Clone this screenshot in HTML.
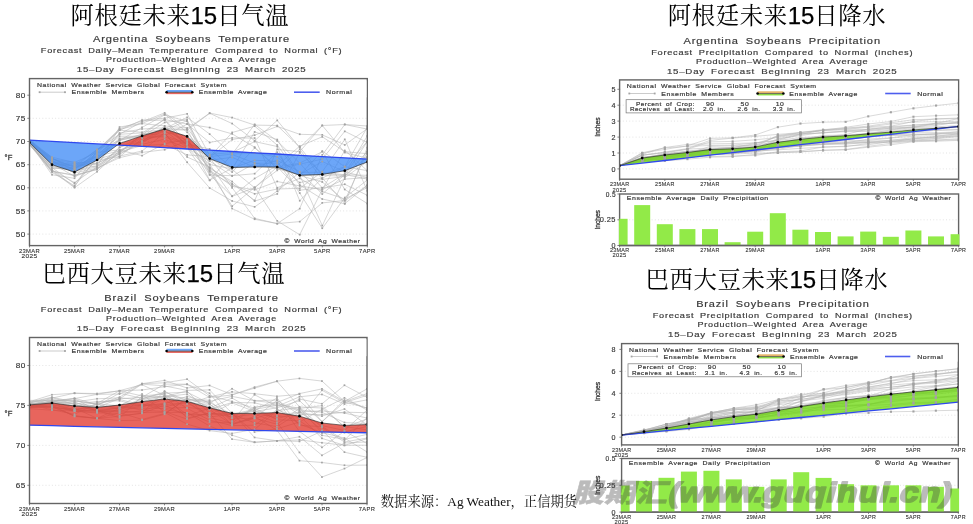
<!DOCTYPE html>
<html lang="zh"><head><meta charset="utf-8"><title>大豆天气预报</title>
<style>html,body{margin:0;padding:0;background:#fff;}body{width:973px;height:524px;overflow:hidden;}svg{display:block;}</style>
</head><body>
<svg width="973" height="524" viewBox="0 0 973 524" font-family="'Liberation Sans', sans-serif">
<rect width="973" height="524" fill="#fff"/>
<text x="70.5" y="23.7" font-size="23.4" letter-spacing="0.6" fill="#000" font-family="'Liberation Sans', 'Noto Serif CJK SC', serif">阿根廷未来<tspan font-family="'Liberation Sans', sans-serif" font-size="24" letter-spacing="0" stroke="#000" stroke-width="0.25">15</tspan>日气温</text>
<text x="42.5" y="281.7" font-size="23.4" letter-spacing="0.6" fill="#000" font-family="'Liberation Sans', 'Noto Serif CJK SC', serif">巴西大豆未来<tspan font-family="'Liberation Sans', sans-serif" font-size="24" letter-spacing="0" stroke="#000" stroke-width="0.25">15</tspan>日气温</text>
<text x="667.7" y="23.7" font-size="23.4" letter-spacing="0.6" fill="#000" font-family="'Liberation Sans', 'Noto Serif CJK SC', serif">阿根廷未来<tspan font-family="'Liberation Sans', sans-serif" font-size="24" letter-spacing="0" stroke="#000" stroke-width="0.25">15</tspan>日降水</text>
<text x="645.5" y="288.2" font-size="23.4" letter-spacing="0.6" fill="#000" font-family="'Liberation Sans', 'Noto Serif CJK SC', serif">巴西大豆未来<tspan font-family="'Liberation Sans', sans-serif" font-size="24" letter-spacing="0" stroke="#000" stroke-width="0.25">15</tspan>日降水</text>
<text x="93.0" y="42.3" font-size="8.8" fill="#3a3a3a" textLength="197.1" lengthAdjust="spacingAndGlyphs" letter-spacing="0.7" word-spacing="2.46" stroke="#3a3a3a" stroke-width="0.18" >Argentina Soybeans Temperature</text>
<text x="40.8" y="53.3" font-size="7.3" fill="#3a3a3a" textLength="301.6" lengthAdjust="spacingAndGlyphs" letter-spacing="0.58" word-spacing="2.04" stroke="#3a3a3a" stroke-width="0.18" >Forecast Daily–Mean Temperature Compared to Normal (°F)</text>
<text x="106.1" y="62.4" font-size="7.3" fill="#3a3a3a" textLength="170.9" lengthAdjust="spacingAndGlyphs" letter-spacing="0.58" word-spacing="2.04" stroke="#3a3a3a" stroke-width="0.18" >Production–Weighted Area Average</text>
<text x="76.8" y="72.2" font-size="8.0" fill="#3a3a3a" textLength="229.7" lengthAdjust="spacingAndGlyphs" letter-spacing="0.64" word-spacing="2.24" stroke="#3a3a3a" stroke-width="0.18" >15–Day Forecast Beginning 23 March 2025</text>
<clipPath id="c1"><rect x="29.5" y="78.6" width="337.8" height="167.0"/></clipPath>
<line x1="29.5" x2="367.3" y1="95.2" y2="95.2" stroke="#d2d2d2" stroke-width="0.6" stroke-dasharray="1 2.2"/>
<line x1="29.5" x2="367.3" y1="118.3" y2="118.3" stroke="#d2d2d2" stroke-width="0.6" stroke-dasharray="1 2.2"/>
<line x1="29.5" x2="367.3" y1="141.5" y2="141.5" stroke="#d2d2d2" stroke-width="0.6" stroke-dasharray="1 2.2"/>
<line x1="29.5" x2="367.3" y1="164.7" y2="164.7" stroke="#d2d2d2" stroke-width="0.6" stroke-dasharray="1 2.2"/>
<line x1="29.5" x2="367.3" y1="187.8" y2="187.8" stroke="#d2d2d2" stroke-width="0.6" stroke-dasharray="1 2.2"/>
<line x1="29.5" x2="367.3" y1="210.9" y2="210.9" stroke="#d2d2d2" stroke-width="0.6" stroke-dasharray="1 2.2"/>
<line x1="29.5" x2="367.3" y1="234.1" y2="234.1" stroke="#d2d2d2" stroke-width="0.6" stroke-dasharray="1 2.2"/>
<g clip-path="url(#c1)">
<g fill="none" stroke="#b4b4b4" stroke-width="0.55">
<polyline points="29.5,143.9 52.0,167.7 74.5,170.5 97.1,162.8 119.6,154.1 142.1,142.7 164.6,130.1 187.1,120.7 209.7,164.5 232.2,196.2 254.7,178.5 277.2,165.5 299.7,146.2 322.3,136.8 344.8,151.7 367.3,153.7"/>
<polyline points="29.5,139.4 52.0,157.7 74.5,171.1 97.1,166.9 119.6,147.6 142.1,136.7 164.6,132.1 187.1,135.8 209.7,154.5 232.2,152.5 254.7,141.6 277.2,146.5 299.7,200.7 322.3,178.0 344.8,203.6 367.3,185.4"/>
<polyline points="29.5,144.2 52.0,169.9 74.5,182.6 97.1,166.8 119.6,127.0 142.1,123.4 164.6,114.2 187.1,132.3 209.7,160.3 232.2,157.3 254.7,167.4 277.2,160.3 299.7,171.7 322.3,194.0 344.8,174.5 367.3,179.1"/>
<polyline points="29.5,139.6 52.0,160.8 74.5,165.8 97.1,156.4 119.6,134.3 142.1,132.9 164.6,119.5 187.1,124.0 209.7,127.5 232.2,133.9 254.7,147.2 277.2,169.0 299.7,164.2 322.3,159.1 344.8,131.3 367.3,142.5"/>
<polyline points="29.5,141.4 52.0,161.3 74.5,168.5 97.1,157.0 119.6,139.9 142.1,136.7 164.6,137.0 187.1,144.4 209.7,157.4 232.2,139.6 254.7,135.2 277.2,126.4 299.7,134.3 322.3,134.9 344.8,144.9 367.3,128.7"/>
<polyline points="29.5,139.7 52.0,160.5 74.5,173.2 97.1,149.8 119.6,134.2 142.1,121.8 164.6,112.9 187.1,128.8 209.7,113.1 232.2,117.6 254.7,125.1 277.2,125.5 299.7,147.0 322.3,175.4 344.8,176.2 367.3,156.8"/>
<polyline points="29.5,140.6 52.0,158.6 74.5,167.2 97.1,149.3 119.6,140.6 142.1,127.4 164.6,114.9 187.1,121.4 209.7,174.5 232.2,196.4 254.7,187.5 277.2,170.4 299.7,149.3 322.3,179.4 344.8,176.4 367.3,151.5"/>
<polyline points="29.5,142.4 52.0,174.8 74.5,178.3 97.1,151.2 119.6,130.2 142.1,132.3 164.6,129.5 187.1,130.1 209.7,113.3 232.2,123.6 254.7,140.7 277.2,120.4 299.7,147.6 322.3,125.5 344.8,152.6 367.3,158.2"/>
<polyline points="29.5,141.2 52.0,157.2 74.5,162.5 97.1,152.4 119.6,149.9 142.1,144.3 164.6,139.2 187.1,148.2 209.7,161.0 232.2,176.1 254.7,163.3 277.2,163.1 299.7,182.6 322.3,178.1 344.8,167.2 367.3,141.4"/>
<polyline points="29.5,142.8 52.0,167.6 74.5,183.7 97.1,159.2 119.6,133.0 142.1,129.0 164.6,127.8 187.1,144.7 209.7,164.6 232.2,168.8 254.7,131.9 277.2,139.6 299.7,175.2 322.3,225.7 344.8,177.7 367.3,161.5"/>
<polyline points="29.5,144.4 52.0,169.7 74.5,187.1 97.1,150.3 119.6,128.7 142.1,120.8 164.6,120.0 187.1,147.2 209.7,171.6 232.2,206.2 254.7,187.3 277.2,220.9 299.7,234.7 322.3,189.5 344.8,150.4 367.3,170.7"/>
<polyline points="29.5,144.3 52.0,166.7 74.5,170.4 97.1,165.6 119.6,151.9 142.1,145.6 164.6,144.4 187.1,154.9 209.7,156.6 232.2,154.0 254.7,124.4 277.2,141.0 299.7,163.1 322.3,187.9 344.8,184.3 367.3,195.3"/>
<polyline points="29.5,144.6 52.0,168.3 74.5,168.5 97.1,153.4 119.6,129.5 142.1,123.6 164.6,125.9 187.1,128.0 209.7,157.7 232.2,187.8 254.7,218.4 277.2,223.6 299.7,221.6 322.3,202.9 344.8,200.5 367.3,151.9"/>
<polyline points="29.5,141.9 52.0,162.2 74.5,164.1 97.1,160.2 119.6,156.6 142.1,138.6 164.6,135.9 187.1,124.1 209.7,142.5 232.2,137.9 254.7,138.1 277.2,187.8 299.7,178.3 322.3,191.5 344.8,199.0 367.3,187.6"/>
<polyline points="29.5,141.1 52.0,159.1 74.5,162.3 97.1,164.0 119.6,150.1 142.1,155.6 164.6,143.6 187.1,139.7 209.7,175.0 232.2,175.7 254.7,173.7 277.2,152.2 299.7,185.0 322.3,199.0 344.8,203.8 367.3,147.6"/>
<polyline points="29.5,140.7 52.0,161.9 74.5,169.4 97.1,158.3 119.6,140.6 142.1,134.4 164.6,130.5 187.1,147.6 209.7,180.4 232.2,154.0 254.7,153.2 277.2,156.9 299.7,175.8 322.3,174.9 344.8,166.6 367.3,170.7"/>
<polyline points="29.5,141.9 52.0,163.5 74.5,176.4 97.1,168.5 119.6,156.1 142.1,151.0 164.6,132.7 187.1,162.3 209.7,188.0 232.2,201.0 254.7,206.9 277.2,191.1 299.7,172.3 322.3,172.3 344.8,174.8 367.3,175.3"/>
<polyline points="29.5,142.4 52.0,162.0 74.5,172.9 97.1,168.2 119.6,157.7 142.1,152.4 164.6,149.7 187.1,141.0 209.7,158.0 232.2,172.1 254.7,147.9 277.2,167.1 299.7,163.2 322.3,151.6 344.8,189.5 367.3,203.5"/>
<polyline points="29.5,143.5 52.0,164.6 74.5,165.9 97.1,163.9 119.6,139.1 142.1,134.6 164.6,131.0 187.1,140.2 209.7,168.3 232.2,208.6 254.7,219.3 277.2,223.6 299.7,208.6 322.3,154.9 344.8,124.5 367.3,126.0"/>
<polyline points="29.5,144.6 52.0,172.3 74.5,185.8 97.1,158.4 119.6,138.3 142.1,136.5 164.6,122.5 187.1,119.5 209.7,170.0 232.2,186.3 254.7,189.8 277.2,181.5 299.7,185.9 322.3,189.6 344.8,179.1 367.3,177.7"/>
<polyline points="29.5,143.4 52.0,162.2 74.5,168.9 97.1,156.0 119.6,151.0 142.1,141.2 164.6,126.6 187.1,144.1 209.7,149.0 232.2,168.2 254.7,165.3 277.2,168.5 299.7,175.1 322.3,151.1 344.8,166.7 367.3,127.2"/>
<polyline points="29.5,143.3 52.0,171.3 74.5,175.5 97.1,169.5 119.6,152.7 142.1,134.8 164.6,119.3 187.1,142.4 209.7,156.9 232.2,132.5 254.7,126.2 277.2,145.1 299.7,175.5 322.3,182.0 344.8,200.8 367.3,185.4"/>
<polyline points="29.5,142.4 52.0,166.3 74.5,168.1 97.1,159.4 119.6,152.6 142.1,133.8 164.6,135.4 187.1,143.4 209.7,168.3 232.2,181.5 254.7,201.1 277.2,193.9 299.7,152.7 322.3,173.5 344.8,175.5 367.3,141.6"/>
<polyline points="29.5,141.1 52.0,159.7 74.5,163.7 97.1,166.8 119.6,153.9 142.1,141.2 164.6,128.9 187.1,117.3 209.7,134.1 232.2,154.5 254.7,163.0 277.2,168.5 299.7,174.5 322.3,161.5 344.8,171.9 367.3,177.5"/>
<polyline points="29.5,143.4 52.0,163.7 74.5,165.1 97.1,150.0 119.6,130.3 142.1,120.0 164.6,118.2 187.1,113.8 209.7,155.4 232.2,169.5 254.7,187.8 277.2,166.8 299.7,190.2 322.3,187.7 344.8,173.8 367.3,135.9"/>
<polyline points="29.5,143.3 52.0,171.3 74.5,175.0 97.1,169.4 119.6,147.1 142.1,141.4 164.6,133.5 187.1,157.0 209.7,167.2 232.2,183.6 254.7,200.5 277.2,149.4 299.7,151.7 322.3,125.5 344.8,124.5 367.3,129.1"/>
<polyline points="29.5,142.0 52.0,158.5 74.5,167.6 97.1,155.0 119.6,136.2 142.1,136.3 164.6,128.3 187.1,137.0 209.7,180.2 232.2,168.1 254.7,160.3 277.2,161.3 299.7,193.0 322.3,228.3 344.8,197.6 367.3,180.0"/>
<polyline points="29.5,144.5 52.0,170.9 74.5,187.7 97.1,171.7 119.6,150.8 142.1,137.5 164.6,128.4 187.1,129.5 209.7,171.6 232.2,184.7 254.7,193.8 277.2,189.0 299.7,188.3 322.3,171.7 344.8,139.4 367.3,190.9"/>
</g>
<g fill-opacity="0.72">
<polygon points="29.5,142.4 52.0,164.7 74.5,172.1 97.1,160.0 117.3,145.0 117.3,145.0 97.1,143.9 74.5,142.6 52.0,141.4 29.5,140.1" fill="#3383f5"/>
<polygon points="117.3,145.0 119.6,143.4 142.1,135.9 164.6,129.0 187.1,136.4 200.6,149.7 200.6,149.7 187.1,149.0 164.6,147.7 142.1,146.4 119.6,145.2 117.3,145.0" fill="#df291f"/>
<polygon points="200.6,149.7 209.7,158.6 232.2,167.4 254.7,167.0 277.2,167.0 299.7,175.3 322.3,174.4 344.8,170.7 367.3,161.9 367.3,159.1 344.8,157.8 322.3,156.6 299.7,155.3 277.2,154.0 254.7,152.8 232.2,151.5 209.7,150.2 200.6,149.7" fill="#3383f5"/>
</g>
<g fill="#a3a3a3">
<rect x="51.2" y="166.8" width="1.7" height="1.7"/>
<rect x="73.7" y="169.6" width="1.7" height="1.7"/>
<rect x="96.2" y="161.9" width="1.7" height="1.7"/>
<rect x="118.7" y="153.3" width="1.7" height="1.7"/>
<rect x="141.2" y="141.8" width="1.7" height="1.7"/>
<rect x="163.8" y="129.2" width="1.7" height="1.7"/>
<rect x="186.3" y="119.9" width="1.7" height="1.7"/>
<rect x="208.8" y="163.7" width="1.7" height="1.7"/>
<rect x="231.3" y="195.3" width="1.7" height="1.7"/>
<rect x="253.8" y="177.6" width="1.7" height="1.7"/>
<rect x="276.4" y="164.7" width="1.7" height="1.7"/>
<rect x="298.9" y="145.3" width="1.7" height="1.7"/>
<rect x="321.4" y="136.0" width="1.7" height="1.7"/>
<rect x="343.9" y="150.9" width="1.7" height="1.7"/>
<rect x="366.4" y="152.9" width="1.7" height="1.7"/>
<rect x="51.2" y="156.8" width="1.7" height="1.7"/>
<rect x="73.7" y="170.2" width="1.7" height="1.7"/>
<rect x="96.2" y="166.1" width="1.7" height="1.7"/>
<rect x="118.7" y="146.8" width="1.7" height="1.7"/>
<rect x="141.2" y="135.9" width="1.7" height="1.7"/>
<rect x="163.8" y="131.2" width="1.7" height="1.7"/>
<rect x="186.3" y="134.9" width="1.7" height="1.7"/>
<rect x="208.8" y="153.7" width="1.7" height="1.7"/>
<rect x="231.3" y="151.6" width="1.7" height="1.7"/>
<rect x="253.8" y="140.7" width="1.7" height="1.7"/>
<rect x="276.4" y="145.7" width="1.7" height="1.7"/>
<rect x="298.9" y="199.9" width="1.7" height="1.7"/>
<rect x="321.4" y="177.2" width="1.7" height="1.7"/>
<rect x="343.9" y="202.7" width="1.7" height="1.7"/>
<rect x="366.4" y="184.5" width="1.7" height="1.7"/>
<rect x="51.2" y="169.1" width="1.7" height="1.7"/>
<rect x="73.7" y="181.8" width="1.7" height="1.7"/>
<rect x="96.2" y="166.0" width="1.7" height="1.7"/>
<rect x="118.7" y="126.2" width="1.7" height="1.7"/>
<rect x="141.2" y="122.5" width="1.7" height="1.7"/>
<rect x="163.8" y="113.4" width="1.7" height="1.7"/>
<rect x="186.3" y="131.4" width="1.7" height="1.7"/>
<rect x="208.8" y="159.5" width="1.7" height="1.7"/>
<rect x="231.3" y="156.5" width="1.7" height="1.7"/>
<rect x="253.8" y="166.5" width="1.7" height="1.7"/>
<rect x="276.4" y="159.4" width="1.7" height="1.7"/>
<rect x="298.9" y="170.9" width="1.7" height="1.7"/>
<rect x="321.4" y="193.2" width="1.7" height="1.7"/>
<rect x="343.9" y="173.7" width="1.7" height="1.7"/>
<rect x="366.4" y="178.3" width="1.7" height="1.7"/>
<rect x="51.2" y="160.0" width="1.7" height="1.7"/>
<rect x="73.7" y="164.9" width="1.7" height="1.7"/>
<rect x="96.2" y="155.6" width="1.7" height="1.7"/>
<rect x="118.7" y="133.4" width="1.7" height="1.7"/>
<rect x="141.2" y="132.0" width="1.7" height="1.7"/>
<rect x="163.8" y="118.7" width="1.7" height="1.7"/>
<rect x="186.3" y="123.2" width="1.7" height="1.7"/>
<rect x="208.8" y="126.7" width="1.7" height="1.7"/>
<rect x="231.3" y="133.0" width="1.7" height="1.7"/>
<rect x="253.8" y="146.3" width="1.7" height="1.7"/>
<rect x="276.4" y="168.1" width="1.7" height="1.7"/>
<rect x="298.9" y="163.4" width="1.7" height="1.7"/>
<rect x="321.4" y="158.2" width="1.7" height="1.7"/>
<rect x="343.9" y="130.5" width="1.7" height="1.7"/>
<rect x="366.4" y="141.6" width="1.7" height="1.7"/>
<rect x="51.2" y="160.4" width="1.7" height="1.7"/>
<rect x="73.7" y="167.6" width="1.7" height="1.7"/>
<rect x="96.2" y="156.2" width="1.7" height="1.7"/>
<rect x="118.7" y="139.0" width="1.7" height="1.7"/>
<rect x="141.2" y="135.8" width="1.7" height="1.7"/>
<rect x="163.8" y="136.2" width="1.7" height="1.7"/>
<rect x="186.3" y="143.6" width="1.7" height="1.7"/>
<rect x="208.8" y="156.6" width="1.7" height="1.7"/>
<rect x="231.3" y="138.8" width="1.7" height="1.7"/>
<rect x="253.8" y="134.3" width="1.7" height="1.7"/>
<rect x="276.4" y="125.5" width="1.7" height="1.7"/>
<rect x="298.9" y="133.4" width="1.7" height="1.7"/>
<rect x="321.4" y="134.0" width="1.7" height="1.7"/>
<rect x="343.9" y="144.1" width="1.7" height="1.7"/>
<rect x="366.4" y="127.8" width="1.7" height="1.7"/>
<rect x="51.2" y="159.6" width="1.7" height="1.7"/>
<rect x="73.7" y="172.3" width="1.7" height="1.7"/>
<rect x="96.2" y="149.0" width="1.7" height="1.7"/>
<rect x="118.7" y="133.4" width="1.7" height="1.7"/>
<rect x="141.2" y="120.9" width="1.7" height="1.7"/>
<rect x="163.8" y="112.0" width="1.7" height="1.7"/>
<rect x="186.3" y="128.0" width="1.7" height="1.7"/>
<rect x="208.8" y="112.2" width="1.7" height="1.7"/>
<rect x="231.3" y="116.7" width="1.7" height="1.7"/>
<rect x="253.8" y="124.2" width="1.7" height="1.7"/>
<rect x="276.4" y="124.7" width="1.7" height="1.7"/>
<rect x="298.9" y="146.1" width="1.7" height="1.7"/>
<rect x="321.4" y="174.6" width="1.7" height="1.7"/>
<rect x="343.9" y="175.3" width="1.7" height="1.7"/>
<rect x="366.4" y="156.0" width="1.7" height="1.7"/>
<rect x="51.2" y="157.8" width="1.7" height="1.7"/>
<rect x="73.7" y="166.4" width="1.7" height="1.7"/>
<rect x="96.2" y="148.5" width="1.7" height="1.7"/>
<rect x="118.7" y="139.7" width="1.7" height="1.7"/>
<rect x="141.2" y="126.5" width="1.7" height="1.7"/>
<rect x="163.8" y="114.1" width="1.7" height="1.7"/>
<rect x="186.3" y="120.5" width="1.7" height="1.7"/>
<rect x="208.8" y="173.6" width="1.7" height="1.7"/>
<rect x="231.3" y="195.5" width="1.7" height="1.7"/>
<rect x="253.8" y="186.7" width="1.7" height="1.7"/>
<rect x="276.4" y="169.5" width="1.7" height="1.7"/>
<rect x="298.9" y="148.4" width="1.7" height="1.7"/>
<rect x="321.4" y="178.5" width="1.7" height="1.7"/>
<rect x="343.9" y="175.6" width="1.7" height="1.7"/>
<rect x="366.4" y="150.7" width="1.7" height="1.7"/>
<rect x="51.2" y="173.9" width="1.7" height="1.7"/>
<rect x="73.7" y="177.4" width="1.7" height="1.7"/>
<rect x="96.2" y="150.4" width="1.7" height="1.7"/>
<rect x="118.7" y="129.3" width="1.7" height="1.7"/>
<rect x="141.2" y="131.4" width="1.7" height="1.7"/>
<rect x="163.8" y="128.7" width="1.7" height="1.7"/>
<rect x="186.3" y="129.2" width="1.7" height="1.7"/>
<rect x="208.8" y="112.5" width="1.7" height="1.7"/>
<rect x="231.3" y="122.7" width="1.7" height="1.7"/>
<rect x="253.8" y="139.9" width="1.7" height="1.7"/>
<rect x="276.4" y="119.5" width="1.7" height="1.7"/>
<rect x="298.9" y="146.8" width="1.7" height="1.7"/>
<rect x="321.4" y="124.6" width="1.7" height="1.7"/>
<rect x="343.9" y="151.7" width="1.7" height="1.7"/>
<rect x="366.4" y="157.3" width="1.7" height="1.7"/>
<rect x="51.2" y="156.3" width="1.7" height="1.7"/>
<rect x="73.7" y="161.6" width="1.7" height="1.7"/>
<rect x="96.2" y="151.5" width="1.7" height="1.7"/>
<rect x="118.7" y="149.0" width="1.7" height="1.7"/>
<rect x="141.2" y="143.5" width="1.7" height="1.7"/>
<rect x="163.8" y="138.4" width="1.7" height="1.7"/>
<rect x="186.3" y="147.3" width="1.7" height="1.7"/>
<rect x="208.8" y="160.2" width="1.7" height="1.7"/>
<rect x="231.3" y="175.2" width="1.7" height="1.7"/>
<rect x="253.8" y="162.5" width="1.7" height="1.7"/>
<rect x="276.4" y="162.3" width="1.7" height="1.7"/>
<rect x="298.9" y="181.7" width="1.7" height="1.7"/>
<rect x="321.4" y="177.3" width="1.7" height="1.7"/>
<rect x="343.9" y="166.4" width="1.7" height="1.7"/>
<rect x="366.4" y="140.6" width="1.7" height="1.7"/>
<rect x="51.2" y="166.7" width="1.7" height="1.7"/>
<rect x="73.7" y="182.8" width="1.7" height="1.7"/>
<rect x="96.2" y="158.4" width="1.7" height="1.7"/>
<rect x="118.7" y="132.1" width="1.7" height="1.7"/>
<rect x="141.2" y="128.1" width="1.7" height="1.7"/>
<rect x="163.8" y="126.9" width="1.7" height="1.7"/>
<rect x="186.3" y="143.9" width="1.7" height="1.7"/>
<rect x="208.8" y="163.7" width="1.7" height="1.7"/>
<rect x="231.3" y="167.9" width="1.7" height="1.7"/>
<rect x="253.8" y="131.1" width="1.7" height="1.7"/>
<rect x="276.4" y="138.7" width="1.7" height="1.7"/>
<rect x="298.9" y="174.4" width="1.7" height="1.7"/>
<rect x="321.4" y="224.8" width="1.7" height="1.7"/>
<rect x="343.9" y="176.9" width="1.7" height="1.7"/>
<rect x="366.4" y="160.6" width="1.7" height="1.7"/>
<rect x="51.2" y="168.9" width="1.7" height="1.7"/>
<rect x="73.7" y="186.2" width="1.7" height="1.7"/>
<rect x="96.2" y="149.5" width="1.7" height="1.7"/>
<rect x="118.7" y="127.9" width="1.7" height="1.7"/>
<rect x="141.2" y="120.0" width="1.7" height="1.7"/>
<rect x="163.8" y="119.1" width="1.7" height="1.7"/>
<rect x="186.3" y="146.3" width="1.7" height="1.7"/>
<rect x="208.8" y="170.8" width="1.7" height="1.7"/>
<rect x="231.3" y="205.3" width="1.7" height="1.7"/>
<rect x="253.8" y="186.4" width="1.7" height="1.7"/>
<rect x="276.4" y="220.0" width="1.7" height="1.7"/>
<rect x="298.9" y="233.8" width="1.7" height="1.7"/>
<rect x="321.4" y="188.7" width="1.7" height="1.7"/>
<rect x="343.9" y="149.6" width="1.7" height="1.7"/>
<rect x="366.4" y="169.9" width="1.7" height="1.7"/>
<rect x="51.2" y="165.9" width="1.7" height="1.7"/>
<rect x="73.7" y="169.6" width="1.7" height="1.7"/>
<rect x="96.2" y="164.7" width="1.7" height="1.7"/>
<rect x="118.7" y="151.1" width="1.7" height="1.7"/>
<rect x="141.2" y="144.7" width="1.7" height="1.7"/>
<rect x="163.8" y="143.5" width="1.7" height="1.7"/>
<rect x="186.3" y="154.1" width="1.7" height="1.7"/>
<rect x="208.8" y="155.7" width="1.7" height="1.7"/>
<rect x="231.3" y="153.2" width="1.7" height="1.7"/>
<rect x="253.8" y="123.5" width="1.7" height="1.7"/>
<rect x="276.4" y="140.1" width="1.7" height="1.7"/>
<rect x="298.9" y="162.3" width="1.7" height="1.7"/>
<rect x="321.4" y="187.1" width="1.7" height="1.7"/>
<rect x="343.9" y="183.4" width="1.7" height="1.7"/>
<rect x="366.4" y="194.5" width="1.7" height="1.7"/>
<rect x="51.2" y="167.4" width="1.7" height="1.7"/>
<rect x="73.7" y="167.7" width="1.7" height="1.7"/>
<rect x="96.2" y="152.5" width="1.7" height="1.7"/>
<rect x="118.7" y="128.7" width="1.7" height="1.7"/>
<rect x="141.2" y="122.7" width="1.7" height="1.7"/>
<rect x="163.8" y="125.0" width="1.7" height="1.7"/>
<rect x="186.3" y="127.1" width="1.7" height="1.7"/>
<rect x="208.8" y="156.8" width="1.7" height="1.7"/>
<rect x="231.3" y="187.0" width="1.7" height="1.7"/>
<rect x="253.8" y="217.5" width="1.7" height="1.7"/>
<rect x="276.4" y="222.8" width="1.7" height="1.7"/>
<rect x="298.9" y="220.8" width="1.7" height="1.7"/>
<rect x="321.4" y="202.0" width="1.7" height="1.7"/>
<rect x="343.9" y="199.7" width="1.7" height="1.7"/>
<rect x="366.4" y="151.0" width="1.7" height="1.7"/>
<rect x="51.2" y="161.4" width="1.7" height="1.7"/>
<rect x="73.7" y="163.2" width="1.7" height="1.7"/>
<rect x="96.2" y="159.3" width="1.7" height="1.7"/>
<rect x="118.7" y="155.7" width="1.7" height="1.7"/>
<rect x="141.2" y="137.7" width="1.7" height="1.7"/>
<rect x="163.8" y="135.0" width="1.7" height="1.7"/>
<rect x="186.3" y="123.2" width="1.7" height="1.7"/>
<rect x="208.8" y="141.7" width="1.7" height="1.7"/>
<rect x="231.3" y="137.1" width="1.7" height="1.7"/>
<rect x="253.8" y="137.2" width="1.7" height="1.7"/>
<rect x="276.4" y="186.9" width="1.7" height="1.7"/>
<rect x="298.9" y="177.5" width="1.7" height="1.7"/>
<rect x="321.4" y="190.7" width="1.7" height="1.7"/>
<rect x="343.9" y="198.1" width="1.7" height="1.7"/>
<rect x="366.4" y="186.7" width="1.7" height="1.7"/>
<rect x="51.2" y="158.3" width="1.7" height="1.7"/>
<rect x="73.7" y="161.5" width="1.7" height="1.7"/>
<rect x="96.2" y="163.1" width="1.7" height="1.7"/>
<rect x="118.7" y="149.2" width="1.7" height="1.7"/>
<rect x="141.2" y="154.8" width="1.7" height="1.7"/>
<rect x="163.8" y="142.7" width="1.7" height="1.7"/>
<rect x="186.3" y="138.8" width="1.7" height="1.7"/>
<rect x="208.8" y="174.1" width="1.7" height="1.7"/>
<rect x="231.3" y="174.8" width="1.7" height="1.7"/>
<rect x="253.8" y="172.8" width="1.7" height="1.7"/>
<rect x="276.4" y="151.4" width="1.7" height="1.7"/>
<rect x="298.9" y="184.1" width="1.7" height="1.7"/>
<rect x="321.4" y="198.2" width="1.7" height="1.7"/>
<rect x="343.9" y="203.0" width="1.7" height="1.7"/>
<rect x="366.4" y="146.8" width="1.7" height="1.7"/>
<rect x="51.2" y="161.1" width="1.7" height="1.7"/>
<rect x="73.7" y="168.6" width="1.7" height="1.7"/>
<rect x="96.2" y="157.4" width="1.7" height="1.7"/>
<rect x="118.7" y="139.8" width="1.7" height="1.7"/>
<rect x="141.2" y="133.6" width="1.7" height="1.7"/>
<rect x="163.8" y="129.6" width="1.7" height="1.7"/>
<rect x="186.3" y="146.8" width="1.7" height="1.7"/>
<rect x="208.8" y="179.5" width="1.7" height="1.7"/>
<rect x="231.3" y="153.1" width="1.7" height="1.7"/>
<rect x="253.8" y="152.3" width="1.7" height="1.7"/>
<rect x="276.4" y="156.0" width="1.7" height="1.7"/>
<rect x="298.9" y="175.0" width="1.7" height="1.7"/>
<rect x="321.4" y="174.0" width="1.7" height="1.7"/>
<rect x="343.9" y="165.8" width="1.7" height="1.7"/>
<rect x="366.4" y="169.9" width="1.7" height="1.7"/>
<rect x="51.2" y="162.6" width="1.7" height="1.7"/>
<rect x="73.7" y="175.5" width="1.7" height="1.7"/>
<rect x="96.2" y="167.6" width="1.7" height="1.7"/>
<rect x="118.7" y="155.2" width="1.7" height="1.7"/>
<rect x="141.2" y="150.2" width="1.7" height="1.7"/>
<rect x="163.8" y="131.9" width="1.7" height="1.7"/>
<rect x="186.3" y="161.4" width="1.7" height="1.7"/>
<rect x="208.8" y="187.2" width="1.7" height="1.7"/>
<rect x="231.3" y="200.1" width="1.7" height="1.7"/>
<rect x="253.8" y="206.0" width="1.7" height="1.7"/>
<rect x="276.4" y="190.3" width="1.7" height="1.7"/>
<rect x="298.9" y="171.5" width="1.7" height="1.7"/>
<rect x="321.4" y="171.5" width="1.7" height="1.7"/>
<rect x="343.9" y="173.9" width="1.7" height="1.7"/>
<rect x="366.4" y="174.5" width="1.7" height="1.7"/>
<rect x="51.2" y="161.1" width="1.7" height="1.7"/>
<rect x="73.7" y="172.1" width="1.7" height="1.7"/>
<rect x="96.2" y="167.4" width="1.7" height="1.7"/>
<rect x="118.7" y="156.8" width="1.7" height="1.7"/>
<rect x="141.2" y="151.6" width="1.7" height="1.7"/>
<rect x="163.8" y="148.9" width="1.7" height="1.7"/>
<rect x="186.3" y="140.1" width="1.7" height="1.7"/>
<rect x="208.8" y="157.2" width="1.7" height="1.7"/>
<rect x="231.3" y="171.2" width="1.7" height="1.7"/>
<rect x="253.8" y="147.0" width="1.7" height="1.7"/>
<rect x="276.4" y="166.3" width="1.7" height="1.7"/>
<rect x="298.9" y="162.4" width="1.7" height="1.7"/>
<rect x="321.4" y="150.8" width="1.7" height="1.7"/>
<rect x="343.9" y="188.6" width="1.7" height="1.7"/>
<rect x="366.4" y="202.7" width="1.7" height="1.7"/>
<rect x="51.2" y="163.8" width="1.7" height="1.7"/>
<rect x="73.7" y="165.1" width="1.7" height="1.7"/>
<rect x="96.2" y="163.0" width="1.7" height="1.7"/>
<rect x="118.7" y="138.2" width="1.7" height="1.7"/>
<rect x="141.2" y="133.8" width="1.7" height="1.7"/>
<rect x="163.8" y="130.1" width="1.7" height="1.7"/>
<rect x="186.3" y="139.4" width="1.7" height="1.7"/>
<rect x="208.8" y="167.5" width="1.7" height="1.7"/>
<rect x="231.3" y="207.7" width="1.7" height="1.7"/>
<rect x="253.8" y="218.4" width="1.7" height="1.7"/>
<rect x="276.4" y="222.8" width="1.7" height="1.7"/>
<rect x="298.9" y="207.8" width="1.7" height="1.7"/>
<rect x="321.4" y="154.0" width="1.7" height="1.7"/>
<rect x="343.9" y="123.6" width="1.7" height="1.7"/>
<rect x="366.4" y="125.1" width="1.7" height="1.7"/>
<rect x="51.2" y="171.5" width="1.7" height="1.7"/>
<rect x="73.7" y="185.0" width="1.7" height="1.7"/>
<rect x="96.2" y="157.6" width="1.7" height="1.7"/>
<rect x="118.7" y="137.4" width="1.7" height="1.7"/>
<rect x="141.2" y="135.6" width="1.7" height="1.7"/>
<rect x="163.8" y="121.6" width="1.7" height="1.7"/>
<rect x="186.3" y="118.7" width="1.7" height="1.7"/>
<rect x="208.8" y="169.2" width="1.7" height="1.7"/>
<rect x="231.3" y="185.4" width="1.7" height="1.7"/>
<rect x="253.8" y="188.9" width="1.7" height="1.7"/>
<rect x="276.4" y="180.6" width="1.7" height="1.7"/>
<rect x="298.9" y="185.1" width="1.7" height="1.7"/>
<rect x="321.4" y="188.8" width="1.7" height="1.7"/>
<rect x="343.9" y="178.3" width="1.7" height="1.7"/>
<rect x="366.4" y="176.8" width="1.7" height="1.7"/>
<rect x="51.2" y="161.3" width="1.7" height="1.7"/>
<rect x="73.7" y="168.0" width="1.7" height="1.7"/>
<rect x="96.2" y="155.1" width="1.7" height="1.7"/>
<rect x="118.7" y="150.1" width="1.7" height="1.7"/>
<rect x="141.2" y="140.4" width="1.7" height="1.7"/>
<rect x="163.8" y="125.7" width="1.7" height="1.7"/>
<rect x="186.3" y="143.3" width="1.7" height="1.7"/>
<rect x="208.8" y="148.1" width="1.7" height="1.7"/>
<rect x="231.3" y="167.4" width="1.7" height="1.7"/>
<rect x="253.8" y="164.5" width="1.7" height="1.7"/>
<rect x="276.4" y="167.7" width="1.7" height="1.7"/>
<rect x="298.9" y="174.3" width="1.7" height="1.7"/>
<rect x="321.4" y="150.3" width="1.7" height="1.7"/>
<rect x="343.9" y="165.8" width="1.7" height="1.7"/>
<rect x="366.4" y="126.3" width="1.7" height="1.7"/>
<rect x="51.2" y="170.4" width="1.7" height="1.7"/>
<rect x="73.7" y="174.6" width="1.7" height="1.7"/>
<rect x="96.2" y="168.7" width="1.7" height="1.7"/>
<rect x="118.7" y="151.8" width="1.7" height="1.7"/>
<rect x="141.2" y="134.0" width="1.7" height="1.7"/>
<rect x="163.8" y="118.4" width="1.7" height="1.7"/>
<rect x="186.3" y="141.5" width="1.7" height="1.7"/>
<rect x="208.8" y="156.1" width="1.7" height="1.7"/>
<rect x="231.3" y="131.6" width="1.7" height="1.7"/>
<rect x="253.8" y="125.3" width="1.7" height="1.7"/>
<rect x="276.4" y="144.2" width="1.7" height="1.7"/>
<rect x="298.9" y="174.6" width="1.7" height="1.7"/>
<rect x="321.4" y="181.1" width="1.7" height="1.7"/>
<rect x="343.9" y="199.9" width="1.7" height="1.7"/>
<rect x="366.4" y="184.5" width="1.7" height="1.7"/>
<rect x="51.2" y="165.4" width="1.7" height="1.7"/>
<rect x="73.7" y="167.3" width="1.7" height="1.7"/>
<rect x="96.2" y="158.6" width="1.7" height="1.7"/>
<rect x="118.7" y="151.7" width="1.7" height="1.7"/>
<rect x="141.2" y="132.9" width="1.7" height="1.7"/>
<rect x="163.8" y="134.6" width="1.7" height="1.7"/>
<rect x="186.3" y="142.6" width="1.7" height="1.7"/>
<rect x="208.8" y="167.4" width="1.7" height="1.7"/>
<rect x="231.3" y="180.7" width="1.7" height="1.7"/>
<rect x="253.8" y="200.2" width="1.7" height="1.7"/>
<rect x="276.4" y="193.1" width="1.7" height="1.7"/>
<rect x="298.9" y="151.9" width="1.7" height="1.7"/>
<rect x="321.4" y="172.7" width="1.7" height="1.7"/>
<rect x="343.9" y="174.6" width="1.7" height="1.7"/>
<rect x="366.4" y="140.7" width="1.7" height="1.7"/>
<rect x="51.2" y="158.8" width="1.7" height="1.7"/>
<rect x="73.7" y="162.8" width="1.7" height="1.7"/>
<rect x="96.2" y="165.9" width="1.7" height="1.7"/>
<rect x="118.7" y="153.1" width="1.7" height="1.7"/>
<rect x="141.2" y="140.3" width="1.7" height="1.7"/>
<rect x="163.8" y="128.0" width="1.7" height="1.7"/>
<rect x="186.3" y="116.5" width="1.7" height="1.7"/>
<rect x="208.8" y="133.3" width="1.7" height="1.7"/>
<rect x="231.3" y="153.7" width="1.7" height="1.7"/>
<rect x="253.8" y="162.2" width="1.7" height="1.7"/>
<rect x="276.4" y="167.6" width="1.7" height="1.7"/>
<rect x="298.9" y="173.6" width="1.7" height="1.7"/>
<rect x="321.4" y="160.7" width="1.7" height="1.7"/>
<rect x="343.9" y="171.1" width="1.7" height="1.7"/>
<rect x="366.4" y="176.6" width="1.7" height="1.7"/>
<rect x="51.2" y="162.8" width="1.7" height="1.7"/>
<rect x="73.7" y="164.2" width="1.7" height="1.7"/>
<rect x="96.2" y="149.2" width="1.7" height="1.7"/>
<rect x="118.7" y="129.4" width="1.7" height="1.7"/>
<rect x="141.2" y="119.2" width="1.7" height="1.7"/>
<rect x="163.8" y="117.3" width="1.7" height="1.7"/>
<rect x="186.3" y="113.0" width="1.7" height="1.7"/>
<rect x="208.8" y="154.6" width="1.7" height="1.7"/>
<rect x="231.3" y="168.7" width="1.7" height="1.7"/>
<rect x="253.8" y="187.0" width="1.7" height="1.7"/>
<rect x="276.4" y="166.0" width="1.7" height="1.7"/>
<rect x="298.9" y="189.3" width="1.7" height="1.7"/>
<rect x="321.4" y="186.9" width="1.7" height="1.7"/>
<rect x="343.9" y="172.9" width="1.7" height="1.7"/>
<rect x="366.4" y="135.1" width="1.7" height="1.7"/>
<rect x="51.2" y="170.5" width="1.7" height="1.7"/>
<rect x="73.7" y="174.1" width="1.7" height="1.7"/>
<rect x="96.2" y="168.6" width="1.7" height="1.7"/>
<rect x="118.7" y="146.2" width="1.7" height="1.7"/>
<rect x="141.2" y="140.5" width="1.7" height="1.7"/>
<rect x="163.8" y="132.6" width="1.7" height="1.7"/>
<rect x="186.3" y="156.1" width="1.7" height="1.7"/>
<rect x="208.8" y="166.3" width="1.7" height="1.7"/>
<rect x="231.3" y="182.8" width="1.7" height="1.7"/>
<rect x="253.8" y="199.6" width="1.7" height="1.7"/>
<rect x="276.4" y="148.5" width="1.7" height="1.7"/>
<rect x="298.9" y="150.8" width="1.7" height="1.7"/>
<rect x="321.4" y="124.6" width="1.7" height="1.7"/>
<rect x="343.9" y="123.6" width="1.7" height="1.7"/>
<rect x="366.4" y="128.2" width="1.7" height="1.7"/>
<rect x="51.2" y="157.6" width="1.7" height="1.7"/>
<rect x="73.7" y="166.7" width="1.7" height="1.7"/>
<rect x="96.2" y="154.1" width="1.7" height="1.7"/>
<rect x="118.7" y="135.3" width="1.7" height="1.7"/>
<rect x="141.2" y="135.5" width="1.7" height="1.7"/>
<rect x="163.8" y="127.5" width="1.7" height="1.7"/>
<rect x="186.3" y="136.1" width="1.7" height="1.7"/>
<rect x="208.8" y="179.4" width="1.7" height="1.7"/>
<rect x="231.3" y="167.2" width="1.7" height="1.7"/>
<rect x="253.8" y="159.4" width="1.7" height="1.7"/>
<rect x="276.4" y="160.4" width="1.7" height="1.7"/>
<rect x="298.9" y="192.2" width="1.7" height="1.7"/>
<rect x="321.4" y="227.4" width="1.7" height="1.7"/>
<rect x="343.9" y="196.7" width="1.7" height="1.7"/>
<rect x="366.4" y="179.2" width="1.7" height="1.7"/>
<rect x="51.2" y="170.0" width="1.7" height="1.7"/>
<rect x="73.7" y="186.8" width="1.7" height="1.7"/>
<rect x="96.2" y="170.9" width="1.7" height="1.7"/>
<rect x="118.7" y="150.0" width="1.7" height="1.7"/>
<rect x="141.2" y="136.6" width="1.7" height="1.7"/>
<rect x="163.8" y="127.6" width="1.7" height="1.7"/>
<rect x="186.3" y="128.7" width="1.7" height="1.7"/>
<rect x="208.8" y="170.7" width="1.7" height="1.7"/>
<rect x="231.3" y="183.8" width="1.7" height="1.7"/>
<rect x="253.8" y="193.0" width="1.7" height="1.7"/>
<rect x="276.4" y="188.1" width="1.7" height="1.7"/>
<rect x="298.9" y="187.5" width="1.7" height="1.7"/>
<rect x="321.4" y="170.8" width="1.7" height="1.7"/>
<rect x="343.9" y="138.5" width="1.7" height="1.7"/>
<rect x="366.4" y="190.0" width="1.7" height="1.7"/>
</g>
<polyline points="29.5,140.1 52.0,141.4 74.5,142.6 97.1,143.9 119.6,145.2 142.1,146.4 164.6,147.7 187.1,149.0 209.7,150.2 232.2,151.5 254.7,152.8 277.2,154.0 299.7,155.3 322.3,156.6 344.8,157.8 367.3,159.1" fill="none" stroke="#2f48ee" stroke-width="1.35"/>
<polyline points="29.5,142.4 52.0,164.7 74.5,172.1 97.1,160.0 119.6,143.4 142.1,135.9 164.6,129.0 187.1,136.4 209.7,158.6 232.2,167.4 254.7,167.0 277.2,167.0 299.7,175.3 322.3,174.4 344.8,170.7 367.3,161.9" fill="none" stroke="#2a2a2a" stroke-width="0.65"/>
<circle cx="29.5" cy="142.4" r="1.35" fill="#000"/>
<circle cx="52.0" cy="164.7" r="1.35" fill="#000"/>
<circle cx="74.5" cy="172.1" r="1.35" fill="#000"/>
<circle cx="97.1" cy="160.0" r="1.35" fill="#000"/>
<circle cx="119.6" cy="143.4" r="1.35" fill="#000"/>
<circle cx="142.1" cy="135.9" r="1.35" fill="#000"/>
<circle cx="164.6" cy="129.0" r="1.35" fill="#000"/>
<circle cx="187.1" cy="136.4" r="1.35" fill="#000"/>
<circle cx="209.7" cy="158.6" r="1.35" fill="#000"/>
<circle cx="232.2" cy="167.4" r="1.35" fill="#000"/>
<circle cx="254.7" cy="167.0" r="1.35" fill="#000"/>
<circle cx="277.2" cy="167.0" r="1.35" fill="#000"/>
<circle cx="299.7" cy="175.3" r="1.35" fill="#000"/>
<circle cx="322.3" cy="174.4" r="1.35" fill="#000"/>
<circle cx="344.8" cy="170.7" r="1.35" fill="#000"/>
<circle cx="367.3" cy="161.9" r="1.35" fill="#000"/>
</g>
<rect x="29.5" y="78.6" width="337.8" height="167.0" fill="none" stroke="#646464" stroke-width="1.4"/>
<line x1="27.3" x2="29.5" y1="95.2" y2="95.2" stroke="#646464" stroke-width="0.8"/>
<text x="15.8" y="97.8" font-size="7.3" fill="#3a3a3a" textLength="10.0" lengthAdjust="spacingAndGlyphs" letter-spacing="0.4" word-spacing="2.04" stroke="#3a3a3a" stroke-width="0.18" >80</text>
<line x1="27.3" x2="29.5" y1="118.3" y2="118.3" stroke="#646464" stroke-width="0.8"/>
<text x="15.8" y="120.9" font-size="7.3" fill="#3a3a3a" textLength="10.0" lengthAdjust="spacingAndGlyphs" letter-spacing="0.4" word-spacing="2.04" stroke="#3a3a3a" stroke-width="0.18" >75</text>
<line x1="27.3" x2="29.5" y1="141.5" y2="141.5" stroke="#646464" stroke-width="0.8"/>
<text x="15.8" y="144.1" font-size="7.3" fill="#3a3a3a" textLength="10.0" lengthAdjust="spacingAndGlyphs" letter-spacing="0.4" word-spacing="2.04" stroke="#3a3a3a" stroke-width="0.18" >70</text>
<line x1="27.3" x2="29.5" y1="164.7" y2="164.7" stroke="#646464" stroke-width="0.8"/>
<text x="15.8" y="167.2" font-size="7.3" fill="#3a3a3a" textLength="10.0" lengthAdjust="spacingAndGlyphs" letter-spacing="0.4" word-spacing="2.04" stroke="#3a3a3a" stroke-width="0.18" >65</text>
<line x1="27.3" x2="29.5" y1="187.8" y2="187.8" stroke="#646464" stroke-width="0.8"/>
<text x="15.8" y="190.4" font-size="7.3" fill="#3a3a3a" textLength="10.0" lengthAdjust="spacingAndGlyphs" letter-spacing="0.4" word-spacing="2.04" stroke="#3a3a3a" stroke-width="0.18" >60</text>
<line x1="27.3" x2="29.5" y1="210.9" y2="210.9" stroke="#646464" stroke-width="0.8"/>
<text x="15.8" y="213.5" font-size="7.3" fill="#3a3a3a" textLength="10.0" lengthAdjust="spacingAndGlyphs" letter-spacing="0.4" word-spacing="2.04" stroke="#3a3a3a" stroke-width="0.18" >55</text>
<line x1="27.3" x2="29.5" y1="234.1" y2="234.1" stroke="#646464" stroke-width="0.8"/>
<text x="15.8" y="236.7" font-size="7.3" fill="#3a3a3a" textLength="10.0" lengthAdjust="spacingAndGlyphs" letter-spacing="0.4" word-spacing="2.04" stroke="#3a3a3a" stroke-width="0.18" >50</text>
<line x1="29.5" x2="29.5" y1="245.6" y2="247.4" stroke="#646464" stroke-width="0.8"/>
<text x="19.0" y="252.8" font-size="5.6" fill="#333" textLength="21.0" lengthAdjust="spacingAndGlyphs" letter-spacing="0.3" word-spacing="1.57" stroke="#333" stroke-width="0.1">23MAR</text>
<line x1="74.5" x2="74.5" y1="245.6" y2="247.4" stroke="#646464" stroke-width="0.8"/>
<text x="64.0" y="252.8" font-size="5.6" fill="#333" textLength="21.0" lengthAdjust="spacingAndGlyphs" letter-spacing="0.3" word-spacing="1.57" stroke="#333" stroke-width="0.1">25MAR</text>
<line x1="119.6" x2="119.6" y1="245.6" y2="247.4" stroke="#646464" stroke-width="0.8"/>
<text x="109.1" y="252.8" font-size="5.6" fill="#333" textLength="21.0" lengthAdjust="spacingAndGlyphs" letter-spacing="0.3" word-spacing="1.57" stroke="#333" stroke-width="0.1">27MAR</text>
<line x1="164.6" x2="164.6" y1="245.6" y2="247.4" stroke="#646464" stroke-width="0.8"/>
<text x="154.1" y="252.8" font-size="5.6" fill="#333" textLength="21.0" lengthAdjust="spacingAndGlyphs" letter-spacing="0.3" word-spacing="1.57" stroke="#333" stroke-width="0.1">29MAR</text>
<line x1="232.2" x2="232.2" y1="245.6" y2="247.4" stroke="#646464" stroke-width="0.8"/>
<text x="224.0" y="252.8" font-size="5.6" fill="#333" textLength="16.4" lengthAdjust="spacingAndGlyphs" letter-spacing="0.3" word-spacing="1.57" stroke="#333" stroke-width="0.1">1APR</text>
<line x1="277.2" x2="277.2" y1="245.6" y2="247.4" stroke="#646464" stroke-width="0.8"/>
<text x="269.0" y="252.8" font-size="5.6" fill="#333" textLength="16.4" lengthAdjust="spacingAndGlyphs" letter-spacing="0.3" word-spacing="1.57" stroke="#333" stroke-width="0.1">3APR</text>
<line x1="322.3" x2="322.3" y1="245.6" y2="247.4" stroke="#646464" stroke-width="0.8"/>
<text x="314.1" y="252.8" font-size="5.6" fill="#333" textLength="16.4" lengthAdjust="spacingAndGlyphs" letter-spacing="0.3" word-spacing="1.57" stroke="#333" stroke-width="0.1">5APR</text>
<line x1="367.3" x2="367.3" y1="245.6" y2="247.4" stroke="#646464" stroke-width="0.8"/>
<text x="359.1" y="252.8" font-size="5.6" fill="#333" textLength="16.4" lengthAdjust="spacingAndGlyphs" letter-spacing="0.3" word-spacing="1.57" stroke="#333" stroke-width="0.1">7APR</text>
<text x="21.5" y="258.1" font-size="5.6" fill="#333" textLength="16.0" lengthAdjust="spacingAndGlyphs" letter-spacing="0.3" word-spacing="1.57" stroke="#333" stroke-width="0.1">2025</text>
<rect x="32.0" y="80.4" width="334.4" height="17.0" fill="#fff"/>
<text x="37.0" y="86.9" font-size="5.6" fill="#3a3a3a" textLength="190.0" lengthAdjust="spacingAndGlyphs" letter-spacing="0.45" word-spacing="1.57" stroke="#3a3a3a" stroke-width="0.18" >National Weather Service Global Forecast System</text>
<line x1="39.6" x2="65.0" y1="92.2" y2="92.2" stroke="#b4b4b4" stroke-width="0.7"/>
<rect x="38.7" y="91.3" width="1.8" height="1.8" fill="#a3a3a3"/>
<rect x="64.1" y="91.3" width="1.8" height="1.8" fill="#a3a3a3"/>
<text x="71.6" y="94.4" font-size="5.6" fill="#3a3a3a" textLength="73.0" lengthAdjust="spacingAndGlyphs" letter-spacing="0.45" word-spacing="1.57" stroke="#3a3a3a" stroke-width="0.18" >Ensemble Members</text>
<line x1="166.6" x2="192.3" y1="91.0" y2="91.0" stroke="#6ca6f8" stroke-width="2"/>
<line x1="166.6" x2="192.3" y1="93.3" y2="93.3" stroke="#e8655e" stroke-width="1.7"/>
<line x1="166.6" x2="192.3" y1="92.3" y2="92.3" stroke="#111" stroke-width="0.6"/>
<circle cx="166.6" cy="92.2" r="1.3" fill="#000"/>
<circle cx="192.3" cy="92.2" r="1.3" fill="#000"/>
<text x="198.8" y="94.4" font-size="5.6" fill="#3a3a3a" textLength="68.5" lengthAdjust="spacingAndGlyphs" letter-spacing="0.45" word-spacing="1.57" stroke="#3a3a3a" stroke-width="0.18" >Ensemble Average</text>
<line x1="294" x2="319.7" y1="92.2" y2="92.2" stroke="#4d5eee" stroke-width="1.6"/>
<text x="326.1" y="94.4" font-size="5.6" fill="#3a3a3a" textLength="26.2" lengthAdjust="spacingAndGlyphs" letter-spacing="0.45" word-spacing="1.57" stroke="#3a3a3a" stroke-width="0.18" >Normal</text>
<text x="4.5" y="159.5" font-size="7.6" fill="#3a3a3a" letter-spacing="0.3" stroke="#3a3a3a" stroke-width="0.3">°F</text>
<text x="284.5" y="243.0" font-size="5.6" fill="#3a3a3a" textLength="76.0" lengthAdjust="spacingAndGlyphs" letter-spacing="0.45" word-spacing="1.57" stroke="#3a3a3a" stroke-width="0.18" >© World Ag Weather</text>
<text x="104.3" y="301.1" font-size="8.8" fill="#3a3a3a" textLength="174.6" lengthAdjust="spacingAndGlyphs" letter-spacing="0.7" word-spacing="2.46" stroke="#3a3a3a" stroke-width="0.18" >Brazil Soybeans Temperature</text>
<text x="40.8" y="312.1" font-size="7.3" fill="#3a3a3a" textLength="301.6" lengthAdjust="spacingAndGlyphs" letter-spacing="0.58" word-spacing="2.04" stroke="#3a3a3a" stroke-width="0.18" >Forecast Daily–Mean Temperature Compared to Normal (°F)</text>
<text x="106.1" y="321.2" font-size="7.3" fill="#3a3a3a" textLength="170.9" lengthAdjust="spacingAndGlyphs" letter-spacing="0.58" word-spacing="2.04" stroke="#3a3a3a" stroke-width="0.18" >Production–Weighted Area Average</text>
<text x="76.8" y="331.0" font-size="8.0" fill="#3a3a3a" textLength="229.7" lengthAdjust="spacingAndGlyphs" letter-spacing="0.64" word-spacing="2.24" stroke="#3a3a3a" stroke-width="0.18" >15–Day Forecast Beginning 23 March 2025</text>
<clipPath id="c2"><rect x="29.5" y="337.5" width="337.5" height="166.0"/></clipPath>
<line x1="29.5" x2="367.0" y1="365.5" y2="365.5" stroke="#d2d2d2" stroke-width="0.6" stroke-dasharray="1 2.2"/>
<line x1="29.5" x2="367.0" y1="405.4" y2="405.4" stroke="#d2d2d2" stroke-width="0.6" stroke-dasharray="1 2.2"/>
<line x1="29.5" x2="367.0" y1="445.4" y2="445.4" stroke="#d2d2d2" stroke-width="0.6" stroke-dasharray="1 2.2"/>
<line x1="29.5" x2="367.0" y1="485.3" y2="485.3" stroke="#d2d2d2" stroke-width="0.6" stroke-dasharray="1 2.2"/>
<g clip-path="url(#c2)">
<g fill="none" stroke="#b4b4b4" stroke-width="0.55">
<polyline points="29.5,400.4 52.0,400.4 74.5,400.9 97.0,404.3 119.5,409.0 142.0,408.2 164.5,408.3 187.0,407.5 209.5,409.5 232.0,402.5 254.5,402.8 277.0,408.5 299.5,424.0 322.0,432.7 344.5,438.1 367.0,451.9"/>
<polyline points="29.5,407.7 52.0,407.3 74.5,409.5 97.0,407.8 119.5,405.4 142.0,410.2 164.5,411.5 187.0,419.1 209.5,412.7 232.0,417.0 254.5,414.3 277.0,422.3 299.5,452.5 322.0,477.0 344.5,468.6 367.0,457.5"/>
<polyline points="29.5,407.6 52.0,406.0 74.5,411.3 97.0,413.0 119.5,413.1 142.0,410.9 164.5,403.7 187.0,396.4 209.5,402.4 232.0,414.3 254.5,409.4 277.0,405.4 299.5,410.6 322.0,430.3 344.5,452.2 367.0,457.3"/>
<polyline points="29.5,405.4 52.0,401.4 74.5,404.0 97.0,401.5 119.5,400.8 142.0,406.1 164.5,403.2 187.0,398.8 209.5,403.6 232.0,424.7 254.5,416.4 277.0,430.3 299.5,460.7 322.0,462.5 344.5,465.3 367.0,465.1"/>
<polyline points="29.5,401.7 52.0,394.7 74.5,393.2 97.0,394.2 119.5,390.7 142.0,384.7 164.5,395.4 187.0,418.1 209.5,413.1 232.0,439.1 254.5,442.3 277.0,440.8 299.5,436.7 322.0,455.3 344.5,443.0 367.0,441.9"/>
<polyline points="29.5,404.1 52.0,401.2 74.5,405.8 97.0,405.8 119.5,393.1 142.0,398.4 164.5,396.8 187.0,394.1 209.5,409.1 232.0,413.9 254.5,432.0 277.0,428.8 299.5,422.0 322.0,409.3 344.5,397.9 367.0,410.0"/>
<polyline points="29.5,406.7 52.0,400.4 74.5,398.7 97.0,410.5 119.5,411.1 142.0,412.4 164.5,412.3 187.0,424.1 209.5,430.6 232.0,433.4 254.5,429.4 277.0,410.9 299.5,407.4 322.0,427.5 344.5,442.0 367.0,438.0"/>
<polyline points="29.5,402.2 52.0,397.2 74.5,402.0 97.0,398.8 119.5,397.8 142.0,399.8 164.5,395.7 187.0,398.2 209.5,417.5 232.0,423.4 254.5,418.1 277.0,400.3 299.5,414.6 322.0,414.6 344.5,412.2 367.0,412.7"/>
<polyline points="29.5,406.9 52.0,402.2 74.5,398.6 97.0,394.4 119.5,394.0 142.0,383.7 164.5,382.8 187.0,379.2 209.5,395.7 232.0,401.5 254.5,408.2 277.0,419.7 299.5,420.9 322.0,435.3 344.5,439.4 367.0,434.4"/>
<polyline points="29.5,405.7 52.0,398.1 74.5,393.2 97.0,393.5 119.5,390.9 142.0,395.9 164.5,394.0 187.0,408.3 209.5,420.2 232.0,425.6 254.5,425.2 277.0,409.8 299.5,418.1 322.0,390.3 344.5,402.7 367.0,395.3"/>
<polyline points="29.5,407.6 52.0,404.2 74.5,411.1 97.0,409.3 119.5,408.3 142.0,398.4 164.5,393.2 187.0,392.1 209.5,403.5 232.0,388.7 254.5,400.8 277.0,403.1 299.5,409.8 322.0,412.3 344.5,422.5 367.0,423.6"/>
<polyline points="29.5,403.5 52.0,403.3 74.5,403.0 97.0,407.3 119.5,398.8 142.0,397.3 164.5,384.1 187.0,384.2 209.5,397.4 232.0,395.0 254.5,387.2 277.0,381.2 299.5,378.4 322.0,381.1 344.5,401.6 367.0,393.6"/>
<polyline points="29.5,404.6 52.0,401.8 74.5,398.2 97.0,404.6 119.5,397.2 142.0,383.7 164.5,380.4 187.0,388.0 209.5,385.5 232.0,394.7 254.5,388.2 277.0,381.3 299.5,406.9 322.0,408.0 344.5,426.6 367.0,429.8"/>
<polyline points="29.5,403.2 52.0,404.9 74.5,409.5 97.0,411.3 119.5,408.0 142.0,401.4 164.5,396.6 187.0,402.4 209.5,417.0 232.0,414.2 254.5,422.8 277.0,426.6 299.5,412.4 322.0,425.6 344.5,430.5 367.0,410.1"/>
<polyline points="29.5,404.6 52.0,409.8 74.5,414.2 97.0,403.5 119.5,390.7 142.0,390.0 164.5,386.7 187.0,384.3 209.5,393.2 232.0,421.0 254.5,407.1 277.0,404.5 299.5,408.2 322.0,432.8 344.5,432.0 367.0,426.3"/>
<polyline points="29.5,405.0 52.0,402.9 74.5,406.3 97.0,402.5 119.5,399.5 142.0,404.8 164.5,406.8 187.0,402.3 209.5,415.1 232.0,402.8 254.5,411.5 277.0,407.8 299.5,400.7 322.0,421.8 344.5,401.9 367.0,408.0"/>
<polyline points="29.5,405.9 52.0,406.9 74.5,415.6 97.0,418.4 119.5,408.2 142.0,404.9 164.5,404.6 187.0,402.6 209.5,404.4 232.0,418.1 254.5,418.5 277.0,412.0 299.5,399.0 322.0,403.8 344.5,385.3 367.0,397.3"/>
<polyline points="29.5,405.2 52.0,408.0 74.5,409.6 97.0,406.4 119.5,407.4 142.0,404.5 164.5,409.4 187.0,412.9 209.5,422.0 232.0,423.0 254.5,407.8 277.0,402.5 299.5,393.6 322.0,388.9 344.5,401.4 367.0,388.9"/>
<polyline points="29.5,404.4 52.0,406.8 74.5,410.9 97.0,410.6 119.5,417.8 142.0,396.2 164.5,396.7 187.0,391.0 209.5,413.2 232.0,415.0 254.5,411.2 277.0,418.7 299.5,412.4 322.0,416.1 344.5,409.0 367.0,424.8"/>
<polyline points="29.5,403.5 52.0,402.5 74.5,408.0 97.0,418.3 119.5,416.4 142.0,413.1 164.5,391.1 187.0,404.3 209.5,396.9 232.0,391.9 254.5,393.7 277.0,396.3 299.5,394.3 322.0,421.7 344.5,400.0 367.0,408.3"/>
<polyline points="29.5,406.0 52.0,404.9 74.5,416.4 97.0,418.4 119.5,420.6 142.0,420.2 164.5,414.3 187.0,398.1 209.5,406.7 232.0,415.0 254.5,410.7 277.0,415.6 299.5,411.9 322.0,410.9 344.5,413.1 367.0,418.0"/>
<polyline points="29.5,404.4 52.0,402.7 74.5,401.8 97.0,410.8 119.5,415.7 142.0,413.4 164.5,405.1 187.0,415.8 209.5,408.3 232.0,398.0 254.5,410.7 277.0,398.0 299.5,425.5 322.0,426.5 344.5,440.2 367.0,417.6"/>
<polyline points="29.5,402.9 52.0,399.4 74.5,404.1 97.0,410.8 119.5,407.4 142.0,407.1 164.5,399.4 187.0,414.2 209.5,414.9 232.0,412.3 254.5,437.5 277.0,440.8 299.5,439.9 322.0,442.7 344.5,445.3 367.0,438.7"/>
<polyline points="29.5,406.9 52.0,406.4 74.5,416.0 97.0,418.4 119.5,412.7 142.0,419.4 164.5,413.5 187.0,399.2 209.5,400.2 232.0,421.3 254.5,394.7 277.0,406.4 299.5,396.8 322.0,394.4 344.5,404.0 367.0,399.9"/>
<polyline points="29.5,408.7 52.0,410.2 74.5,411.0 97.0,412.2 119.5,410.2 142.0,398.9 164.5,391.9 187.0,400.5 209.5,401.4 232.0,396.4 254.5,400.7 277.0,400.0 299.5,431.5 322.0,447.4 344.5,431.1 367.0,443.5"/>
<polyline points="29.5,403.0 52.0,397.6 74.5,404.4 97.0,411.3 119.5,411.4 142.0,405.5 164.5,397.5 187.0,401.4 209.5,409.5 232.0,424.5 254.5,418.3 277.0,424.2 299.5,408.4 322.0,405.7 344.5,427.6 367.0,418.9"/>
<polyline points="29.5,406.9 52.0,403.3 74.5,409.9 97.0,404.1 119.5,398.9 142.0,384.1 164.5,385.9 187.0,390.4 209.5,389.9 232.0,413.4 254.5,414.2 277.0,416.7 299.5,415.5 322.0,438.4 344.5,445.3 367.0,445.2"/>
<polyline points="29.5,401.8 52.0,400.6 74.5,400.4 97.0,403.9 119.5,405.8 142.0,394.0 164.5,412.3 187.0,412.7 209.5,426.0 232.0,435.2 254.5,442.3 277.0,440.8 299.5,441.4 322.0,431.1 344.5,432.7 367.0,432.2"/>
</g>
<g fill-opacity="0.72">
<polygon points="29.5,404.9 52.0,403.0 74.5,406.0 97.0,407.4 119.5,405.0 142.0,401.7 164.5,399.0 187.0,401.4 209.5,407.8 232.0,413.4 254.5,413.4 277.0,412.6 299.5,416.2 322.0,423.0 344.5,425.4 367.0,424.6 367.0,432.8 344.5,432.3 322.0,431.8 299.5,431.3 277.0,430.8 254.5,430.3 232.0,429.8 209.5,429.3 187.0,428.8 164.5,428.3 142.0,427.8 119.5,427.3 97.0,426.8 74.5,426.3 52.0,425.7 29.5,425.2" fill="#df291f"/>
</g>
<g fill="#a3a3a3">
<rect x="51.1" y="399.6" width="1.7" height="1.7"/>
<rect x="73.7" y="400.1" width="1.7" height="1.7"/>
<rect x="96.2" y="403.4" width="1.7" height="1.7"/>
<rect x="118.7" y="408.1" width="1.7" height="1.7"/>
<rect x="141.2" y="407.3" width="1.7" height="1.7"/>
<rect x="163.7" y="407.4" width="1.7" height="1.7"/>
<rect x="186.2" y="406.7" width="1.7" height="1.7"/>
<rect x="208.7" y="408.6" width="1.7" height="1.7"/>
<rect x="231.2" y="401.7" width="1.7" height="1.7"/>
<rect x="253.7" y="402.0" width="1.7" height="1.7"/>
<rect x="276.1" y="407.7" width="1.7" height="1.7"/>
<rect x="298.6" y="423.1" width="1.7" height="1.7"/>
<rect x="321.1" y="431.9" width="1.7" height="1.7"/>
<rect x="343.6" y="437.2" width="1.7" height="1.7"/>
<rect x="366.1" y="451.1" width="1.7" height="1.7"/>
<rect x="51.1" y="406.5" width="1.7" height="1.7"/>
<rect x="73.7" y="408.7" width="1.7" height="1.7"/>
<rect x="96.2" y="407.0" width="1.7" height="1.7"/>
<rect x="118.7" y="404.6" width="1.7" height="1.7"/>
<rect x="141.2" y="409.4" width="1.7" height="1.7"/>
<rect x="163.7" y="410.7" width="1.7" height="1.7"/>
<rect x="186.2" y="418.2" width="1.7" height="1.7"/>
<rect x="208.7" y="411.9" width="1.7" height="1.7"/>
<rect x="231.2" y="416.2" width="1.7" height="1.7"/>
<rect x="253.7" y="413.5" width="1.7" height="1.7"/>
<rect x="276.1" y="421.5" width="1.7" height="1.7"/>
<rect x="298.6" y="451.6" width="1.7" height="1.7"/>
<rect x="321.1" y="476.2" width="1.7" height="1.7"/>
<rect x="343.6" y="467.7" width="1.7" height="1.7"/>
<rect x="366.1" y="456.7" width="1.7" height="1.7"/>
<rect x="51.1" y="405.1" width="1.7" height="1.7"/>
<rect x="73.7" y="410.4" width="1.7" height="1.7"/>
<rect x="96.2" y="412.1" width="1.7" height="1.7"/>
<rect x="118.7" y="412.3" width="1.7" height="1.7"/>
<rect x="141.2" y="410.1" width="1.7" height="1.7"/>
<rect x="163.7" y="402.8" width="1.7" height="1.7"/>
<rect x="186.2" y="395.6" width="1.7" height="1.7"/>
<rect x="208.7" y="401.6" width="1.7" height="1.7"/>
<rect x="231.2" y="413.5" width="1.7" height="1.7"/>
<rect x="253.7" y="408.5" width="1.7" height="1.7"/>
<rect x="276.1" y="404.5" width="1.7" height="1.7"/>
<rect x="298.6" y="409.8" width="1.7" height="1.7"/>
<rect x="321.1" y="429.5" width="1.7" height="1.7"/>
<rect x="343.6" y="451.3" width="1.7" height="1.7"/>
<rect x="366.1" y="456.5" width="1.7" height="1.7"/>
<rect x="51.1" y="400.5" width="1.7" height="1.7"/>
<rect x="73.7" y="403.2" width="1.7" height="1.7"/>
<rect x="96.2" y="400.6" width="1.7" height="1.7"/>
<rect x="118.7" y="399.9" width="1.7" height="1.7"/>
<rect x="141.2" y="405.3" width="1.7" height="1.7"/>
<rect x="163.7" y="402.4" width="1.7" height="1.7"/>
<rect x="186.2" y="398.0" width="1.7" height="1.7"/>
<rect x="208.7" y="402.7" width="1.7" height="1.7"/>
<rect x="231.2" y="423.8" width="1.7" height="1.7"/>
<rect x="253.7" y="415.6" width="1.7" height="1.7"/>
<rect x="276.1" y="429.5" width="1.7" height="1.7"/>
<rect x="298.6" y="459.8" width="1.7" height="1.7"/>
<rect x="321.1" y="461.7" width="1.7" height="1.7"/>
<rect x="343.6" y="464.4" width="1.7" height="1.7"/>
<rect x="366.1" y="464.3" width="1.7" height="1.7"/>
<rect x="51.1" y="393.9" width="1.7" height="1.7"/>
<rect x="73.7" y="392.4" width="1.7" height="1.7"/>
<rect x="96.2" y="393.4" width="1.7" height="1.7"/>
<rect x="118.7" y="389.9" width="1.7" height="1.7"/>
<rect x="141.2" y="383.8" width="1.7" height="1.7"/>
<rect x="163.7" y="394.6" width="1.7" height="1.7"/>
<rect x="186.2" y="417.2" width="1.7" height="1.7"/>
<rect x="208.7" y="412.2" width="1.7" height="1.7"/>
<rect x="231.2" y="438.3" width="1.7" height="1.7"/>
<rect x="253.7" y="441.4" width="1.7" height="1.7"/>
<rect x="276.1" y="440.0" width="1.7" height="1.7"/>
<rect x="298.6" y="435.9" width="1.7" height="1.7"/>
<rect x="321.1" y="454.5" width="1.7" height="1.7"/>
<rect x="343.6" y="442.1" width="1.7" height="1.7"/>
<rect x="366.1" y="441.1" width="1.7" height="1.7"/>
<rect x="51.1" y="400.4" width="1.7" height="1.7"/>
<rect x="73.7" y="404.9" width="1.7" height="1.7"/>
<rect x="96.2" y="405.0" width="1.7" height="1.7"/>
<rect x="118.7" y="392.3" width="1.7" height="1.7"/>
<rect x="141.2" y="397.5" width="1.7" height="1.7"/>
<rect x="163.7" y="396.0" width="1.7" height="1.7"/>
<rect x="186.2" y="393.3" width="1.7" height="1.7"/>
<rect x="208.7" y="408.3" width="1.7" height="1.7"/>
<rect x="231.2" y="413.0" width="1.7" height="1.7"/>
<rect x="253.7" y="431.2" width="1.7" height="1.7"/>
<rect x="276.1" y="427.9" width="1.7" height="1.7"/>
<rect x="298.6" y="421.1" width="1.7" height="1.7"/>
<rect x="321.1" y="408.5" width="1.7" height="1.7"/>
<rect x="343.6" y="397.0" width="1.7" height="1.7"/>
<rect x="366.1" y="409.1" width="1.7" height="1.7"/>
<rect x="51.1" y="399.5" width="1.7" height="1.7"/>
<rect x="73.7" y="397.9" width="1.7" height="1.7"/>
<rect x="96.2" y="409.6" width="1.7" height="1.7"/>
<rect x="118.7" y="410.3" width="1.7" height="1.7"/>
<rect x="141.2" y="411.6" width="1.7" height="1.7"/>
<rect x="163.7" y="411.5" width="1.7" height="1.7"/>
<rect x="186.2" y="423.3" width="1.7" height="1.7"/>
<rect x="208.7" y="429.7" width="1.7" height="1.7"/>
<rect x="231.2" y="432.6" width="1.7" height="1.7"/>
<rect x="253.7" y="428.5" width="1.7" height="1.7"/>
<rect x="276.1" y="410.0" width="1.7" height="1.7"/>
<rect x="298.6" y="406.6" width="1.7" height="1.7"/>
<rect x="321.1" y="426.6" width="1.7" height="1.7"/>
<rect x="343.6" y="441.1" width="1.7" height="1.7"/>
<rect x="366.1" y="437.1" width="1.7" height="1.7"/>
<rect x="51.1" y="396.3" width="1.7" height="1.7"/>
<rect x="73.7" y="401.2" width="1.7" height="1.7"/>
<rect x="96.2" y="397.9" width="1.7" height="1.7"/>
<rect x="118.7" y="396.9" width="1.7" height="1.7"/>
<rect x="141.2" y="398.9" width="1.7" height="1.7"/>
<rect x="163.7" y="394.9" width="1.7" height="1.7"/>
<rect x="186.2" y="397.4" width="1.7" height="1.7"/>
<rect x="208.7" y="416.7" width="1.7" height="1.7"/>
<rect x="231.2" y="422.6" width="1.7" height="1.7"/>
<rect x="253.7" y="417.2" width="1.7" height="1.7"/>
<rect x="276.1" y="399.5" width="1.7" height="1.7"/>
<rect x="298.6" y="413.7" width="1.7" height="1.7"/>
<rect x="321.1" y="413.7" width="1.7" height="1.7"/>
<rect x="343.6" y="411.3" width="1.7" height="1.7"/>
<rect x="366.1" y="411.8" width="1.7" height="1.7"/>
<rect x="51.1" y="401.4" width="1.7" height="1.7"/>
<rect x="73.7" y="397.8" width="1.7" height="1.7"/>
<rect x="96.2" y="393.5" width="1.7" height="1.7"/>
<rect x="118.7" y="393.2" width="1.7" height="1.7"/>
<rect x="141.2" y="382.8" width="1.7" height="1.7"/>
<rect x="163.7" y="382.0" width="1.7" height="1.7"/>
<rect x="186.2" y="378.3" width="1.7" height="1.7"/>
<rect x="208.7" y="394.9" width="1.7" height="1.7"/>
<rect x="231.2" y="400.6" width="1.7" height="1.7"/>
<rect x="253.7" y="407.3" width="1.7" height="1.7"/>
<rect x="276.1" y="418.9" width="1.7" height="1.7"/>
<rect x="298.6" y="420.0" width="1.7" height="1.7"/>
<rect x="321.1" y="434.5" width="1.7" height="1.7"/>
<rect x="343.6" y="438.5" width="1.7" height="1.7"/>
<rect x="366.1" y="433.6" width="1.7" height="1.7"/>
<rect x="51.1" y="397.3" width="1.7" height="1.7"/>
<rect x="73.7" y="392.4" width="1.7" height="1.7"/>
<rect x="96.2" y="392.7" width="1.7" height="1.7"/>
<rect x="118.7" y="390.0" width="1.7" height="1.7"/>
<rect x="141.2" y="395.0" width="1.7" height="1.7"/>
<rect x="163.7" y="393.1" width="1.7" height="1.7"/>
<rect x="186.2" y="407.5" width="1.7" height="1.7"/>
<rect x="208.7" y="419.4" width="1.7" height="1.7"/>
<rect x="231.2" y="424.8" width="1.7" height="1.7"/>
<rect x="253.7" y="424.3" width="1.7" height="1.7"/>
<rect x="276.1" y="408.9" width="1.7" height="1.7"/>
<rect x="298.6" y="417.2" width="1.7" height="1.7"/>
<rect x="321.1" y="389.4" width="1.7" height="1.7"/>
<rect x="343.6" y="401.8" width="1.7" height="1.7"/>
<rect x="366.1" y="394.5" width="1.7" height="1.7"/>
<rect x="51.1" y="403.3" width="1.7" height="1.7"/>
<rect x="73.7" y="410.2" width="1.7" height="1.7"/>
<rect x="96.2" y="408.5" width="1.7" height="1.7"/>
<rect x="118.7" y="407.4" width="1.7" height="1.7"/>
<rect x="141.2" y="397.5" width="1.7" height="1.7"/>
<rect x="163.7" y="392.4" width="1.7" height="1.7"/>
<rect x="186.2" y="391.3" width="1.7" height="1.7"/>
<rect x="208.7" y="402.6" width="1.7" height="1.7"/>
<rect x="231.2" y="387.9" width="1.7" height="1.7"/>
<rect x="253.7" y="399.9" width="1.7" height="1.7"/>
<rect x="276.1" y="402.3" width="1.7" height="1.7"/>
<rect x="298.6" y="409.0" width="1.7" height="1.7"/>
<rect x="321.1" y="411.5" width="1.7" height="1.7"/>
<rect x="343.6" y="421.6" width="1.7" height="1.7"/>
<rect x="366.1" y="422.8" width="1.7" height="1.7"/>
<rect x="51.1" y="402.4" width="1.7" height="1.7"/>
<rect x="73.7" y="402.1" width="1.7" height="1.7"/>
<rect x="96.2" y="406.4" width="1.7" height="1.7"/>
<rect x="118.7" y="398.0" width="1.7" height="1.7"/>
<rect x="141.2" y="396.4" width="1.7" height="1.7"/>
<rect x="163.7" y="383.2" width="1.7" height="1.7"/>
<rect x="186.2" y="383.4" width="1.7" height="1.7"/>
<rect x="208.7" y="396.6" width="1.7" height="1.7"/>
<rect x="231.2" y="394.1" width="1.7" height="1.7"/>
<rect x="253.7" y="386.3" width="1.7" height="1.7"/>
<rect x="276.1" y="380.3" width="1.7" height="1.7"/>
<rect x="298.6" y="377.6" width="1.7" height="1.7"/>
<rect x="321.1" y="380.2" width="1.7" height="1.7"/>
<rect x="343.6" y="400.8" width="1.7" height="1.7"/>
<rect x="366.1" y="392.7" width="1.7" height="1.7"/>
<rect x="51.1" y="400.9" width="1.7" height="1.7"/>
<rect x="73.7" y="397.4" width="1.7" height="1.7"/>
<rect x="96.2" y="403.7" width="1.7" height="1.7"/>
<rect x="118.7" y="396.3" width="1.7" height="1.7"/>
<rect x="141.2" y="382.8" width="1.7" height="1.7"/>
<rect x="163.7" y="379.6" width="1.7" height="1.7"/>
<rect x="186.2" y="387.1" width="1.7" height="1.7"/>
<rect x="208.7" y="384.6" width="1.7" height="1.7"/>
<rect x="231.2" y="393.8" width="1.7" height="1.7"/>
<rect x="253.7" y="387.4" width="1.7" height="1.7"/>
<rect x="276.1" y="380.5" width="1.7" height="1.7"/>
<rect x="298.6" y="406.1" width="1.7" height="1.7"/>
<rect x="321.1" y="407.2" width="1.7" height="1.7"/>
<rect x="343.6" y="425.7" width="1.7" height="1.7"/>
<rect x="366.1" y="429.0" width="1.7" height="1.7"/>
<rect x="51.1" y="404.0" width="1.7" height="1.7"/>
<rect x="73.7" y="408.7" width="1.7" height="1.7"/>
<rect x="96.2" y="410.4" width="1.7" height="1.7"/>
<rect x="118.7" y="407.2" width="1.7" height="1.7"/>
<rect x="141.2" y="400.5" width="1.7" height="1.7"/>
<rect x="163.7" y="395.8" width="1.7" height="1.7"/>
<rect x="186.2" y="401.5" width="1.7" height="1.7"/>
<rect x="208.7" y="416.1" width="1.7" height="1.7"/>
<rect x="231.2" y="413.3" width="1.7" height="1.7"/>
<rect x="253.7" y="422.0" width="1.7" height="1.7"/>
<rect x="276.1" y="425.8" width="1.7" height="1.7"/>
<rect x="298.6" y="411.6" width="1.7" height="1.7"/>
<rect x="321.1" y="424.7" width="1.7" height="1.7"/>
<rect x="343.6" y="429.7" width="1.7" height="1.7"/>
<rect x="366.1" y="409.2" width="1.7" height="1.7"/>
<rect x="51.1" y="409.0" width="1.7" height="1.7"/>
<rect x="73.7" y="413.4" width="1.7" height="1.7"/>
<rect x="96.2" y="402.7" width="1.7" height="1.7"/>
<rect x="118.7" y="389.9" width="1.7" height="1.7"/>
<rect x="141.2" y="389.2" width="1.7" height="1.7"/>
<rect x="163.7" y="385.9" width="1.7" height="1.7"/>
<rect x="186.2" y="383.5" width="1.7" height="1.7"/>
<rect x="208.7" y="392.4" width="1.7" height="1.7"/>
<rect x="231.2" y="420.2" width="1.7" height="1.7"/>
<rect x="253.7" y="406.2" width="1.7" height="1.7"/>
<rect x="276.1" y="403.6" width="1.7" height="1.7"/>
<rect x="298.6" y="407.3" width="1.7" height="1.7"/>
<rect x="321.1" y="432.0" width="1.7" height="1.7"/>
<rect x="343.6" y="431.1" width="1.7" height="1.7"/>
<rect x="366.1" y="425.5" width="1.7" height="1.7"/>
<rect x="51.1" y="402.0" width="1.7" height="1.7"/>
<rect x="73.7" y="405.5" width="1.7" height="1.7"/>
<rect x="96.2" y="401.6" width="1.7" height="1.7"/>
<rect x="118.7" y="398.7" width="1.7" height="1.7"/>
<rect x="141.2" y="404.0" width="1.7" height="1.7"/>
<rect x="163.7" y="406.0" width="1.7" height="1.7"/>
<rect x="186.2" y="401.5" width="1.7" height="1.7"/>
<rect x="208.7" y="414.3" width="1.7" height="1.7"/>
<rect x="231.2" y="401.9" width="1.7" height="1.7"/>
<rect x="253.7" y="410.6" width="1.7" height="1.7"/>
<rect x="276.1" y="406.9" width="1.7" height="1.7"/>
<rect x="298.6" y="399.9" width="1.7" height="1.7"/>
<rect x="321.1" y="421.0" width="1.7" height="1.7"/>
<rect x="343.6" y="401.1" width="1.7" height="1.7"/>
<rect x="366.1" y="407.2" width="1.7" height="1.7"/>
<rect x="51.1" y="406.1" width="1.7" height="1.7"/>
<rect x="73.7" y="414.8" width="1.7" height="1.7"/>
<rect x="96.2" y="417.5" width="1.7" height="1.7"/>
<rect x="118.7" y="407.4" width="1.7" height="1.7"/>
<rect x="141.2" y="404.0" width="1.7" height="1.7"/>
<rect x="163.7" y="403.7" width="1.7" height="1.7"/>
<rect x="186.2" y="401.7" width="1.7" height="1.7"/>
<rect x="208.7" y="403.5" width="1.7" height="1.7"/>
<rect x="231.2" y="417.3" width="1.7" height="1.7"/>
<rect x="253.7" y="417.6" width="1.7" height="1.7"/>
<rect x="276.1" y="411.2" width="1.7" height="1.7"/>
<rect x="298.6" y="398.2" width="1.7" height="1.7"/>
<rect x="321.1" y="402.9" width="1.7" height="1.7"/>
<rect x="343.6" y="384.4" width="1.7" height="1.7"/>
<rect x="366.1" y="396.4" width="1.7" height="1.7"/>
<rect x="51.1" y="407.2" width="1.7" height="1.7"/>
<rect x="73.7" y="408.8" width="1.7" height="1.7"/>
<rect x="96.2" y="405.6" width="1.7" height="1.7"/>
<rect x="118.7" y="406.5" width="1.7" height="1.7"/>
<rect x="141.2" y="403.7" width="1.7" height="1.7"/>
<rect x="163.7" y="408.5" width="1.7" height="1.7"/>
<rect x="186.2" y="412.0" width="1.7" height="1.7"/>
<rect x="208.7" y="421.1" width="1.7" height="1.7"/>
<rect x="231.2" y="422.1" width="1.7" height="1.7"/>
<rect x="253.7" y="407.0" width="1.7" height="1.7"/>
<rect x="276.1" y="401.7" width="1.7" height="1.7"/>
<rect x="298.6" y="392.8" width="1.7" height="1.7"/>
<rect x="321.1" y="388.0" width="1.7" height="1.7"/>
<rect x="343.6" y="400.6" width="1.7" height="1.7"/>
<rect x="366.1" y="388.1" width="1.7" height="1.7"/>
<rect x="51.1" y="406.0" width="1.7" height="1.7"/>
<rect x="73.7" y="410.1" width="1.7" height="1.7"/>
<rect x="96.2" y="409.8" width="1.7" height="1.7"/>
<rect x="118.7" y="416.9" width="1.7" height="1.7"/>
<rect x="141.2" y="395.4" width="1.7" height="1.7"/>
<rect x="163.7" y="395.9" width="1.7" height="1.7"/>
<rect x="186.2" y="390.2" width="1.7" height="1.7"/>
<rect x="208.7" y="412.3" width="1.7" height="1.7"/>
<rect x="231.2" y="414.1" width="1.7" height="1.7"/>
<rect x="253.7" y="410.4" width="1.7" height="1.7"/>
<rect x="276.1" y="417.9" width="1.7" height="1.7"/>
<rect x="298.6" y="411.6" width="1.7" height="1.7"/>
<rect x="321.1" y="415.3" width="1.7" height="1.7"/>
<rect x="343.6" y="408.2" width="1.7" height="1.7"/>
<rect x="366.1" y="424.0" width="1.7" height="1.7"/>
<rect x="51.1" y="401.6" width="1.7" height="1.7"/>
<rect x="73.7" y="407.2" width="1.7" height="1.7"/>
<rect x="96.2" y="417.4" width="1.7" height="1.7"/>
<rect x="118.7" y="415.6" width="1.7" height="1.7"/>
<rect x="141.2" y="412.2" width="1.7" height="1.7"/>
<rect x="163.7" y="390.2" width="1.7" height="1.7"/>
<rect x="186.2" y="403.5" width="1.7" height="1.7"/>
<rect x="208.7" y="396.0" width="1.7" height="1.7"/>
<rect x="231.2" y="391.0" width="1.7" height="1.7"/>
<rect x="253.7" y="392.9" width="1.7" height="1.7"/>
<rect x="276.1" y="395.5" width="1.7" height="1.7"/>
<rect x="298.6" y="393.4" width="1.7" height="1.7"/>
<rect x="321.1" y="420.8" width="1.7" height="1.7"/>
<rect x="343.6" y="399.2" width="1.7" height="1.7"/>
<rect x="366.1" y="407.4" width="1.7" height="1.7"/>
<rect x="51.1" y="404.1" width="1.7" height="1.7"/>
<rect x="73.7" y="415.6" width="1.7" height="1.7"/>
<rect x="96.2" y="417.5" width="1.7" height="1.7"/>
<rect x="118.7" y="419.7" width="1.7" height="1.7"/>
<rect x="141.2" y="419.3" width="1.7" height="1.7"/>
<rect x="163.7" y="413.4" width="1.7" height="1.7"/>
<rect x="186.2" y="397.3" width="1.7" height="1.7"/>
<rect x="208.7" y="405.8" width="1.7" height="1.7"/>
<rect x="231.2" y="414.1" width="1.7" height="1.7"/>
<rect x="253.7" y="409.8" width="1.7" height="1.7"/>
<rect x="276.1" y="414.8" width="1.7" height="1.7"/>
<rect x="298.6" y="411.0" width="1.7" height="1.7"/>
<rect x="321.1" y="410.1" width="1.7" height="1.7"/>
<rect x="343.6" y="412.2" width="1.7" height="1.7"/>
<rect x="366.1" y="417.1" width="1.7" height="1.7"/>
<rect x="51.1" y="401.8" width="1.7" height="1.7"/>
<rect x="73.7" y="400.9" width="1.7" height="1.7"/>
<rect x="96.2" y="410.0" width="1.7" height="1.7"/>
<rect x="118.7" y="414.9" width="1.7" height="1.7"/>
<rect x="141.2" y="412.5" width="1.7" height="1.7"/>
<rect x="163.7" y="404.3" width="1.7" height="1.7"/>
<rect x="186.2" y="415.0" width="1.7" height="1.7"/>
<rect x="208.7" y="407.4" width="1.7" height="1.7"/>
<rect x="231.2" y="397.2" width="1.7" height="1.7"/>
<rect x="253.7" y="409.8" width="1.7" height="1.7"/>
<rect x="276.1" y="397.1" width="1.7" height="1.7"/>
<rect x="298.6" y="424.6" width="1.7" height="1.7"/>
<rect x="321.1" y="425.7" width="1.7" height="1.7"/>
<rect x="343.6" y="439.3" width="1.7" height="1.7"/>
<rect x="366.1" y="416.8" width="1.7" height="1.7"/>
<rect x="51.1" y="398.5" width="1.7" height="1.7"/>
<rect x="73.7" y="403.3" width="1.7" height="1.7"/>
<rect x="96.2" y="410.0" width="1.7" height="1.7"/>
<rect x="118.7" y="406.6" width="1.7" height="1.7"/>
<rect x="141.2" y="406.2" width="1.7" height="1.7"/>
<rect x="163.7" y="398.5" width="1.7" height="1.7"/>
<rect x="186.2" y="413.4" width="1.7" height="1.7"/>
<rect x="208.7" y="414.0" width="1.7" height="1.7"/>
<rect x="231.2" y="411.4" width="1.7" height="1.7"/>
<rect x="253.7" y="436.6" width="1.7" height="1.7"/>
<rect x="276.1" y="440.0" width="1.7" height="1.7"/>
<rect x="298.6" y="439.0" width="1.7" height="1.7"/>
<rect x="321.1" y="441.9" width="1.7" height="1.7"/>
<rect x="343.6" y="444.5" width="1.7" height="1.7"/>
<rect x="366.1" y="437.8" width="1.7" height="1.7"/>
<rect x="51.1" y="405.6" width="1.7" height="1.7"/>
<rect x="73.7" y="415.1" width="1.7" height="1.7"/>
<rect x="96.2" y="417.5" width="1.7" height="1.7"/>
<rect x="118.7" y="411.9" width="1.7" height="1.7"/>
<rect x="141.2" y="418.6" width="1.7" height="1.7"/>
<rect x="163.7" y="412.6" width="1.7" height="1.7"/>
<rect x="186.2" y="398.3" width="1.7" height="1.7"/>
<rect x="208.7" y="399.3" width="1.7" height="1.7"/>
<rect x="231.2" y="420.4" width="1.7" height="1.7"/>
<rect x="253.7" y="393.9" width="1.7" height="1.7"/>
<rect x="276.1" y="405.5" width="1.7" height="1.7"/>
<rect x="298.6" y="395.9" width="1.7" height="1.7"/>
<rect x="321.1" y="393.6" width="1.7" height="1.7"/>
<rect x="343.6" y="403.2" width="1.7" height="1.7"/>
<rect x="366.1" y="399.1" width="1.7" height="1.7"/>
<rect x="51.1" y="409.3" width="1.7" height="1.7"/>
<rect x="73.7" y="410.1" width="1.7" height="1.7"/>
<rect x="96.2" y="411.3" width="1.7" height="1.7"/>
<rect x="118.7" y="409.4" width="1.7" height="1.7"/>
<rect x="141.2" y="398.1" width="1.7" height="1.7"/>
<rect x="163.7" y="391.0" width="1.7" height="1.7"/>
<rect x="186.2" y="399.6" width="1.7" height="1.7"/>
<rect x="208.7" y="400.5" width="1.7" height="1.7"/>
<rect x="231.2" y="395.5" width="1.7" height="1.7"/>
<rect x="253.7" y="399.9" width="1.7" height="1.7"/>
<rect x="276.1" y="399.1" width="1.7" height="1.7"/>
<rect x="298.6" y="430.6" width="1.7" height="1.7"/>
<rect x="321.1" y="446.5" width="1.7" height="1.7"/>
<rect x="343.6" y="430.3" width="1.7" height="1.7"/>
<rect x="366.1" y="442.6" width="1.7" height="1.7"/>
<rect x="51.1" y="396.7" width="1.7" height="1.7"/>
<rect x="73.7" y="403.6" width="1.7" height="1.7"/>
<rect x="96.2" y="410.5" width="1.7" height="1.7"/>
<rect x="118.7" y="410.5" width="1.7" height="1.7"/>
<rect x="141.2" y="404.7" width="1.7" height="1.7"/>
<rect x="163.7" y="396.6" width="1.7" height="1.7"/>
<rect x="186.2" y="400.6" width="1.7" height="1.7"/>
<rect x="208.7" y="408.6" width="1.7" height="1.7"/>
<rect x="231.2" y="423.6" width="1.7" height="1.7"/>
<rect x="253.7" y="417.4" width="1.7" height="1.7"/>
<rect x="276.1" y="423.3" width="1.7" height="1.7"/>
<rect x="298.6" y="407.5" width="1.7" height="1.7"/>
<rect x="321.1" y="404.9" width="1.7" height="1.7"/>
<rect x="343.6" y="426.7" width="1.7" height="1.7"/>
<rect x="366.1" y="418.1" width="1.7" height="1.7"/>
<rect x="51.1" y="402.5" width="1.7" height="1.7"/>
<rect x="73.7" y="409.0" width="1.7" height="1.7"/>
<rect x="96.2" y="403.3" width="1.7" height="1.7"/>
<rect x="118.7" y="398.0" width="1.7" height="1.7"/>
<rect x="141.2" y="383.2" width="1.7" height="1.7"/>
<rect x="163.7" y="385.1" width="1.7" height="1.7"/>
<rect x="186.2" y="389.5" width="1.7" height="1.7"/>
<rect x="208.7" y="389.0" width="1.7" height="1.7"/>
<rect x="231.2" y="412.5" width="1.7" height="1.7"/>
<rect x="253.7" y="413.4" width="1.7" height="1.7"/>
<rect x="276.1" y="415.8" width="1.7" height="1.7"/>
<rect x="298.6" y="414.7" width="1.7" height="1.7"/>
<rect x="321.1" y="437.5" width="1.7" height="1.7"/>
<rect x="343.6" y="444.5" width="1.7" height="1.7"/>
<rect x="366.1" y="444.3" width="1.7" height="1.7"/>
<rect x="51.1" y="399.8" width="1.7" height="1.7"/>
<rect x="73.7" y="399.5" width="1.7" height="1.7"/>
<rect x="96.2" y="403.0" width="1.7" height="1.7"/>
<rect x="118.7" y="405.0" width="1.7" height="1.7"/>
<rect x="141.2" y="393.2" width="1.7" height="1.7"/>
<rect x="163.7" y="411.4" width="1.7" height="1.7"/>
<rect x="186.2" y="411.9" width="1.7" height="1.7"/>
<rect x="208.7" y="425.1" width="1.7" height="1.7"/>
<rect x="231.2" y="434.4" width="1.7" height="1.7"/>
<rect x="253.7" y="441.4" width="1.7" height="1.7"/>
<rect x="276.1" y="440.0" width="1.7" height="1.7"/>
<rect x="298.6" y="440.6" width="1.7" height="1.7"/>
<rect x="321.1" y="430.3" width="1.7" height="1.7"/>
<rect x="343.6" y="431.8" width="1.7" height="1.7"/>
<rect x="366.1" y="431.4" width="1.7" height="1.7"/>
</g>
<polyline points="29.5,425.2 52.0,425.7 74.5,426.3 97.0,426.8 119.5,427.3 142.0,427.8 164.5,428.3 187.0,428.8 209.5,429.3 232.0,429.8 254.5,430.3 277.0,430.8 299.5,431.3 322.0,431.8 344.5,432.3 367.0,432.8" fill="none" stroke="#2f48ee" stroke-width="1.35"/>
<polyline points="29.5,404.9 52.0,403.0 74.5,406.0 97.0,407.4 119.5,405.0 142.0,401.7 164.5,399.0 187.0,401.4 209.5,407.8 232.0,413.4 254.5,413.4 277.0,412.6 299.5,416.2 322.0,423.0 344.5,425.4 367.0,424.6" fill="none" stroke="#2a2a2a" stroke-width="0.65"/>
<circle cx="29.5" cy="404.9" r="1.35" fill="#000"/>
<circle cx="52.0" cy="403.0" r="1.35" fill="#000"/>
<circle cx="74.5" cy="406.0" r="1.35" fill="#000"/>
<circle cx="97.0" cy="407.4" r="1.35" fill="#000"/>
<circle cx="119.5" cy="405.0" r="1.35" fill="#000"/>
<circle cx="142.0" cy="401.7" r="1.35" fill="#000"/>
<circle cx="164.5" cy="399.0" r="1.35" fill="#000"/>
<circle cx="187.0" cy="401.4" r="1.35" fill="#000"/>
<circle cx="209.5" cy="407.8" r="1.35" fill="#000"/>
<circle cx="232.0" cy="413.4" r="1.35" fill="#000"/>
<circle cx="254.5" cy="413.4" r="1.35" fill="#000"/>
<circle cx="277.0" cy="412.6" r="1.35" fill="#000"/>
<circle cx="299.5" cy="416.2" r="1.35" fill="#000"/>
<circle cx="322.0" cy="423.0" r="1.35" fill="#000"/>
<circle cx="344.5" cy="425.4" r="1.35" fill="#000"/>
<circle cx="367.0" cy="424.6" r="1.35" fill="#000"/>
</g>
<rect x="29.5" y="337.5" width="337.5" height="166.0" fill="none" stroke="#646464" stroke-width="1.4"/>
<line x1="27.3" x2="29.5" y1="365.5" y2="365.5" stroke="#646464" stroke-width="0.8"/>
<text x="15.8" y="368.1" font-size="7.3" fill="#3a3a3a" textLength="10.0" lengthAdjust="spacingAndGlyphs" letter-spacing="0.4" word-spacing="2.04" stroke="#3a3a3a" stroke-width="0.18" >80</text>
<line x1="27.3" x2="29.5" y1="405.4" y2="405.4" stroke="#646464" stroke-width="0.8"/>
<text x="15.8" y="408.0" font-size="7.3" fill="#3a3a3a" textLength="10.0" lengthAdjust="spacingAndGlyphs" letter-spacing="0.4" word-spacing="2.04" stroke="#3a3a3a" stroke-width="0.18" >75</text>
<line x1="27.3" x2="29.5" y1="445.4" y2="445.4" stroke="#646464" stroke-width="0.8"/>
<text x="15.8" y="448.0" font-size="7.3" fill="#3a3a3a" textLength="10.0" lengthAdjust="spacingAndGlyphs" letter-spacing="0.4" word-spacing="2.04" stroke="#3a3a3a" stroke-width="0.18" >70</text>
<line x1="27.3" x2="29.5" y1="485.3" y2="485.3" stroke="#646464" stroke-width="0.8"/>
<text x="15.8" y="487.9" font-size="7.3" fill="#3a3a3a" textLength="10.0" lengthAdjust="spacingAndGlyphs" letter-spacing="0.4" word-spacing="2.04" stroke="#3a3a3a" stroke-width="0.18" >65</text>
<line x1="29.5" x2="29.5" y1="503.5" y2="505.3" stroke="#646464" stroke-width="0.8"/>
<text x="19.0" y="510.7" font-size="5.6" fill="#333" textLength="21.0" lengthAdjust="spacingAndGlyphs" letter-spacing="0.3" word-spacing="1.57" stroke="#333" stroke-width="0.1">23MAR</text>
<line x1="74.5" x2="74.5" y1="503.5" y2="505.3" stroke="#646464" stroke-width="0.8"/>
<text x="64.0" y="510.7" font-size="5.6" fill="#333" textLength="21.0" lengthAdjust="spacingAndGlyphs" letter-spacing="0.3" word-spacing="1.57" stroke="#333" stroke-width="0.1">25MAR</text>
<line x1="119.5" x2="119.5" y1="503.5" y2="505.3" stroke="#646464" stroke-width="0.8"/>
<text x="109.0" y="510.7" font-size="5.6" fill="#333" textLength="21.0" lengthAdjust="spacingAndGlyphs" letter-spacing="0.3" word-spacing="1.57" stroke="#333" stroke-width="0.1">27MAR</text>
<line x1="164.5" x2="164.5" y1="503.5" y2="505.3" stroke="#646464" stroke-width="0.8"/>
<text x="154.0" y="510.7" font-size="5.6" fill="#333" textLength="21.0" lengthAdjust="spacingAndGlyphs" letter-spacing="0.3" word-spacing="1.57" stroke="#333" stroke-width="0.1">29MAR</text>
<line x1="232.0" x2="232.0" y1="503.5" y2="505.3" stroke="#646464" stroke-width="0.8"/>
<text x="223.8" y="510.7" font-size="5.6" fill="#333" textLength="16.4" lengthAdjust="spacingAndGlyphs" letter-spacing="0.3" word-spacing="1.57" stroke="#333" stroke-width="0.1">1APR</text>
<line x1="277.0" x2="277.0" y1="503.5" y2="505.3" stroke="#646464" stroke-width="0.8"/>
<text x="268.8" y="510.7" font-size="5.6" fill="#333" textLength="16.4" lengthAdjust="spacingAndGlyphs" letter-spacing="0.3" word-spacing="1.57" stroke="#333" stroke-width="0.1">3APR</text>
<line x1="322.0" x2="322.0" y1="503.5" y2="505.3" stroke="#646464" stroke-width="0.8"/>
<text x="313.8" y="510.7" font-size="5.6" fill="#333" textLength="16.4" lengthAdjust="spacingAndGlyphs" letter-spacing="0.3" word-spacing="1.57" stroke="#333" stroke-width="0.1">5APR</text>
<line x1="367.0" x2="367.0" y1="503.5" y2="505.3" stroke="#646464" stroke-width="0.8"/>
<text x="358.8" y="510.7" font-size="5.6" fill="#333" textLength="16.4" lengthAdjust="spacingAndGlyphs" letter-spacing="0.3" word-spacing="1.57" stroke="#333" stroke-width="0.1">7APR</text>
<text x="21.5" y="516.0" font-size="5.6" fill="#333" textLength="16.0" lengthAdjust="spacingAndGlyphs" letter-spacing="0.3" word-spacing="1.57" stroke="#333" stroke-width="0.1">2025</text>
<rect x="32.0" y="339.2" width="334.4" height="17.0" fill="#fff"/>
<text x="37.0" y="345.7" font-size="5.6" fill="#3a3a3a" textLength="190.0" lengthAdjust="spacingAndGlyphs" letter-spacing="0.45" word-spacing="1.57" stroke="#3a3a3a" stroke-width="0.18" >National Weather Service Global Forecast System</text>
<line x1="39.6" x2="65.0" y1="351.0" y2="351.0" stroke="#b4b4b4" stroke-width="0.7"/>
<rect x="38.7" y="350.1" width="1.8" height="1.8" fill="#a3a3a3"/>
<rect x="64.1" y="350.1" width="1.8" height="1.8" fill="#a3a3a3"/>
<text x="71.6" y="353.2" font-size="5.6" fill="#3a3a3a" textLength="73.0" lengthAdjust="spacingAndGlyphs" letter-spacing="0.45" word-spacing="1.57" stroke="#3a3a3a" stroke-width="0.18" >Ensemble Members</text>
<line x1="166.6" x2="192.3" y1="349.8" y2="349.8" stroke="#6ca6f8" stroke-width="2"/>
<line x1="166.6" x2="192.3" y1="352.1" y2="352.1" stroke="#e8655e" stroke-width="1.7"/>
<line x1="166.6" x2="192.3" y1="351.1" y2="351.1" stroke="#111" stroke-width="0.6"/>
<circle cx="166.6" cy="351.0" r="1.3" fill="#000"/>
<circle cx="192.3" cy="351.0" r="1.3" fill="#000"/>
<text x="198.8" y="353.2" font-size="5.6" fill="#3a3a3a" textLength="68.5" lengthAdjust="spacingAndGlyphs" letter-spacing="0.45" word-spacing="1.57" stroke="#3a3a3a" stroke-width="0.18" >Ensemble Average</text>
<line x1="294" x2="319.7" y1="351.0" y2="351.0" stroke="#4d5eee" stroke-width="1.6"/>
<text x="326.1" y="353.2" font-size="5.6" fill="#3a3a3a" textLength="26.2" lengthAdjust="spacingAndGlyphs" letter-spacing="0.45" word-spacing="1.57" stroke="#3a3a3a" stroke-width="0.18" >Normal</text>
<text x="4.5" y="416.2" font-size="7.6" fill="#3a3a3a" letter-spacing="0.3" stroke="#3a3a3a" stroke-width="0.3">°F</text>
<text x="284.5" y="500.4" font-size="5.6" fill="#3a3a3a" textLength="76.0" lengthAdjust="spacingAndGlyphs" letter-spacing="0.45" word-spacing="1.57" stroke="#3a3a3a" stroke-width="0.18" >© World Ag Weather</text>
<text x="683.6" y="44.2" font-size="8.8" fill="#3a3a3a" textLength="197.3" lengthAdjust="spacingAndGlyphs" letter-spacing="0.7" word-spacing="2.46" stroke="#3a3a3a" stroke-width="0.18" >Argentina Soybeans Precipitation</text>
<text x="651.2" y="55.1" font-size="7.3" fill="#3a3a3a" textLength="262.0" lengthAdjust="spacingAndGlyphs" letter-spacing="0.58" word-spacing="2.04" stroke="#3a3a3a" stroke-width="0.18" >Forecast Precipitation Compared to Normal (inches)</text>
<text x="696.1" y="64.3" font-size="7.3" fill="#3a3a3a" textLength="172.3" lengthAdjust="spacingAndGlyphs" letter-spacing="0.58" word-spacing="2.04" stroke="#3a3a3a" stroke-width="0.18" >Production–Weighted Area Average</text>
<text x="666.9" y="73.8" font-size="8.0" fill="#3a3a3a" textLength="230.6" lengthAdjust="spacingAndGlyphs" letter-spacing="0.64" word-spacing="2.24" stroke="#3a3a3a" stroke-width="0.18" >15–Day Forecast Beginning 23 March 2025</text>
<clipPath id="c3"><rect x="619.6" y="79.9" width="339.0" height="99.3"/></clipPath>
<line x1="619.6" x2="958.6" y1="89.3" y2="89.3" stroke="#d2d2d2" stroke-width="0.6" stroke-dasharray="1 2.2"/>
<line x1="619.6" x2="958.6" y1="105.2" y2="105.2" stroke="#d2d2d2" stroke-width="0.6" stroke-dasharray="1 2.2"/>
<line x1="619.6" x2="958.6" y1="121.1" y2="121.1" stroke="#d2d2d2" stroke-width="0.6" stroke-dasharray="1 2.2"/>
<line x1="619.6" x2="958.6" y1="137.1" y2="137.1" stroke="#d2d2d2" stroke-width="0.6" stroke-dasharray="1 2.2"/>
<line x1="619.6" x2="958.6" y1="153.0" y2="153.0" stroke="#d2d2d2" stroke-width="0.6" stroke-dasharray="1 2.2"/>
<line x1="619.6" x2="958.6" y1="168.9" y2="168.9" stroke="#d2d2d2" stroke-width="0.6" stroke-dasharray="1 2.2"/>
<g clip-path="url(#c3)">
<g fill="none" stroke="#b4b4b4" stroke-width="0.5">
<polyline points="619.6,165.7 642.2,152.8 664.8,147.9 687.4,146.3 710.0,145.5 732.6,145.2 755.2,142.9 777.8,140.3 800.4,134.4 823.0,130.1 845.6,129.3 868.2,127.4 890.8,126.2 913.4,121.5 936.0,118.8 958.6,118.1"/>
<polyline points="619.6,165.7 642.2,153.0 664.8,149.4 687.4,145.8 710.0,138.4 732.6,137.8 755.2,135.0 777.8,127.2 800.4,123.6 823.0,122.2 845.6,121.8 868.2,116.4 890.8,112.3 913.4,108.3 936.0,105.6 958.6,103.1"/>
<polyline points="619.6,165.7 642.2,154.2 664.8,147.5 687.4,144.4 710.0,143.9 732.6,143.5 755.2,142.9 777.8,140.6 800.4,137.5 823.0,136.6 845.6,134.6 868.2,128.8 890.8,127.4 913.4,125.2 936.0,124.2 958.6,122.9"/>
<polyline points="619.6,165.7 642.2,155.3 664.8,152.0 687.4,148.6 710.0,140.4 732.6,138.1 755.2,136.3 777.8,134.4 800.4,132.6 823.0,130.4 845.6,129.9 868.2,129.6 890.8,126.6 913.4,125.0 936.0,123.5 958.6,118.5"/>
<polyline points="619.6,165.7 642.2,161.4 664.8,160.8 687.4,159.2 710.0,157.2 732.6,156.7 755.2,154.3 777.8,152.6 800.4,151.9 823.0,150.3 845.6,149.8 868.2,147.2 890.8,144.8 913.4,141.7 936.0,141.2 958.6,140.4"/>
<polyline points="619.6,165.7 642.2,161.1 664.8,156.4 687.4,155.2 710.0,154.3 732.6,153.6 755.2,150.9 777.8,146.2 800.4,145.6 823.0,142.6 845.6,142.2 868.2,141.3 890.8,140.3 913.4,137.6 936.0,137.3 958.6,134.6"/>
<polyline points="619.6,165.7 642.2,157.7 664.8,154.2 687.4,151.5 710.0,149.7 732.6,149.2 755.2,148.1 777.8,146.1 800.4,143.8 823.0,140.5 845.6,139.3 868.2,137.1 890.8,135.0 913.4,132.8 936.0,132.7 958.6,131.9"/>
<polyline points="619.6,165.7 642.2,155.3 664.8,152.4 687.4,149.1 710.0,148.0 732.6,147.5 755.2,143.5 777.8,136.9 800.4,132.5 823.0,129.6 845.6,128.2 868.2,126.1 890.8,122.8 913.4,119.7 936.0,119.1 958.6,118.6"/>
<polyline points="619.6,165.7 642.2,155.0 664.8,153.0 687.4,149.3 710.0,141.9 732.6,141.4 755.2,139.8 777.8,137.5 800.4,134.0 823.0,132.8 845.6,131.1 868.2,130.8 890.8,128.1 913.4,127.5 936.0,123.7 958.6,123.1"/>
<polyline points="619.6,165.7 642.2,160.5 664.8,158.1 687.4,155.7 710.0,154.5 732.6,153.5 755.2,150.6 777.8,149.4 800.4,145.3 823.0,144.6 845.6,144.2 868.2,142.4 890.8,140.3 913.4,138.9 936.0,137.1 958.6,136.5"/>
<polyline points="619.6,165.7 642.2,158.5 664.8,153.8 687.4,151.1 710.0,149.0 732.6,147.5 755.2,146.7 777.8,135.5 800.4,132.5 823.0,130.5 845.6,128.4 868.2,127.0 890.8,124.0 913.4,122.1 936.0,121.7 958.6,121.3"/>
<polyline points="619.6,165.7 642.2,159.1 664.8,157.7 687.4,153.1 710.0,151.3 732.6,150.8 755.2,150.1 777.8,147.4 800.4,145.9 823.0,144.3 845.6,143.1 868.2,142.2 890.8,141.7 913.4,140.3 936.0,138.4 958.6,135.2"/>
<polyline points="619.6,165.7 642.2,159.2 664.8,155.4 687.4,154.5 710.0,150.0 732.6,149.7 755.2,148.1 777.8,138.7 800.4,135.6 823.0,132.3 845.6,131.8 868.2,131.3 890.8,129.5 913.4,126.8 936.0,125.4 958.6,122.0"/>
<polyline points="619.6,165.7 642.2,160.1 664.8,157.4 687.4,154.8 710.0,154.3 732.6,153.3 755.2,151.0 777.8,147.5 800.4,145.5 823.0,142.2 845.6,140.9 868.2,140.4 890.8,138.1 913.4,136.2 936.0,135.9 958.6,134.0"/>
<polyline points="619.6,165.7 642.2,158.6 664.8,155.9 687.4,155.3 710.0,149.5 732.6,148.8 755.2,148.0 777.8,145.9 800.4,144.9 823.0,140.1 845.6,137.5 868.2,136.6 890.8,135.0 913.4,134.9 936.0,133.6 958.6,133.0"/>
<polyline points="619.6,165.7 642.2,159.7 664.8,159.4 687.4,154.5 710.0,152.6 732.6,152.1 755.2,151.1 777.8,149.9 800.4,148.3 823.0,147.2 845.6,146.1 868.2,144.8 890.8,141.4 913.4,138.8 936.0,136.4 958.6,133.6"/>
<polyline points="619.6,165.7 642.2,158.5 664.8,156.3 687.4,153.3 710.0,150.2 732.6,149.8 755.2,149.0 777.8,144.5 800.4,138.4 823.0,136.3 845.6,135.8 868.2,134.5 890.8,133.6 913.4,131.1 936.0,128.3 958.6,126.9"/>
<polyline points="619.6,165.7 642.2,158.5 664.8,157.2 687.4,154.6 710.0,152.9 732.6,152.3 755.2,152.0 777.8,148.2 800.4,141.8 823.0,141.0 845.6,139.7 868.2,137.0 890.8,135.3 913.4,134.9 936.0,134.1 958.6,131.6"/>
<polyline points="619.6,165.7 642.2,157.1 664.8,155.4 687.4,152.7 710.0,150.4 732.6,149.8 755.2,148.9 777.8,143.9 800.4,141.4 823.0,137.7 845.6,136.8 868.2,133.8 890.8,129.9 913.4,127.6 936.0,126.8 958.6,125.6"/>
<polyline points="619.6,165.7 642.2,157.7 664.8,155.6 687.4,152.3 710.0,151.1 732.6,150.7 755.2,150.3 777.8,139.3 800.4,134.1 823.0,133.0 845.6,131.0 868.2,129.5 890.8,128.4 913.4,126.7 936.0,123.1 958.6,122.7"/>
<polyline points="619.6,165.7 642.2,160.8 664.8,158.7 687.4,155.9 710.0,154.4 732.6,154.0 755.2,153.1 777.8,152.9 800.4,151.8 823.0,150.3 845.6,149.5 868.2,146.3 890.8,143.3 913.4,141.1 936.0,140.3 958.6,139.6"/>
<polyline points="619.6,165.7 642.2,157.8 664.8,156.5 687.4,154.0 710.0,146.4 732.6,145.8 755.2,145.2 777.8,135.7 800.4,133.9 823.0,130.1 845.6,127.3 868.2,124.0 890.8,121.5 913.4,116.7 936.0,115.7 958.6,114.8"/>
<polyline points="619.6,165.7 642.2,159.4 664.8,156.8 687.4,153.3 710.0,150.9 732.6,149.4 755.2,149.1 777.8,147.7 800.4,146.3 823.0,143.8 845.6,143.2 868.2,142.6 890.8,141.7 913.4,139.0 936.0,138.9 958.6,136.6"/>
<polyline points="619.6,165.7 642.2,159.5 664.8,155.2 687.4,154.2 710.0,152.1 732.6,151.1 755.2,150.5 777.8,146.9 800.4,145.2 823.0,143.8 845.6,142.9 868.2,139.1 890.8,137.9 913.4,134.4 936.0,134.3 958.6,133.0"/>
<polyline points="619.6,165.7 642.2,160.0 664.8,159.4 687.4,157.1 710.0,156.5 732.6,156.0 755.2,155.5 777.8,151.7 800.4,151.0 823.0,147.0 845.6,146.6 868.2,143.4 890.8,142.1 913.4,140.7 936.0,140.1 958.6,138.7"/>
<polyline points="619.6,165.7 642.2,159.1 664.8,154.4 687.4,153.3 710.0,149.3 732.6,148.1 755.2,146.4 777.8,141.8 800.4,138.8 823.0,138.5 845.6,137.1 868.2,133.0 890.8,131.1 913.4,128.7 936.0,128.1 958.6,127.5"/>
<polyline points="619.6,165.7 642.2,158.0 664.8,154.1 687.4,151.7 710.0,149.0 732.6,147.4 755.2,144.6 777.8,142.5 800.4,139.9 823.0,135.4 845.6,135.1 868.2,133.3 890.8,132.5 913.4,130.4 936.0,130.1 958.6,129.5"/>
<polyline points="619.6,165.7 642.2,157.5 664.8,155.7 687.4,154.4 710.0,150.7 732.6,149.8 755.2,149.2 777.8,143.1 800.4,141.0 823.0,139.0 845.6,137.3 868.2,135.1 890.8,134.8 913.4,132.0 936.0,130.4 958.6,129.8"/>
</g>
<g fill-opacity="0.72">
<polygon points="619.6,165.7 642.2,158.1 664.8,155.0 687.4,152.5 710.0,149.6 732.6,148.8 755.2,147.1 777.8,142.3 800.4,139.4 823.0,137.1 845.6,135.8 868.2,133.9 890.8,132.1 913.4,129.9 936.0,128.3 954.5,126.9 954.5,126.9 936.0,129.0 913.4,131.6 890.8,134.3 868.2,136.9 845.6,139.5 823.0,142.1 800.4,144.7 777.8,147.4 755.2,150.0 732.6,152.6 710.0,155.2 687.4,157.9 664.8,160.5 642.2,163.1 619.6,165.7" fill="#65d701"/>
<polygon points="954.5,126.9 958.6,126.6 958.6,126.4 954.5,126.9" fill="#d88616"/>
</g>
<g fill="#a3a3a3">
<rect x="641.2" y="151.8" width="2.1" height="2.1"/>
<rect x="663.8" y="146.8" width="2.1" height="2.1"/>
<rect x="686.4" y="145.2" width="2.1" height="2.1"/>
<rect x="709.0" y="144.4" width="2.1" height="2.1"/>
<rect x="731.6" y="144.1" width="2.1" height="2.1"/>
<rect x="754.2" y="141.8" width="2.1" height="2.1"/>
<rect x="776.8" y="139.3" width="2.1" height="2.1"/>
<rect x="799.4" y="133.4" width="2.1" height="2.1"/>
<rect x="822.0" y="129.0" width="2.1" height="2.1"/>
<rect x="844.6" y="128.3" width="2.1" height="2.1"/>
<rect x="867.2" y="126.3" width="2.1" height="2.1"/>
<rect x="889.8" y="125.1" width="2.1" height="2.1"/>
<rect x="912.4" y="120.4" width="2.1" height="2.1"/>
<rect x="935.0" y="117.7" width="2.1" height="2.1"/>
<rect x="957.6" y="117.1" width="2.1" height="2.1"/>
<rect x="641.2" y="151.9" width="2.1" height="2.1"/>
<rect x="663.8" y="148.4" width="2.1" height="2.1"/>
<rect x="686.4" y="144.8" width="2.1" height="2.1"/>
<rect x="709.0" y="137.4" width="2.1" height="2.1"/>
<rect x="731.6" y="136.7" width="2.1" height="2.1"/>
<rect x="754.2" y="134.0" width="2.1" height="2.1"/>
<rect x="776.8" y="126.1" width="2.1" height="2.1"/>
<rect x="799.4" y="122.5" width="2.1" height="2.1"/>
<rect x="822.0" y="121.1" width="2.1" height="2.1"/>
<rect x="844.6" y="120.8" width="2.1" height="2.1"/>
<rect x="867.2" y="115.3" width="2.1" height="2.1"/>
<rect x="889.8" y="111.2" width="2.1" height="2.1"/>
<rect x="912.4" y="107.3" width="2.1" height="2.1"/>
<rect x="935.0" y="104.5" width="2.1" height="2.1"/>
<rect x="957.6" y="102.1" width="2.1" height="2.1"/>
<rect x="641.2" y="153.2" width="2.1" height="2.1"/>
<rect x="663.8" y="146.4" width="2.1" height="2.1"/>
<rect x="686.4" y="143.4" width="2.1" height="2.1"/>
<rect x="709.0" y="142.9" width="2.1" height="2.1"/>
<rect x="731.6" y="142.4" width="2.1" height="2.1"/>
<rect x="754.2" y="141.9" width="2.1" height="2.1"/>
<rect x="776.8" y="139.5" width="2.1" height="2.1"/>
<rect x="799.4" y="136.4" width="2.1" height="2.1"/>
<rect x="822.0" y="135.5" width="2.1" height="2.1"/>
<rect x="844.6" y="133.6" width="2.1" height="2.1"/>
<rect x="867.2" y="127.8" width="2.1" height="2.1"/>
<rect x="889.8" y="126.3" width="2.1" height="2.1"/>
<rect x="912.4" y="124.1" width="2.1" height="2.1"/>
<rect x="935.0" y="123.1" width="2.1" height="2.1"/>
<rect x="957.6" y="121.9" width="2.1" height="2.1"/>
<rect x="641.2" y="154.2" width="2.1" height="2.1"/>
<rect x="663.8" y="150.9" width="2.1" height="2.1"/>
<rect x="686.4" y="147.5" width="2.1" height="2.1"/>
<rect x="709.0" y="139.3" width="2.1" height="2.1"/>
<rect x="731.6" y="137.1" width="2.1" height="2.1"/>
<rect x="754.2" y="135.3" width="2.1" height="2.1"/>
<rect x="776.8" y="133.3" width="2.1" height="2.1"/>
<rect x="799.4" y="131.5" width="2.1" height="2.1"/>
<rect x="822.0" y="129.4" width="2.1" height="2.1"/>
<rect x="844.6" y="128.8" width="2.1" height="2.1"/>
<rect x="867.2" y="128.5" width="2.1" height="2.1"/>
<rect x="889.8" y="125.6" width="2.1" height="2.1"/>
<rect x="912.4" y="124.0" width="2.1" height="2.1"/>
<rect x="935.0" y="122.4" width="2.1" height="2.1"/>
<rect x="957.6" y="117.4" width="2.1" height="2.1"/>
<rect x="641.2" y="160.3" width="2.1" height="2.1"/>
<rect x="663.8" y="159.8" width="2.1" height="2.1"/>
<rect x="686.4" y="158.1" width="2.1" height="2.1"/>
<rect x="709.0" y="156.2" width="2.1" height="2.1"/>
<rect x="731.6" y="155.7" width="2.1" height="2.1"/>
<rect x="754.2" y="153.3" width="2.1" height="2.1"/>
<rect x="776.8" y="151.6" width="2.1" height="2.1"/>
<rect x="799.4" y="150.8" width="2.1" height="2.1"/>
<rect x="822.0" y="149.2" width="2.1" height="2.1"/>
<rect x="844.6" y="148.7" width="2.1" height="2.1"/>
<rect x="867.2" y="146.1" width="2.1" height="2.1"/>
<rect x="889.8" y="143.7" width="2.1" height="2.1"/>
<rect x="912.4" y="140.7" width="2.1" height="2.1"/>
<rect x="935.0" y="140.2" width="2.1" height="2.1"/>
<rect x="957.6" y="139.4" width="2.1" height="2.1"/>
<rect x="641.2" y="160.0" width="2.1" height="2.1"/>
<rect x="663.8" y="155.4" width="2.1" height="2.1"/>
<rect x="686.4" y="154.2" width="2.1" height="2.1"/>
<rect x="709.0" y="153.3" width="2.1" height="2.1"/>
<rect x="731.6" y="152.5" width="2.1" height="2.1"/>
<rect x="754.2" y="149.8" width="2.1" height="2.1"/>
<rect x="776.8" y="145.1" width="2.1" height="2.1"/>
<rect x="799.4" y="144.6" width="2.1" height="2.1"/>
<rect x="822.0" y="141.5" width="2.1" height="2.1"/>
<rect x="844.6" y="141.1" width="2.1" height="2.1"/>
<rect x="867.2" y="140.2" width="2.1" height="2.1"/>
<rect x="889.8" y="139.2" width="2.1" height="2.1"/>
<rect x="912.4" y="136.6" width="2.1" height="2.1"/>
<rect x="935.0" y="136.2" width="2.1" height="2.1"/>
<rect x="957.6" y="133.5" width="2.1" height="2.1"/>
<rect x="641.2" y="156.7" width="2.1" height="2.1"/>
<rect x="663.8" y="153.1" width="2.1" height="2.1"/>
<rect x="686.4" y="150.5" width="2.1" height="2.1"/>
<rect x="709.0" y="148.7" width="2.1" height="2.1"/>
<rect x="731.6" y="148.2" width="2.1" height="2.1"/>
<rect x="754.2" y="147.0" width="2.1" height="2.1"/>
<rect x="776.8" y="145.1" width="2.1" height="2.1"/>
<rect x="799.4" y="142.7" width="2.1" height="2.1"/>
<rect x="822.0" y="139.5" width="2.1" height="2.1"/>
<rect x="844.6" y="138.3" width="2.1" height="2.1"/>
<rect x="867.2" y="136.1" width="2.1" height="2.1"/>
<rect x="889.8" y="134.0" width="2.1" height="2.1"/>
<rect x="912.4" y="131.8" width="2.1" height="2.1"/>
<rect x="935.0" y="131.7" width="2.1" height="2.1"/>
<rect x="957.6" y="130.8" width="2.1" height="2.1"/>
<rect x="641.2" y="154.2" width="2.1" height="2.1"/>
<rect x="663.8" y="151.3" width="2.1" height="2.1"/>
<rect x="686.4" y="148.1" width="2.1" height="2.1"/>
<rect x="709.0" y="147.0" width="2.1" height="2.1"/>
<rect x="731.6" y="146.5" width="2.1" height="2.1"/>
<rect x="754.2" y="142.4" width="2.1" height="2.1"/>
<rect x="776.8" y="135.9" width="2.1" height="2.1"/>
<rect x="799.4" y="131.5" width="2.1" height="2.1"/>
<rect x="822.0" y="128.6" width="2.1" height="2.1"/>
<rect x="844.6" y="127.2" width="2.1" height="2.1"/>
<rect x="867.2" y="125.0" width="2.1" height="2.1"/>
<rect x="889.8" y="121.7" width="2.1" height="2.1"/>
<rect x="912.4" y="118.7" width="2.1" height="2.1"/>
<rect x="935.0" y="118.0" width="2.1" height="2.1"/>
<rect x="957.6" y="117.5" width="2.1" height="2.1"/>
<rect x="641.2" y="154.0" width="2.1" height="2.1"/>
<rect x="663.8" y="151.9" width="2.1" height="2.1"/>
<rect x="686.4" y="148.2" width="2.1" height="2.1"/>
<rect x="709.0" y="140.9" width="2.1" height="2.1"/>
<rect x="731.6" y="140.4" width="2.1" height="2.1"/>
<rect x="754.2" y="138.8" width="2.1" height="2.1"/>
<rect x="776.8" y="136.5" width="2.1" height="2.1"/>
<rect x="799.4" y="133.0" width="2.1" height="2.1"/>
<rect x="822.0" y="131.7" width="2.1" height="2.1"/>
<rect x="844.6" y="130.0" width="2.1" height="2.1"/>
<rect x="867.2" y="129.8" width="2.1" height="2.1"/>
<rect x="889.8" y="127.1" width="2.1" height="2.1"/>
<rect x="912.4" y="126.5" width="2.1" height="2.1"/>
<rect x="935.0" y="122.7" width="2.1" height="2.1"/>
<rect x="957.6" y="122.0" width="2.1" height="2.1"/>
<rect x="641.2" y="159.4" width="2.1" height="2.1"/>
<rect x="663.8" y="157.1" width="2.1" height="2.1"/>
<rect x="686.4" y="154.6" width="2.1" height="2.1"/>
<rect x="709.0" y="153.4" width="2.1" height="2.1"/>
<rect x="731.6" y="152.5" width="2.1" height="2.1"/>
<rect x="754.2" y="149.6" width="2.1" height="2.1"/>
<rect x="776.8" y="148.3" width="2.1" height="2.1"/>
<rect x="799.4" y="144.2" width="2.1" height="2.1"/>
<rect x="822.0" y="143.5" width="2.1" height="2.1"/>
<rect x="844.6" y="143.2" width="2.1" height="2.1"/>
<rect x="867.2" y="141.4" width="2.1" height="2.1"/>
<rect x="889.8" y="139.3" width="2.1" height="2.1"/>
<rect x="912.4" y="137.9" width="2.1" height="2.1"/>
<rect x="935.0" y="136.1" width="2.1" height="2.1"/>
<rect x="957.6" y="135.5" width="2.1" height="2.1"/>
<rect x="641.2" y="157.4" width="2.1" height="2.1"/>
<rect x="663.8" y="152.8" width="2.1" height="2.1"/>
<rect x="686.4" y="150.1" width="2.1" height="2.1"/>
<rect x="709.0" y="147.9" width="2.1" height="2.1"/>
<rect x="731.6" y="146.5" width="2.1" height="2.1"/>
<rect x="754.2" y="145.6" width="2.1" height="2.1"/>
<rect x="776.8" y="134.5" width="2.1" height="2.1"/>
<rect x="799.4" y="131.5" width="2.1" height="2.1"/>
<rect x="822.0" y="129.5" width="2.1" height="2.1"/>
<rect x="844.6" y="127.4" width="2.1" height="2.1"/>
<rect x="867.2" y="126.0" width="2.1" height="2.1"/>
<rect x="889.8" y="123.0" width="2.1" height="2.1"/>
<rect x="912.4" y="121.0" width="2.1" height="2.1"/>
<rect x="935.0" y="120.7" width="2.1" height="2.1"/>
<rect x="957.6" y="120.2" width="2.1" height="2.1"/>
<rect x="641.2" y="158.1" width="2.1" height="2.1"/>
<rect x="663.8" y="156.7" width="2.1" height="2.1"/>
<rect x="686.4" y="152.0" width="2.1" height="2.1"/>
<rect x="709.0" y="150.3" width="2.1" height="2.1"/>
<rect x="731.6" y="149.8" width="2.1" height="2.1"/>
<rect x="754.2" y="149.1" width="2.1" height="2.1"/>
<rect x="776.8" y="146.4" width="2.1" height="2.1"/>
<rect x="799.4" y="144.8" width="2.1" height="2.1"/>
<rect x="822.0" y="143.3" width="2.1" height="2.1"/>
<rect x="844.6" y="142.1" width="2.1" height="2.1"/>
<rect x="867.2" y="141.2" width="2.1" height="2.1"/>
<rect x="889.8" y="140.7" width="2.1" height="2.1"/>
<rect x="912.4" y="139.2" width="2.1" height="2.1"/>
<rect x="935.0" y="137.3" width="2.1" height="2.1"/>
<rect x="957.6" y="134.1" width="2.1" height="2.1"/>
<rect x="641.2" y="158.1" width="2.1" height="2.1"/>
<rect x="663.8" y="154.4" width="2.1" height="2.1"/>
<rect x="686.4" y="153.5" width="2.1" height="2.1"/>
<rect x="709.0" y="149.0" width="2.1" height="2.1"/>
<rect x="731.6" y="148.7" width="2.1" height="2.1"/>
<rect x="754.2" y="147.1" width="2.1" height="2.1"/>
<rect x="776.8" y="137.7" width="2.1" height="2.1"/>
<rect x="799.4" y="134.5" width="2.1" height="2.1"/>
<rect x="822.0" y="131.2" width="2.1" height="2.1"/>
<rect x="844.6" y="130.8" width="2.1" height="2.1"/>
<rect x="867.2" y="130.3" width="2.1" height="2.1"/>
<rect x="889.8" y="128.4" width="2.1" height="2.1"/>
<rect x="912.4" y="125.7" width="2.1" height="2.1"/>
<rect x="935.0" y="124.3" width="2.1" height="2.1"/>
<rect x="957.6" y="121.0" width="2.1" height="2.1"/>
<rect x="641.2" y="159.1" width="2.1" height="2.1"/>
<rect x="663.8" y="156.3" width="2.1" height="2.1"/>
<rect x="686.4" y="153.7" width="2.1" height="2.1"/>
<rect x="709.0" y="153.2" width="2.1" height="2.1"/>
<rect x="731.6" y="152.2" width="2.1" height="2.1"/>
<rect x="754.2" y="150.0" width="2.1" height="2.1"/>
<rect x="776.8" y="146.5" width="2.1" height="2.1"/>
<rect x="799.4" y="144.5" width="2.1" height="2.1"/>
<rect x="822.0" y="141.2" width="2.1" height="2.1"/>
<rect x="844.6" y="139.9" width="2.1" height="2.1"/>
<rect x="867.2" y="139.3" width="2.1" height="2.1"/>
<rect x="889.8" y="137.0" width="2.1" height="2.1"/>
<rect x="912.4" y="135.2" width="2.1" height="2.1"/>
<rect x="935.0" y="134.9" width="2.1" height="2.1"/>
<rect x="957.6" y="133.0" width="2.1" height="2.1"/>
<rect x="641.2" y="157.6" width="2.1" height="2.1"/>
<rect x="663.8" y="154.9" width="2.1" height="2.1"/>
<rect x="686.4" y="154.2" width="2.1" height="2.1"/>
<rect x="709.0" y="148.4" width="2.1" height="2.1"/>
<rect x="731.6" y="147.8" width="2.1" height="2.1"/>
<rect x="754.2" y="147.0" width="2.1" height="2.1"/>
<rect x="776.8" y="144.8" width="2.1" height="2.1"/>
<rect x="799.4" y="143.8" width="2.1" height="2.1"/>
<rect x="822.0" y="139.0" width="2.1" height="2.1"/>
<rect x="844.6" y="136.4" width="2.1" height="2.1"/>
<rect x="867.2" y="135.5" width="2.1" height="2.1"/>
<rect x="889.8" y="133.9" width="2.1" height="2.1"/>
<rect x="912.4" y="133.8" width="2.1" height="2.1"/>
<rect x="935.0" y="132.5" width="2.1" height="2.1"/>
<rect x="957.6" y="131.9" width="2.1" height="2.1"/>
<rect x="641.2" y="158.7" width="2.1" height="2.1"/>
<rect x="663.8" y="158.3" width="2.1" height="2.1"/>
<rect x="686.4" y="153.4" width="2.1" height="2.1"/>
<rect x="709.0" y="151.5" width="2.1" height="2.1"/>
<rect x="731.6" y="151.0" width="2.1" height="2.1"/>
<rect x="754.2" y="150.1" width="2.1" height="2.1"/>
<rect x="776.8" y="148.8" width="2.1" height="2.1"/>
<rect x="799.4" y="147.3" width="2.1" height="2.1"/>
<rect x="822.0" y="146.1" width="2.1" height="2.1"/>
<rect x="844.6" y="145.0" width="2.1" height="2.1"/>
<rect x="867.2" y="143.7" width="2.1" height="2.1"/>
<rect x="889.8" y="140.4" width="2.1" height="2.1"/>
<rect x="912.4" y="137.8" width="2.1" height="2.1"/>
<rect x="935.0" y="135.4" width="2.1" height="2.1"/>
<rect x="957.6" y="132.6" width="2.1" height="2.1"/>
<rect x="641.2" y="157.4" width="2.1" height="2.1"/>
<rect x="663.8" y="155.2" width="2.1" height="2.1"/>
<rect x="686.4" y="152.2" width="2.1" height="2.1"/>
<rect x="709.0" y="149.1" width="2.1" height="2.1"/>
<rect x="731.6" y="148.8" width="2.1" height="2.1"/>
<rect x="754.2" y="148.0" width="2.1" height="2.1"/>
<rect x="776.8" y="143.4" width="2.1" height="2.1"/>
<rect x="799.4" y="137.3" width="2.1" height="2.1"/>
<rect x="822.0" y="135.3" width="2.1" height="2.1"/>
<rect x="844.6" y="134.7" width="2.1" height="2.1"/>
<rect x="867.2" y="133.4" width="2.1" height="2.1"/>
<rect x="889.8" y="132.5" width="2.1" height="2.1"/>
<rect x="912.4" y="130.1" width="2.1" height="2.1"/>
<rect x="935.0" y="127.3" width="2.1" height="2.1"/>
<rect x="957.6" y="125.9" width="2.1" height="2.1"/>
<rect x="641.2" y="157.4" width="2.1" height="2.1"/>
<rect x="663.8" y="156.1" width="2.1" height="2.1"/>
<rect x="686.4" y="153.6" width="2.1" height="2.1"/>
<rect x="709.0" y="151.9" width="2.1" height="2.1"/>
<rect x="731.6" y="151.2" width="2.1" height="2.1"/>
<rect x="754.2" y="150.9" width="2.1" height="2.1"/>
<rect x="776.8" y="147.1" width="2.1" height="2.1"/>
<rect x="799.4" y="140.7" width="2.1" height="2.1"/>
<rect x="822.0" y="140.0" width="2.1" height="2.1"/>
<rect x="844.6" y="138.6" width="2.1" height="2.1"/>
<rect x="867.2" y="135.9" width="2.1" height="2.1"/>
<rect x="889.8" y="134.3" width="2.1" height="2.1"/>
<rect x="912.4" y="133.9" width="2.1" height="2.1"/>
<rect x="935.0" y="133.0" width="2.1" height="2.1"/>
<rect x="957.6" y="130.6" width="2.1" height="2.1"/>
<rect x="641.2" y="156.0" width="2.1" height="2.1"/>
<rect x="663.8" y="154.4" width="2.1" height="2.1"/>
<rect x="686.4" y="151.6" width="2.1" height="2.1"/>
<rect x="709.0" y="149.3" width="2.1" height="2.1"/>
<rect x="731.6" y="148.8" width="2.1" height="2.1"/>
<rect x="754.2" y="147.8" width="2.1" height="2.1"/>
<rect x="776.8" y="142.8" width="2.1" height="2.1"/>
<rect x="799.4" y="140.3" width="2.1" height="2.1"/>
<rect x="822.0" y="136.7" width="2.1" height="2.1"/>
<rect x="844.6" y="135.8" width="2.1" height="2.1"/>
<rect x="867.2" y="132.7" width="2.1" height="2.1"/>
<rect x="889.8" y="128.9" width="2.1" height="2.1"/>
<rect x="912.4" y="126.5" width="2.1" height="2.1"/>
<rect x="935.0" y="125.7" width="2.1" height="2.1"/>
<rect x="957.6" y="124.6" width="2.1" height="2.1"/>
<rect x="641.2" y="156.7" width="2.1" height="2.1"/>
<rect x="663.8" y="154.5" width="2.1" height="2.1"/>
<rect x="686.4" y="151.2" width="2.1" height="2.1"/>
<rect x="709.0" y="150.1" width="2.1" height="2.1"/>
<rect x="731.6" y="149.7" width="2.1" height="2.1"/>
<rect x="754.2" y="149.2" width="2.1" height="2.1"/>
<rect x="776.8" y="138.2" width="2.1" height="2.1"/>
<rect x="799.4" y="133.0" width="2.1" height="2.1"/>
<rect x="822.0" y="131.9" width="2.1" height="2.1"/>
<rect x="844.6" y="130.0" width="2.1" height="2.1"/>
<rect x="867.2" y="128.5" width="2.1" height="2.1"/>
<rect x="889.8" y="127.4" width="2.1" height="2.1"/>
<rect x="912.4" y="125.7" width="2.1" height="2.1"/>
<rect x="935.0" y="122.0" width="2.1" height="2.1"/>
<rect x="957.6" y="121.6" width="2.1" height="2.1"/>
<rect x="641.2" y="159.8" width="2.1" height="2.1"/>
<rect x="663.8" y="157.7" width="2.1" height="2.1"/>
<rect x="686.4" y="154.9" width="2.1" height="2.1"/>
<rect x="709.0" y="153.3" width="2.1" height="2.1"/>
<rect x="731.6" y="153.0" width="2.1" height="2.1"/>
<rect x="754.2" y="152.1" width="2.1" height="2.1"/>
<rect x="776.8" y="151.9" width="2.1" height="2.1"/>
<rect x="799.4" y="150.7" width="2.1" height="2.1"/>
<rect x="822.0" y="149.3" width="2.1" height="2.1"/>
<rect x="844.6" y="148.4" width="2.1" height="2.1"/>
<rect x="867.2" y="145.2" width="2.1" height="2.1"/>
<rect x="889.8" y="142.2" width="2.1" height="2.1"/>
<rect x="912.4" y="140.0" width="2.1" height="2.1"/>
<rect x="935.0" y="139.2" width="2.1" height="2.1"/>
<rect x="957.6" y="138.6" width="2.1" height="2.1"/>
<rect x="641.2" y="156.7" width="2.1" height="2.1"/>
<rect x="663.8" y="155.4" width="2.1" height="2.1"/>
<rect x="686.4" y="153.0" width="2.1" height="2.1"/>
<rect x="709.0" y="145.3" width="2.1" height="2.1"/>
<rect x="731.6" y="144.8" width="2.1" height="2.1"/>
<rect x="754.2" y="144.1" width="2.1" height="2.1"/>
<rect x="776.8" y="134.7" width="2.1" height="2.1"/>
<rect x="799.4" y="132.9" width="2.1" height="2.1"/>
<rect x="822.0" y="129.1" width="2.1" height="2.1"/>
<rect x="844.6" y="126.3" width="2.1" height="2.1"/>
<rect x="867.2" y="122.9" width="2.1" height="2.1"/>
<rect x="889.8" y="120.4" width="2.1" height="2.1"/>
<rect x="912.4" y="115.7" width="2.1" height="2.1"/>
<rect x="935.0" y="114.6" width="2.1" height="2.1"/>
<rect x="957.6" y="113.8" width="2.1" height="2.1"/>
<rect x="641.2" y="158.4" width="2.1" height="2.1"/>
<rect x="663.8" y="155.7" width="2.1" height="2.1"/>
<rect x="686.4" y="152.3" width="2.1" height="2.1"/>
<rect x="709.0" y="149.9" width="2.1" height="2.1"/>
<rect x="731.6" y="148.4" width="2.1" height="2.1"/>
<rect x="754.2" y="148.1" width="2.1" height="2.1"/>
<rect x="776.8" y="146.7" width="2.1" height="2.1"/>
<rect x="799.4" y="145.3" width="2.1" height="2.1"/>
<rect x="822.0" y="142.7" width="2.1" height="2.1"/>
<rect x="844.6" y="142.2" width="2.1" height="2.1"/>
<rect x="867.2" y="141.5" width="2.1" height="2.1"/>
<rect x="889.8" y="140.7" width="2.1" height="2.1"/>
<rect x="912.4" y="138.0" width="2.1" height="2.1"/>
<rect x="935.0" y="137.8" width="2.1" height="2.1"/>
<rect x="957.6" y="135.6" width="2.1" height="2.1"/>
<rect x="641.2" y="158.4" width="2.1" height="2.1"/>
<rect x="663.8" y="154.1" width="2.1" height="2.1"/>
<rect x="686.4" y="153.2" width="2.1" height="2.1"/>
<rect x="709.0" y="151.1" width="2.1" height="2.1"/>
<rect x="731.6" y="150.1" width="2.1" height="2.1"/>
<rect x="754.2" y="149.4" width="2.1" height="2.1"/>
<rect x="776.8" y="145.8" width="2.1" height="2.1"/>
<rect x="799.4" y="144.1" width="2.1" height="2.1"/>
<rect x="822.0" y="142.7" width="2.1" height="2.1"/>
<rect x="844.6" y="141.9" width="2.1" height="2.1"/>
<rect x="867.2" y="138.0" width="2.1" height="2.1"/>
<rect x="889.8" y="136.8" width="2.1" height="2.1"/>
<rect x="912.4" y="133.4" width="2.1" height="2.1"/>
<rect x="935.0" y="133.3" width="2.1" height="2.1"/>
<rect x="957.6" y="131.9" width="2.1" height="2.1"/>
<rect x="641.2" y="159.0" width="2.1" height="2.1"/>
<rect x="663.8" y="158.4" width="2.1" height="2.1"/>
<rect x="686.4" y="156.0" width="2.1" height="2.1"/>
<rect x="709.0" y="155.4" width="2.1" height="2.1"/>
<rect x="731.6" y="154.9" width="2.1" height="2.1"/>
<rect x="754.2" y="154.4" width="2.1" height="2.1"/>
<rect x="776.8" y="150.6" width="2.1" height="2.1"/>
<rect x="799.4" y="149.9" width="2.1" height="2.1"/>
<rect x="822.0" y="146.0" width="2.1" height="2.1"/>
<rect x="844.6" y="145.5" width="2.1" height="2.1"/>
<rect x="867.2" y="142.3" width="2.1" height="2.1"/>
<rect x="889.8" y="141.0" width="2.1" height="2.1"/>
<rect x="912.4" y="139.7" width="2.1" height="2.1"/>
<rect x="935.0" y="139.1" width="2.1" height="2.1"/>
<rect x="957.6" y="137.7" width="2.1" height="2.1"/>
<rect x="641.2" y="158.0" width="2.1" height="2.1"/>
<rect x="663.8" y="153.3" width="2.1" height="2.1"/>
<rect x="686.4" y="152.3" width="2.1" height="2.1"/>
<rect x="709.0" y="148.2" width="2.1" height="2.1"/>
<rect x="731.6" y="147.0" width="2.1" height="2.1"/>
<rect x="754.2" y="145.3" width="2.1" height="2.1"/>
<rect x="776.8" y="140.7" width="2.1" height="2.1"/>
<rect x="799.4" y="137.8" width="2.1" height="2.1"/>
<rect x="822.0" y="137.4" width="2.1" height="2.1"/>
<rect x="844.6" y="136.0" width="2.1" height="2.1"/>
<rect x="867.2" y="131.9" width="2.1" height="2.1"/>
<rect x="889.8" y="130.1" width="2.1" height="2.1"/>
<rect x="912.4" y="127.7" width="2.1" height="2.1"/>
<rect x="935.0" y="127.0" width="2.1" height="2.1"/>
<rect x="957.6" y="126.5" width="2.1" height="2.1"/>
<rect x="641.2" y="157.0" width="2.1" height="2.1"/>
<rect x="663.8" y="153.1" width="2.1" height="2.1"/>
<rect x="686.4" y="150.7" width="2.1" height="2.1"/>
<rect x="709.0" y="148.0" width="2.1" height="2.1"/>
<rect x="731.6" y="146.3" width="2.1" height="2.1"/>
<rect x="754.2" y="143.5" width="2.1" height="2.1"/>
<rect x="776.8" y="141.5" width="2.1" height="2.1"/>
<rect x="799.4" y="138.9" width="2.1" height="2.1"/>
<rect x="822.0" y="134.3" width="2.1" height="2.1"/>
<rect x="844.6" y="134.0" width="2.1" height="2.1"/>
<rect x="867.2" y="132.2" width="2.1" height="2.1"/>
<rect x="889.8" y="131.5" width="2.1" height="2.1"/>
<rect x="912.4" y="129.3" width="2.1" height="2.1"/>
<rect x="935.0" y="129.1" width="2.1" height="2.1"/>
<rect x="957.6" y="128.4" width="2.1" height="2.1"/>
<rect x="641.2" y="156.5" width="2.1" height="2.1"/>
<rect x="663.8" y="154.7" width="2.1" height="2.1"/>
<rect x="686.4" y="153.4" width="2.1" height="2.1"/>
<rect x="709.0" y="149.6" width="2.1" height="2.1"/>
<rect x="731.6" y="148.7" width="2.1" height="2.1"/>
<rect x="754.2" y="148.2" width="2.1" height="2.1"/>
<rect x="776.8" y="142.0" width="2.1" height="2.1"/>
<rect x="799.4" y="140.0" width="2.1" height="2.1"/>
<rect x="822.0" y="138.0" width="2.1" height="2.1"/>
<rect x="844.6" y="136.3" width="2.1" height="2.1"/>
<rect x="867.2" y="134.0" width="2.1" height="2.1"/>
<rect x="889.8" y="133.8" width="2.1" height="2.1"/>
<rect x="912.4" y="131.0" width="2.1" height="2.1"/>
<rect x="935.0" y="129.4" width="2.1" height="2.1"/>
<rect x="957.6" y="128.8" width="2.1" height="2.1"/>
</g>
<polyline points="619.6,165.7 642.2,163.1 664.8,160.5 687.4,157.9 710.0,155.2 732.6,152.6 755.2,150.0 777.8,147.4 800.4,144.7 823.0,142.1 845.6,139.5 868.2,136.9 890.8,134.3 913.4,131.6 936.0,129.0 958.6,126.4" fill="none" stroke="#2f48ee" stroke-width="1.35"/>
<polyline points="619.6,165.7 642.2,158.1 664.8,155.0 687.4,152.5 710.0,149.6 732.6,148.8 755.2,147.1 777.8,142.3 800.4,139.4 823.0,137.1 845.6,135.8 868.2,133.9 890.8,132.1 913.4,129.9 936.0,128.3 958.6,126.6" fill="none" stroke="#2a2a2a" stroke-width="0.65"/>
<circle cx="619.6" cy="165.7" r="1.35" fill="#000"/>
<circle cx="642.2" cy="158.1" r="1.35" fill="#000"/>
<circle cx="664.8" cy="155.0" r="1.35" fill="#000"/>
<circle cx="687.4" cy="152.5" r="1.35" fill="#000"/>
<circle cx="710.0" cy="149.6" r="1.35" fill="#000"/>
<circle cx="732.6" cy="148.8" r="1.35" fill="#000"/>
<circle cx="755.2" cy="147.1" r="1.35" fill="#000"/>
<circle cx="777.8" cy="142.3" r="1.35" fill="#000"/>
<circle cx="800.4" cy="139.4" r="1.35" fill="#000"/>
<circle cx="823.0" cy="137.1" r="1.35" fill="#000"/>
<circle cx="845.6" cy="135.8" r="1.35" fill="#000"/>
<circle cx="868.2" cy="133.9" r="1.35" fill="#000"/>
<circle cx="890.8" cy="132.1" r="1.35" fill="#000"/>
<circle cx="913.4" cy="129.9" r="1.35" fill="#000"/>
<circle cx="936.0" cy="128.3" r="1.35" fill="#000"/>
<circle cx="958.6" cy="126.6" r="1.35" fill="#000"/>
</g>
<rect x="619.6" y="79.9" width="339.0" height="99.3" fill="none" stroke="#646464" stroke-width="1.4"/>
<line x1="617.4" x2="619.6" y1="89.3" y2="89.3" stroke="#646464" stroke-width="0.8"/>
<text x="611.5" y="91.9" font-size="7.3" fill="#3a3a3a" textLength="4.4" lengthAdjust="spacingAndGlyphs" letter-spacing="0.4" word-spacing="2.04" stroke="#3a3a3a" stroke-width="0.18" >5</text>
<line x1="617.4" x2="619.6" y1="105.2" y2="105.2" stroke="#646464" stroke-width="0.8"/>
<text x="611.5" y="107.8" font-size="7.3" fill="#3a3a3a" textLength="4.4" lengthAdjust="spacingAndGlyphs" letter-spacing="0.4" word-spacing="2.04" stroke="#3a3a3a" stroke-width="0.18" >4</text>
<line x1="617.4" x2="619.6" y1="121.1" y2="121.1" stroke="#646464" stroke-width="0.8"/>
<text x="611.5" y="123.7" font-size="7.3" fill="#3a3a3a" textLength="4.4" lengthAdjust="spacingAndGlyphs" letter-spacing="0.4" word-spacing="2.04" stroke="#3a3a3a" stroke-width="0.18" >3</text>
<line x1="617.4" x2="619.6" y1="137.1" y2="137.1" stroke="#646464" stroke-width="0.8"/>
<text x="611.5" y="139.7" font-size="7.3" fill="#3a3a3a" textLength="4.4" lengthAdjust="spacingAndGlyphs" letter-spacing="0.4" word-spacing="2.04" stroke="#3a3a3a" stroke-width="0.18" >2</text>
<line x1="617.4" x2="619.6" y1="153.0" y2="153.0" stroke="#646464" stroke-width="0.8"/>
<text x="611.5" y="155.6" font-size="7.3" fill="#3a3a3a" textLength="4.4" lengthAdjust="spacingAndGlyphs" letter-spacing="0.4" word-spacing="2.04" stroke="#3a3a3a" stroke-width="0.18" >1</text>
<line x1="617.4" x2="619.6" y1="168.9" y2="168.9" stroke="#646464" stroke-width="0.8"/>
<text x="611.5" y="171.5" font-size="7.3" fill="#3a3a3a" textLength="4.4" lengthAdjust="spacingAndGlyphs" letter-spacing="0.4" word-spacing="2.04" stroke="#3a3a3a" stroke-width="0.18" >0</text>
<line x1="619.6" x2="619.6" y1="179.2" y2="181.0" stroke="#646464" stroke-width="0.8"/>
<text x="609.9" y="186.2" font-size="5.6" fill="#333" textLength="19.5" lengthAdjust="spacingAndGlyphs" letter-spacing="0.3" word-spacing="1.57" stroke="#333" stroke-width="0.1">23MAR</text>
<line x1="664.8" x2="664.8" y1="179.2" y2="181.0" stroke="#646464" stroke-width="0.8"/>
<text x="655.1" y="186.2" font-size="5.6" fill="#333" textLength="19.5" lengthAdjust="spacingAndGlyphs" letter-spacing="0.3" word-spacing="1.57" stroke="#333" stroke-width="0.1">25MAR</text>
<line x1="710.0" x2="710.0" y1="179.2" y2="181.0" stroke="#646464" stroke-width="0.8"/>
<text x="700.2" y="186.2" font-size="5.6" fill="#333" textLength="19.5" lengthAdjust="spacingAndGlyphs" letter-spacing="0.3" word-spacing="1.57" stroke="#333" stroke-width="0.1">27MAR</text>
<line x1="755.2" x2="755.2" y1="179.2" y2="181.0" stroke="#646464" stroke-width="0.8"/>
<text x="745.5" y="186.2" font-size="5.6" fill="#333" textLength="19.5" lengthAdjust="spacingAndGlyphs" letter-spacing="0.3" word-spacing="1.57" stroke="#333" stroke-width="0.1">29MAR</text>
<line x1="823.0" x2="823.0" y1="179.2" y2="181.0" stroke="#646464" stroke-width="0.8"/>
<text x="815.4" y="186.2" font-size="5.6" fill="#333" textLength="15.2" lengthAdjust="spacingAndGlyphs" letter-spacing="0.3" word-spacing="1.57" stroke="#333" stroke-width="0.1">1APR</text>
<line x1="868.2" x2="868.2" y1="179.2" y2="181.0" stroke="#646464" stroke-width="0.8"/>
<text x="860.6" y="186.2" font-size="5.6" fill="#333" textLength="15.2" lengthAdjust="spacingAndGlyphs" letter-spacing="0.3" word-spacing="1.57" stroke="#333" stroke-width="0.1">3APR</text>
<line x1="913.4" x2="913.4" y1="179.2" y2="181.0" stroke="#646464" stroke-width="0.8"/>
<text x="905.8" y="186.2" font-size="5.6" fill="#333" textLength="15.2" lengthAdjust="spacingAndGlyphs" letter-spacing="0.3" word-spacing="1.57" stroke="#333" stroke-width="0.1">5APR</text>
<line x1="958.6" x2="958.6" y1="179.2" y2="181.0" stroke="#646464" stroke-width="0.8"/>
<text x="951.0" y="186.2" font-size="5.6" fill="#333" textLength="15.2" lengthAdjust="spacingAndGlyphs" letter-spacing="0.3" word-spacing="1.57" stroke="#333" stroke-width="0.1">7APR</text>
<text x="612.6" y="191.5" font-size="5.6" fill="#333" textLength="14.0" lengthAdjust="spacingAndGlyphs" letter-spacing="0.3" word-spacing="1.57" stroke="#333" stroke-width="0.1">2025</text>
<rect x="621.7" y="81.2" width="335.8" height="17.5" fill="#fff"/>
<text x="626.7" y="87.7" font-size="5.6" fill="#3a3a3a" textLength="190.0" lengthAdjust="spacingAndGlyphs" letter-spacing="0.45" word-spacing="1.57" stroke="#3a3a3a" stroke-width="0.18" >National Weather Service Global Forecast System</text>
<line x1="629.3" x2="654.7" y1="93.5" y2="93.5" stroke="#b4b4b4" stroke-width="0.7"/>
<rect x="628.4" y="92.6" width="1.8" height="1.8" fill="#a3a3a3"/>
<rect x="653.8" y="92.6" width="1.8" height="1.8" fill="#a3a3a3"/>
<text x="661.3" y="95.7" font-size="5.6" fill="#3a3a3a" textLength="73.0" lengthAdjust="spacingAndGlyphs" letter-spacing="0.45" word-spacing="1.57" stroke="#3a3a3a" stroke-width="0.18" >Ensemble Members</text>
<line x1="757.6" x2="783.4" y1="92.3" y2="92.3" stroke="#e6b368" stroke-width="2"/>
<line x1="757.6" x2="783.4" y1="94.6" y2="94.6" stroke="#90e248" stroke-width="1.7"/>
<line x1="757.6" x2="783.4" y1="93.6" y2="93.6" stroke="#111" stroke-width="0.6"/>
<circle cx="757.6" cy="93.5" r="1.3" fill="#000"/>
<circle cx="783.4" cy="93.5" r="1.3" fill="#000"/>
<text x="789.3" y="95.7" font-size="5.6" fill="#3a3a3a" textLength="68.5" lengthAdjust="spacingAndGlyphs" letter-spacing="0.45" word-spacing="1.57" stroke="#3a3a3a" stroke-width="0.18" >Ensemble Average</text>
<line x1="885.2" x2="910.7" y1="93.5" y2="93.5" stroke="#4d5eee" stroke-width="1.6"/>
<text x="917.2" y="95.7" font-size="5.6" fill="#3a3a3a" textLength="26.2" lengthAdjust="spacingAndGlyphs" letter-spacing="0.45" word-spacing="1.57" stroke="#3a3a3a" stroke-width="0.18" >Normal</text>
<rect x="626.1" y="99.7" width="175.3" height="13.2" fill="#fff" stroke="#777" stroke-width="0.7"/>
<text x="635.9" y="106.2" font-size="5.4" fill="#3a3a3a" textLength="59.0" lengthAdjust="spacingAndGlyphs" letter-spacing="0.43" word-spacing="1.51" stroke="#3a3a3a" stroke-width="0.18" >Percent of Crop:</text>
<text x="630.0" y="111.2" font-size="5.4" fill="#3a3a3a" textLength="64.8" lengthAdjust="spacingAndGlyphs" letter-spacing="0.43" word-spacing="1.51" stroke="#3a3a3a" stroke-width="0.18" >Receives at Least:</text>
<text x="705.9" y="106.2" font-size="5.4" fill="#3a3a3a" textLength="8.7" lengthAdjust="spacingAndGlyphs" letter-spacing="0.43" word-spacing="1.51" stroke="#3a3a3a" stroke-width="0.18" >90</text>
<text x="702.9" y="111.2" font-size="5.4" fill="#3a3a3a" textLength="23.0" lengthAdjust="spacingAndGlyphs" letter-spacing="0.43" word-spacing="1.51" stroke="#3a3a3a" stroke-width="0.18" >2.0 in.</text>
<text x="740.6" y="106.2" font-size="5.4" fill="#3a3a3a" textLength="8.7" lengthAdjust="spacingAndGlyphs" letter-spacing="0.43" word-spacing="1.51" stroke="#3a3a3a" stroke-width="0.18" >50</text>
<text x="737.6" y="111.2" font-size="5.4" fill="#3a3a3a" textLength="23.0" lengthAdjust="spacingAndGlyphs" letter-spacing="0.43" word-spacing="1.51" stroke="#3a3a3a" stroke-width="0.18" >2.6 in.</text>
<text x="775.7" y="106.2" font-size="5.4" fill="#3a3a3a" textLength="8.7" lengthAdjust="spacingAndGlyphs" letter-spacing="0.43" word-spacing="1.51" stroke="#3a3a3a" stroke-width="0.18" >10</text>
<text x="772.7" y="111.2" font-size="5.4" fill="#3a3a3a" textLength="23.0" lengthAdjust="spacingAndGlyphs" letter-spacing="0.43" word-spacing="1.51" stroke="#3a3a3a" stroke-width="0.18" >3.3 in.</text>
<text transform="translate(599.8,127) rotate(-90)" text-anchor="middle" font-size="6.8" fill="#3a3a3a" stroke="#3a3a3a" stroke-width="0.3" letter-spacing="-0.1">inches</text>
<clipPath id="b3"><rect x="618.9" y="194.0" width="340.5" height="51.5"/></clipPath>
<line x1="619.6" x2="958.6" y1="219.8" y2="219.8" stroke="#d2d2d2" stroke-width="0.6" stroke-dasharray="1 2.2"/>
<rect x="619.6" y="194.0" width="339.0" height="51.5" fill="none" stroke="#646464" stroke-width="1.4"/>
<g clip-path="url(#b3)" fill="#92ea48">
<rect x="611.6" y="218.8" width="16.0" height="26.7"/>
<rect x="634.2" y="205.1" width="16.0" height="40.4"/>
<rect x="656.8" y="224.2" width="16.0" height="21.3"/>
<rect x="679.4" y="229.1" width="16.0" height="16.4"/>
<rect x="702.0" y="229.1" width="16.0" height="16.4"/>
<rect x="724.6" y="242.2" width="16.0" height="3.3"/>
<rect x="747.2" y="231.7" width="16.0" height="13.8"/>
<rect x="769.8" y="213.2" width="16.0" height="32.3"/>
<rect x="792.4" y="229.7" width="16.0" height="15.8"/>
<rect x="815.0" y="232.0" width="16.0" height="13.5"/>
<rect x="837.6" y="236.4" width="16.0" height="9.1"/>
<rect x="860.2" y="231.6" width="16.0" height="13.9"/>
<rect x="882.8" y="236.8" width="16.0" height="8.7"/>
<rect x="905.4" y="230.5" width="16.0" height="15.0"/>
<rect x="928.0" y="236.4" width="16.0" height="9.1"/>
<rect x="950.6" y="234.2" width="16.0" height="11.3"/>
</g>
<line x1="618.9" x2="959.3" y1="245.5" y2="245.5" stroke="#646464" stroke-width="1.4"/>
<line x1="617.4" x2="619.6" y1="194.0" y2="194.0" stroke="#646464" stroke-width="0.8"/>
<text x="605.7" y="196.6" font-size="7.3" fill="#3a3a3a" textLength="10.2" lengthAdjust="spacingAndGlyphs" letter-spacing="0.4" word-spacing="2.04" stroke="#3a3a3a" stroke-width="0.18" >0.5</text>
<line x1="617.4" x2="619.6" y1="219.8" y2="219.8" stroke="#646464" stroke-width="0.8"/>
<text x="599.7" y="222.3" font-size="7.3" fill="#3a3a3a" textLength="16.2" lengthAdjust="spacingAndGlyphs" letter-spacing="0.4" word-spacing="2.04" stroke="#3a3a3a" stroke-width="0.18" >0.25</text>
<line x1="617.4" x2="619.6" y1="245.5" y2="245.5" stroke="#646464" stroke-width="0.8"/>
<text x="611.5" y="248.1" font-size="7.3" fill="#3a3a3a" textLength="4.4" lengthAdjust="spacingAndGlyphs" letter-spacing="0.4" word-spacing="2.04" stroke="#3a3a3a" stroke-width="0.18" >0</text>
<text x="626.8" y="200.1" font-size="5.6" fill="#3a3a3a" textLength="142.0" lengthAdjust="spacingAndGlyphs" letter-spacing="0.45" word-spacing="1.57" stroke="#3a3a3a" stroke-width="0.18" >Ensemble Average Daily Precipitation</text>
<text x="875.4" y="200.4" font-size="5.6" fill="#3a3a3a" textLength="76.0" lengthAdjust="spacingAndGlyphs" letter-spacing="0.45" word-spacing="1.57" stroke="#3a3a3a" stroke-width="0.18" >© World Ag Weather</text>
<line x1="619.6" x2="619.6" y1="245.5" y2="247.3" stroke="#646464" stroke-width="0.8"/>
<text x="609.9" y="251.8" font-size="5.6" fill="#333" textLength="19.5" lengthAdjust="spacingAndGlyphs" letter-spacing="0.3" word-spacing="1.57" stroke="#333" stroke-width="0.1">23MAR</text>
<line x1="664.8" x2="664.8" y1="245.5" y2="247.3" stroke="#646464" stroke-width="0.8"/>
<text x="655.1" y="251.8" font-size="5.6" fill="#333" textLength="19.5" lengthAdjust="spacingAndGlyphs" letter-spacing="0.3" word-spacing="1.57" stroke="#333" stroke-width="0.1">25MAR</text>
<line x1="710.0" x2="710.0" y1="245.5" y2="247.3" stroke="#646464" stroke-width="0.8"/>
<text x="700.2" y="251.8" font-size="5.6" fill="#333" textLength="19.5" lengthAdjust="spacingAndGlyphs" letter-spacing="0.3" word-spacing="1.57" stroke="#333" stroke-width="0.1">27MAR</text>
<line x1="755.2" x2="755.2" y1="245.5" y2="247.3" stroke="#646464" stroke-width="0.8"/>
<text x="745.5" y="251.8" font-size="5.6" fill="#333" textLength="19.5" lengthAdjust="spacingAndGlyphs" letter-spacing="0.3" word-spacing="1.57" stroke="#333" stroke-width="0.1">29MAR</text>
<line x1="823.0" x2="823.0" y1="245.5" y2="247.3" stroke="#646464" stroke-width="0.8"/>
<text x="815.4" y="251.8" font-size="5.6" fill="#333" textLength="15.2" lengthAdjust="spacingAndGlyphs" letter-spacing="0.3" word-spacing="1.57" stroke="#333" stroke-width="0.1">1APR</text>
<line x1="868.2" x2="868.2" y1="245.5" y2="247.3" stroke="#646464" stroke-width="0.8"/>
<text x="860.6" y="251.8" font-size="5.6" fill="#333" textLength="15.2" lengthAdjust="spacingAndGlyphs" letter-spacing="0.3" word-spacing="1.57" stroke="#333" stroke-width="0.1">3APR</text>
<line x1="913.4" x2="913.4" y1="245.5" y2="247.3" stroke="#646464" stroke-width="0.8"/>
<text x="905.8" y="251.8" font-size="5.6" fill="#333" textLength="15.2" lengthAdjust="spacingAndGlyphs" letter-spacing="0.3" word-spacing="1.57" stroke="#333" stroke-width="0.1">5APR</text>
<line x1="958.6" x2="958.6" y1="245.5" y2="247.3" stroke="#646464" stroke-width="0.8"/>
<text x="951.0" y="251.8" font-size="5.6" fill="#333" textLength="15.2" lengthAdjust="spacingAndGlyphs" letter-spacing="0.3" word-spacing="1.57" stroke="#333" stroke-width="0.1">7APR</text>
<text x="612.6" y="257.1" font-size="5.6" fill="#333" textLength="14.0" lengthAdjust="spacingAndGlyphs" letter-spacing="0.3" word-spacing="1.57" stroke="#333" stroke-width="0.1">2025</text>
<text transform="translate(599.8,219.6) rotate(-90)" text-anchor="middle" font-size="6.8" fill="#3a3a3a" stroke="#3a3a3a" stroke-width="0.3" letter-spacing="-0.1">inches</text>
<text x="696.2" y="306.8" font-size="8.8" fill="#3a3a3a" textLength="173.4" lengthAdjust="spacingAndGlyphs" letter-spacing="0.7" word-spacing="2.46" stroke="#3a3a3a" stroke-width="0.18" >Brazil Soybeans Precipitation</text>
<text x="652.8" y="318.0" font-size="7.3" fill="#3a3a3a" textLength="260.1" lengthAdjust="spacingAndGlyphs" letter-spacing="0.58" word-spacing="2.04" stroke="#3a3a3a" stroke-width="0.18" >Forecast Precipitation Compared to Normal (inches)</text>
<text x="697.5" y="327.1" font-size="7.3" fill="#3a3a3a" textLength="170.8" lengthAdjust="spacingAndGlyphs" letter-spacing="0.58" word-spacing="2.04" stroke="#3a3a3a" stroke-width="0.18" >Production–Weighted Area Average</text>
<text x="668.1" y="336.8" font-size="8.0" fill="#3a3a3a" textLength="229.6" lengthAdjust="spacingAndGlyphs" letter-spacing="0.64" word-spacing="2.24" stroke="#3a3a3a" stroke-width="0.18" >15–Day Forecast Beginning 23 March 2025</text>
<clipPath id="c4"><rect x="621.6" y="343.6" width="336.7" height="101.3"/></clipPath>
<line x1="621.6" x2="958.3" y1="349.4" y2="349.4" stroke="#d2d2d2" stroke-width="0.6" stroke-dasharray="1 2.2"/>
<line x1="621.6" x2="958.3" y1="371.4" y2="371.4" stroke="#d2d2d2" stroke-width="0.6" stroke-dasharray="1 2.2"/>
<line x1="621.6" x2="958.3" y1="393.3" y2="393.3" stroke="#d2d2d2" stroke-width="0.6" stroke-dasharray="1 2.2"/>
<line x1="621.6" x2="958.3" y1="415.2" y2="415.2" stroke="#d2d2d2" stroke-width="0.6" stroke-dasharray="1 2.2"/>
<line x1="621.6" x2="958.3" y1="437.2" y2="437.2" stroke="#d2d2d2" stroke-width="0.6" stroke-dasharray="1 2.2"/>
<g clip-path="url(#c4)">
<g fill="none" stroke="#b4b4b4" stroke-width="0.5">
<polyline points="621.6,435.0 644.0,431.9 666.5,430.1 688.9,422.4 711.4,415.3 733.8,412.0 756.3,410.7 778.7,408.6 801.2,400.8 823.6,398.4 846.1,393.6 868.5,390.0 891.0,387.2 913.4,384.9 935.9,380.6 958.3,377.9"/>
<polyline points="621.6,435.0 644.0,430.4 666.5,424.1 688.9,419.7 711.4,414.4 733.8,412.8 756.3,412.1 778.7,409.4 801.2,405.5 823.6,402.3 846.1,398.2 868.5,395.8 891.0,393.7 913.4,392.9 935.9,389.3 958.3,387.7"/>
<polyline points="621.6,435.0 644.0,432.6 666.5,425.7 688.9,420.0 711.4,419.3 733.8,416.4 756.3,413.0 778.7,410.2 801.2,406.5 823.6,403.5 846.1,402.7 868.5,397.0 891.0,395.1 913.4,393.7 935.9,393.1 958.3,389.3"/>
<polyline points="621.6,435.0 644.0,432.4 666.5,429.3 688.9,426.5 711.4,418.2 733.8,415.9 756.3,415.3 778.7,412.6 801.2,403.5 823.6,402.6 846.1,400.5 868.5,398.5 891.0,397.1 913.4,390.9 935.9,386.8 958.3,383.9"/>
<polyline points="621.6,435.0 644.0,430.4 666.5,427.2 688.9,420.9 711.4,412.7 733.8,408.3 756.3,406.6 778.7,401.0 801.2,399.8 823.6,395.0 846.1,389.6 868.5,383.6 891.0,377.3 913.4,373.9 935.9,371.2 958.3,368.7"/>
<polyline points="621.6,435.0 644.0,430.4 666.5,424.1 688.9,420.7 711.4,412.7 733.8,412.2 756.3,408.5 778.7,399.5 801.2,396.5 823.6,394.6 846.1,390.9 868.5,388.2 891.0,385.0 913.4,383.4 935.9,382.1 958.3,378.7"/>
<polyline points="621.6,435.0 644.0,432.9 666.5,430.3 688.9,427.4 711.4,425.6 733.8,423.9 756.3,421.4 778.7,419.4 801.2,416.8 823.6,415.1 846.1,411.2 868.5,409.2 891.0,405.9 913.4,403.5 935.9,403.0 958.3,401.0"/>
<polyline points="621.6,435.0 644.0,431.8 666.5,428.9 688.9,426.4 711.4,423.7 733.8,418.3 756.3,415.6 778.7,411.7 801.2,405.8 823.6,404.5 846.1,400.7 868.5,397.3 891.0,395.6 913.4,393.8 935.9,389.8 958.3,388.2"/>
<polyline points="621.6,435.0 644.0,432.2 666.5,427.4 688.9,424.1 711.4,422.1 733.8,418.0 756.3,416.3 778.7,412.0 801.2,410.9 823.6,407.1 846.1,406.1 868.5,404.6 891.0,399.2 913.4,398.2 935.9,397.0 958.3,395.9"/>
<polyline points="621.6,435.0 644.0,430.7 666.5,426.2 688.9,422.2 711.4,420.8 733.8,418.2 756.3,413.8 778.7,407.6 801.2,397.5 823.6,392.8 846.1,387.1 868.5,383.5 891.0,377.3 913.4,376.4 935.9,374.4 958.3,372.0"/>
<polyline points="621.6,435.0 644.0,432.2 666.5,429.1 688.9,420.4 711.4,417.1 733.8,413.0 756.3,411.2 778.7,399.8 801.2,395.6 823.6,389.4 846.1,387.8 868.5,382.5 891.0,378.1 913.4,373.9 935.9,371.2 958.3,368.8"/>
<polyline points="621.6,435.0 644.0,431.3 666.5,425.5 688.9,418.5 711.4,412.7 733.8,408.7 756.3,407.8 778.7,403.8 801.2,399.0 823.6,397.0 846.1,391.3 868.5,386.8 891.0,383.9 913.4,378.5 935.9,376.5 958.3,374.5"/>
<polyline points="621.6,435.0 644.0,432.1 666.5,428.1 688.9,424.4 711.4,417.6 733.8,415.5 756.3,411.0 778.7,407.6 801.2,407.0 823.6,401.2 846.1,397.4 868.5,395.3 891.0,393.6 913.4,393.1 935.9,391.8 958.3,390.7"/>
<polyline points="621.6,435.0 644.0,433.2 666.5,431.4 688.9,429.3 711.4,425.0 733.8,422.7 756.3,421.3 778.7,419.5 801.2,418.4 823.6,416.6 846.1,413.5 868.5,412.8 891.0,411.8 913.4,411.4 935.9,410.7 958.3,410.2"/>
<polyline points="621.6,435.0 644.0,432.2 666.5,430.2 688.9,424.2 711.4,419.6 733.8,418.7 756.3,417.8 778.7,414.4 801.2,412.0 823.6,406.1 846.1,405.5 868.5,404.2 891.0,401.7 913.4,399.2 935.9,398.0 958.3,396.5"/>
<polyline points="621.6,435.0 644.0,430.9 666.5,427.3 688.9,419.5 711.4,413.5 733.8,410.2 756.3,407.2 778.7,402.7 801.2,398.4 823.6,389.4 846.1,385.5 868.5,382.6 891.0,380.5 913.4,376.3 935.9,373.7 958.3,372.1"/>
<polyline points="621.6,435.0 644.0,431.7 666.5,427.3 688.9,423.7 711.4,419.0 733.8,416.6 756.3,413.7 778.7,409.9 801.2,401.1 823.6,395.6 846.1,394.8 868.5,391.0 891.0,389.2 913.4,386.8 935.9,385.7 958.3,383.9"/>
<polyline points="621.6,435.0 644.0,429.7 666.5,426.5 688.9,419.3 711.4,417.8 733.8,416.6 756.3,410.6 778.7,401.2 801.2,396.8 823.6,395.4 846.1,390.7 868.5,387.4 891.0,383.0 913.4,380.6 935.9,379.8 958.3,377.8"/>
<polyline points="621.6,435.0 644.0,432.5 666.5,430.8 688.9,428.3 711.4,424.0 733.8,421.9 756.3,417.9 778.7,413.9 801.2,409.3 823.6,406.1 846.1,402.9 868.5,399.7 891.0,395.6 913.4,393.5 935.9,392.2 958.3,390.5"/>
<polyline points="621.6,435.0 644.0,431.6 666.5,428.1 688.9,422.2 711.4,412.7 733.8,409.9 756.3,408.4 778.7,407.9 801.2,407.6 823.6,402.9 846.1,400.6 868.5,397.7 891.0,394.7 913.4,392.7 935.9,388.9 958.3,386.6"/>
<polyline points="621.6,435.0 644.0,430.7 666.5,426.6 688.9,422.2 711.4,418.3 733.8,415.3 756.3,414.7 778.7,412.9 801.2,405.9 823.6,400.4 846.1,397.4 868.5,396.1 891.0,389.2 913.4,383.6 935.9,381.6 958.3,375.2"/>
<polyline points="621.6,435.0 644.0,431.5 666.5,428.7 688.9,427.1 711.4,421.8 733.8,420.0 756.3,417.6 778.7,414.6 801.2,411.4 823.6,409.9 846.1,409.5 868.5,404.5 891.0,400.2 913.4,399.1 935.9,397.9 958.3,395.1"/>
<polyline points="621.6,435.0 644.0,430.0 666.5,424.1 688.9,419.7 711.4,412.7 733.8,408.3 756.3,404.8 778.7,399.5 801.2,394.2 823.6,393.5 846.1,392.5 868.5,385.0 891.0,381.0 913.4,378.2 935.9,374.9 958.3,370.9"/>
<polyline points="621.6,435.0 644.0,431.3 666.5,430.2 688.9,427.0 711.4,422.4 733.8,418.5 756.3,417.0 778.7,411.6 801.2,408.6 823.6,406.6 846.1,404.2 868.5,398.1 891.0,392.3 913.4,388.8 935.9,386.0 958.3,381.3"/>
<polyline points="621.6,435.0 644.0,432.1 666.5,425.8 688.9,418.9 711.4,413.9 733.8,409.6 756.3,409.3 778.7,404.7 801.2,402.0 823.6,395.5 846.1,392.8 868.5,388.7 891.0,387.2 913.4,384.4 935.9,383.0 958.3,380.5"/>
<polyline points="621.6,435.0 644.0,431.5 666.5,425.8 688.9,422.9 711.4,417.8 733.8,415.1 756.3,413.8 778.7,407.8 801.2,405.9 823.6,403.2 846.1,401.4 868.5,398.5 891.0,397.3 913.4,395.3 935.9,391.2 958.3,389.3"/>
<polyline points="621.6,435.0 644.0,431.5 666.5,429.0 688.9,424.7 711.4,416.4 733.8,413.5 756.3,411.7 778.7,407.6 801.2,405.9 823.6,404.4 846.1,403.0 868.5,399.6 891.0,398.4 913.4,395.4 935.9,394.3 958.3,391.1"/>
<polyline points="621.6,435.0 644.0,432.5 666.5,428.5 688.9,426.6 711.4,421.6 733.8,419.6 756.3,418.1 778.7,415.7 801.2,412.8 823.6,408.2 846.1,406.3 868.5,405.4 891.0,404.5 913.4,402.5 935.9,402.1 958.3,399.3"/>
</g>
<g fill-opacity="0.72">
<polygon points="621.6,435.0 644.0,431.7 666.5,428.1 688.9,424.0 711.4,419.9 733.8,416.7 756.3,414.2 778.7,410.3 801.2,406.5 823.6,403.0 846.1,399.9 868.5,396.9 891.0,394.2 913.4,391.8 935.9,389.8 958.3,387.3 958.3,402.2 935.9,404.4 913.4,406.6 891.0,408.8 868.5,410.9 846.1,413.1 823.6,415.3 801.2,417.5 778.7,419.7 756.3,421.9 733.8,424.1 711.4,426.3 688.9,428.4 666.5,430.6 644.0,432.8 621.6,435.0" fill="#65d701"/>
</g>
<g fill="#a3a3a3">
<rect x="643.0" y="430.8" width="2.1" height="2.1"/>
<rect x="665.4" y="429.1" width="2.1" height="2.1"/>
<rect x="687.9" y="421.3" width="2.1" height="2.1"/>
<rect x="710.3" y="414.3" width="2.1" height="2.1"/>
<rect x="732.8" y="410.9" width="2.1" height="2.1"/>
<rect x="755.2" y="409.7" width="2.1" height="2.1"/>
<rect x="777.7" y="407.5" width="2.1" height="2.1"/>
<rect x="800.1" y="399.8" width="2.1" height="2.1"/>
<rect x="822.6" y="397.3" width="2.1" height="2.1"/>
<rect x="845.0" y="392.5" width="2.1" height="2.1"/>
<rect x="867.5" y="388.9" width="2.1" height="2.1"/>
<rect x="889.9" y="386.2" width="2.1" height="2.1"/>
<rect x="912.4" y="383.9" width="2.1" height="2.1"/>
<rect x="934.8" y="379.6" width="2.1" height="2.1"/>
<rect x="957.2" y="376.8" width="2.1" height="2.1"/>
<rect x="643.0" y="429.4" width="2.1" height="2.1"/>
<rect x="665.4" y="423.0" width="2.1" height="2.1"/>
<rect x="687.9" y="418.7" width="2.1" height="2.1"/>
<rect x="710.3" y="413.4" width="2.1" height="2.1"/>
<rect x="732.8" y="411.7" width="2.1" height="2.1"/>
<rect x="755.2" y="411.0" width="2.1" height="2.1"/>
<rect x="777.7" y="408.4" width="2.1" height="2.1"/>
<rect x="800.1" y="404.5" width="2.1" height="2.1"/>
<rect x="822.6" y="401.3" width="2.1" height="2.1"/>
<rect x="845.0" y="397.1" width="2.1" height="2.1"/>
<rect x="867.5" y="394.7" width="2.1" height="2.1"/>
<rect x="889.9" y="392.6" width="2.1" height="2.1"/>
<rect x="912.4" y="391.9" width="2.1" height="2.1"/>
<rect x="934.8" y="388.3" width="2.1" height="2.1"/>
<rect x="957.2" y="386.7" width="2.1" height="2.1"/>
<rect x="643.0" y="431.5" width="2.1" height="2.1"/>
<rect x="665.4" y="424.6" width="2.1" height="2.1"/>
<rect x="687.9" y="419.0" width="2.1" height="2.1"/>
<rect x="710.3" y="418.2" width="2.1" height="2.1"/>
<rect x="732.8" y="415.3" width="2.1" height="2.1"/>
<rect x="755.2" y="412.0" width="2.1" height="2.1"/>
<rect x="777.7" y="409.2" width="2.1" height="2.1"/>
<rect x="800.1" y="405.5" width="2.1" height="2.1"/>
<rect x="822.6" y="402.5" width="2.1" height="2.1"/>
<rect x="845.0" y="401.6" width="2.1" height="2.1"/>
<rect x="867.5" y="396.0" width="2.1" height="2.1"/>
<rect x="889.9" y="394.0" width="2.1" height="2.1"/>
<rect x="912.4" y="392.6" width="2.1" height="2.1"/>
<rect x="934.8" y="392.0" width="2.1" height="2.1"/>
<rect x="957.2" y="388.3" width="2.1" height="2.1"/>
<rect x="643.0" y="431.3" width="2.1" height="2.1"/>
<rect x="665.4" y="428.2" width="2.1" height="2.1"/>
<rect x="687.9" y="425.5" width="2.1" height="2.1"/>
<rect x="710.3" y="417.1" width="2.1" height="2.1"/>
<rect x="732.8" y="414.9" width="2.1" height="2.1"/>
<rect x="755.2" y="414.2" width="2.1" height="2.1"/>
<rect x="777.7" y="411.5" width="2.1" height="2.1"/>
<rect x="800.1" y="402.5" width="2.1" height="2.1"/>
<rect x="822.6" y="401.6" width="2.1" height="2.1"/>
<rect x="845.0" y="399.5" width="2.1" height="2.1"/>
<rect x="867.5" y="397.5" width="2.1" height="2.1"/>
<rect x="889.9" y="396.0" width="2.1" height="2.1"/>
<rect x="912.4" y="389.9" width="2.1" height="2.1"/>
<rect x="934.8" y="385.8" width="2.1" height="2.1"/>
<rect x="957.2" y="382.9" width="2.1" height="2.1"/>
<rect x="643.0" y="429.4" width="2.1" height="2.1"/>
<rect x="665.4" y="426.2" width="2.1" height="2.1"/>
<rect x="687.9" y="419.9" width="2.1" height="2.1"/>
<rect x="710.3" y="411.7" width="2.1" height="2.1"/>
<rect x="732.8" y="407.3" width="2.1" height="2.1"/>
<rect x="755.2" y="405.6" width="2.1" height="2.1"/>
<rect x="777.7" y="399.9" width="2.1" height="2.1"/>
<rect x="800.1" y="398.7" width="2.1" height="2.1"/>
<rect x="822.6" y="393.9" width="2.1" height="2.1"/>
<rect x="845.0" y="388.6" width="2.1" height="2.1"/>
<rect x="867.5" y="382.5" width="2.1" height="2.1"/>
<rect x="889.9" y="376.2" width="2.1" height="2.1"/>
<rect x="912.4" y="372.9" width="2.1" height="2.1"/>
<rect x="934.8" y="370.2" width="2.1" height="2.1"/>
<rect x="957.2" y="367.6" width="2.1" height="2.1"/>
<rect x="643.0" y="429.3" width="2.1" height="2.1"/>
<rect x="665.4" y="423.0" width="2.1" height="2.1"/>
<rect x="687.9" y="419.7" width="2.1" height="2.1"/>
<rect x="710.3" y="411.7" width="2.1" height="2.1"/>
<rect x="732.8" y="411.1" width="2.1" height="2.1"/>
<rect x="755.2" y="407.4" width="2.1" height="2.1"/>
<rect x="777.7" y="398.5" width="2.1" height="2.1"/>
<rect x="800.1" y="395.5" width="2.1" height="2.1"/>
<rect x="822.6" y="393.6" width="2.1" height="2.1"/>
<rect x="845.0" y="389.9" width="2.1" height="2.1"/>
<rect x="867.5" y="387.2" width="2.1" height="2.1"/>
<rect x="889.9" y="384.0" width="2.1" height="2.1"/>
<rect x="912.4" y="382.4" width="2.1" height="2.1"/>
<rect x="934.8" y="381.0" width="2.1" height="2.1"/>
<rect x="957.2" y="377.7" width="2.1" height="2.1"/>
<rect x="643.0" y="431.8" width="2.1" height="2.1"/>
<rect x="665.4" y="429.3" width="2.1" height="2.1"/>
<rect x="687.9" y="426.4" width="2.1" height="2.1"/>
<rect x="710.3" y="424.6" width="2.1" height="2.1"/>
<rect x="732.8" y="422.8" width="2.1" height="2.1"/>
<rect x="755.2" y="420.3" width="2.1" height="2.1"/>
<rect x="777.7" y="418.4" width="2.1" height="2.1"/>
<rect x="800.1" y="415.8" width="2.1" height="2.1"/>
<rect x="822.6" y="414.0" width="2.1" height="2.1"/>
<rect x="845.0" y="410.1" width="2.1" height="2.1"/>
<rect x="867.5" y="408.2" width="2.1" height="2.1"/>
<rect x="889.9" y="404.8" width="2.1" height="2.1"/>
<rect x="912.4" y="402.5" width="2.1" height="2.1"/>
<rect x="934.8" y="402.0" width="2.1" height="2.1"/>
<rect x="957.2" y="399.9" width="2.1" height="2.1"/>
<rect x="643.0" y="430.8" width="2.1" height="2.1"/>
<rect x="665.4" y="427.8" width="2.1" height="2.1"/>
<rect x="687.9" y="425.4" width="2.1" height="2.1"/>
<rect x="710.3" y="422.6" width="2.1" height="2.1"/>
<rect x="732.8" y="417.3" width="2.1" height="2.1"/>
<rect x="755.2" y="414.6" width="2.1" height="2.1"/>
<rect x="777.7" y="410.6" width="2.1" height="2.1"/>
<rect x="800.1" y="404.8" width="2.1" height="2.1"/>
<rect x="822.6" y="403.5" width="2.1" height="2.1"/>
<rect x="845.0" y="399.6" width="2.1" height="2.1"/>
<rect x="867.5" y="396.3" width="2.1" height="2.1"/>
<rect x="889.9" y="394.6" width="2.1" height="2.1"/>
<rect x="912.4" y="392.7" width="2.1" height="2.1"/>
<rect x="934.8" y="388.8" width="2.1" height="2.1"/>
<rect x="957.2" y="387.2" width="2.1" height="2.1"/>
<rect x="643.0" y="431.1" width="2.1" height="2.1"/>
<rect x="665.4" y="426.3" width="2.1" height="2.1"/>
<rect x="687.9" y="423.0" width="2.1" height="2.1"/>
<rect x="710.3" y="421.1" width="2.1" height="2.1"/>
<rect x="732.8" y="417.0" width="2.1" height="2.1"/>
<rect x="755.2" y="415.2" width="2.1" height="2.1"/>
<rect x="777.7" y="410.9" width="2.1" height="2.1"/>
<rect x="800.1" y="409.8" width="2.1" height="2.1"/>
<rect x="822.6" y="406.1" width="2.1" height="2.1"/>
<rect x="845.0" y="405.1" width="2.1" height="2.1"/>
<rect x="867.5" y="403.6" width="2.1" height="2.1"/>
<rect x="889.9" y="398.2" width="2.1" height="2.1"/>
<rect x="912.4" y="397.2" width="2.1" height="2.1"/>
<rect x="934.8" y="396.0" width="2.1" height="2.1"/>
<rect x="957.2" y="394.9" width="2.1" height="2.1"/>
<rect x="643.0" y="429.6" width="2.1" height="2.1"/>
<rect x="665.4" y="425.2" width="2.1" height="2.1"/>
<rect x="687.9" y="421.2" width="2.1" height="2.1"/>
<rect x="710.3" y="419.7" width="2.1" height="2.1"/>
<rect x="732.8" y="417.2" width="2.1" height="2.1"/>
<rect x="755.2" y="412.7" width="2.1" height="2.1"/>
<rect x="777.7" y="406.6" width="2.1" height="2.1"/>
<rect x="800.1" y="396.4" width="2.1" height="2.1"/>
<rect x="822.6" y="391.7" width="2.1" height="2.1"/>
<rect x="845.0" y="386.1" width="2.1" height="2.1"/>
<rect x="867.5" y="382.5" width="2.1" height="2.1"/>
<rect x="889.9" y="376.2" width="2.1" height="2.1"/>
<rect x="912.4" y="375.3" width="2.1" height="2.1"/>
<rect x="934.8" y="373.4" width="2.1" height="2.1"/>
<rect x="957.2" y="370.9" width="2.1" height="2.1"/>
<rect x="643.0" y="431.2" width="2.1" height="2.1"/>
<rect x="665.4" y="428.1" width="2.1" height="2.1"/>
<rect x="687.9" y="419.4" width="2.1" height="2.1"/>
<rect x="710.3" y="416.1" width="2.1" height="2.1"/>
<rect x="732.8" y="411.9" width="2.1" height="2.1"/>
<rect x="755.2" y="410.2" width="2.1" height="2.1"/>
<rect x="777.7" y="398.7" width="2.1" height="2.1"/>
<rect x="800.1" y="394.6" width="2.1" height="2.1"/>
<rect x="822.6" y="388.3" width="2.1" height="2.1"/>
<rect x="845.0" y="386.7" width="2.1" height="2.1"/>
<rect x="867.5" y="381.5" width="2.1" height="2.1"/>
<rect x="889.9" y="377.0" width="2.1" height="2.1"/>
<rect x="912.4" y="372.9" width="2.1" height="2.1"/>
<rect x="934.8" y="370.2" width="2.1" height="2.1"/>
<rect x="957.2" y="367.8" width="2.1" height="2.1"/>
<rect x="643.0" y="430.3" width="2.1" height="2.1"/>
<rect x="665.4" y="424.5" width="2.1" height="2.1"/>
<rect x="687.9" y="417.4" width="2.1" height="2.1"/>
<rect x="710.3" y="411.7" width="2.1" height="2.1"/>
<rect x="732.8" y="407.6" width="2.1" height="2.1"/>
<rect x="755.2" y="406.7" width="2.1" height="2.1"/>
<rect x="777.7" y="402.7" width="2.1" height="2.1"/>
<rect x="800.1" y="397.9" width="2.1" height="2.1"/>
<rect x="822.6" y="396.0" width="2.1" height="2.1"/>
<rect x="845.0" y="390.3" width="2.1" height="2.1"/>
<rect x="867.5" y="385.8" width="2.1" height="2.1"/>
<rect x="889.9" y="382.9" width="2.1" height="2.1"/>
<rect x="912.4" y="377.5" width="2.1" height="2.1"/>
<rect x="934.8" y="375.5" width="2.1" height="2.1"/>
<rect x="957.2" y="373.4" width="2.1" height="2.1"/>
<rect x="643.0" y="431.0" width="2.1" height="2.1"/>
<rect x="665.4" y="427.0" width="2.1" height="2.1"/>
<rect x="687.9" y="423.4" width="2.1" height="2.1"/>
<rect x="710.3" y="416.6" width="2.1" height="2.1"/>
<rect x="732.8" y="414.4" width="2.1" height="2.1"/>
<rect x="755.2" y="409.9" width="2.1" height="2.1"/>
<rect x="777.7" y="406.5" width="2.1" height="2.1"/>
<rect x="800.1" y="405.9" width="2.1" height="2.1"/>
<rect x="822.6" y="400.2" width="2.1" height="2.1"/>
<rect x="845.0" y="396.3" width="2.1" height="2.1"/>
<rect x="867.5" y="394.2" width="2.1" height="2.1"/>
<rect x="889.9" y="392.6" width="2.1" height="2.1"/>
<rect x="912.4" y="392.1" width="2.1" height="2.1"/>
<rect x="934.8" y="390.8" width="2.1" height="2.1"/>
<rect x="957.2" y="389.7" width="2.1" height="2.1"/>
<rect x="643.0" y="432.1" width="2.1" height="2.1"/>
<rect x="665.4" y="430.4" width="2.1" height="2.1"/>
<rect x="687.9" y="428.2" width="2.1" height="2.1"/>
<rect x="710.3" y="424.0" width="2.1" height="2.1"/>
<rect x="732.8" y="421.6" width="2.1" height="2.1"/>
<rect x="755.2" y="420.2" width="2.1" height="2.1"/>
<rect x="777.7" y="418.5" width="2.1" height="2.1"/>
<rect x="800.1" y="417.3" width="2.1" height="2.1"/>
<rect x="822.6" y="415.6" width="2.1" height="2.1"/>
<rect x="845.0" y="412.5" width="2.1" height="2.1"/>
<rect x="867.5" y="411.8" width="2.1" height="2.1"/>
<rect x="889.9" y="410.7" width="2.1" height="2.1"/>
<rect x="912.4" y="410.4" width="2.1" height="2.1"/>
<rect x="934.8" y="409.6" width="2.1" height="2.1"/>
<rect x="957.2" y="409.2" width="2.1" height="2.1"/>
<rect x="643.0" y="431.2" width="2.1" height="2.1"/>
<rect x="665.4" y="429.1" width="2.1" height="2.1"/>
<rect x="687.9" y="423.2" width="2.1" height="2.1"/>
<rect x="710.3" y="418.6" width="2.1" height="2.1"/>
<rect x="732.8" y="417.6" width="2.1" height="2.1"/>
<rect x="755.2" y="416.7" width="2.1" height="2.1"/>
<rect x="777.7" y="413.4" width="2.1" height="2.1"/>
<rect x="800.1" y="411.0" width="2.1" height="2.1"/>
<rect x="822.6" y="405.1" width="2.1" height="2.1"/>
<rect x="845.0" y="404.5" width="2.1" height="2.1"/>
<rect x="867.5" y="403.1" width="2.1" height="2.1"/>
<rect x="889.9" y="400.6" width="2.1" height="2.1"/>
<rect x="912.4" y="398.2" width="2.1" height="2.1"/>
<rect x="934.8" y="397.0" width="2.1" height="2.1"/>
<rect x="957.2" y="395.4" width="2.1" height="2.1"/>
<rect x="643.0" y="429.8" width="2.1" height="2.1"/>
<rect x="665.4" y="426.2" width="2.1" height="2.1"/>
<rect x="687.9" y="418.5" width="2.1" height="2.1"/>
<rect x="710.3" y="412.4" width="2.1" height="2.1"/>
<rect x="732.8" y="409.2" width="2.1" height="2.1"/>
<rect x="755.2" y="406.1" width="2.1" height="2.1"/>
<rect x="777.7" y="401.7" width="2.1" height="2.1"/>
<rect x="800.1" y="397.4" width="2.1" height="2.1"/>
<rect x="822.6" y="388.3" width="2.1" height="2.1"/>
<rect x="845.0" y="384.5" width="2.1" height="2.1"/>
<rect x="867.5" y="381.5" width="2.1" height="2.1"/>
<rect x="889.9" y="379.5" width="2.1" height="2.1"/>
<rect x="912.4" y="375.3" width="2.1" height="2.1"/>
<rect x="934.8" y="372.7" width="2.1" height="2.1"/>
<rect x="957.2" y="371.0" width="2.1" height="2.1"/>
<rect x="643.0" y="430.6" width="2.1" height="2.1"/>
<rect x="665.4" y="426.2" width="2.1" height="2.1"/>
<rect x="687.9" y="422.7" width="2.1" height="2.1"/>
<rect x="710.3" y="418.0" width="2.1" height="2.1"/>
<rect x="732.8" y="415.5" width="2.1" height="2.1"/>
<rect x="755.2" y="412.7" width="2.1" height="2.1"/>
<rect x="777.7" y="408.9" width="2.1" height="2.1"/>
<rect x="800.1" y="400.1" width="2.1" height="2.1"/>
<rect x="822.6" y="394.6" width="2.1" height="2.1"/>
<rect x="845.0" y="393.7" width="2.1" height="2.1"/>
<rect x="867.5" y="390.0" width="2.1" height="2.1"/>
<rect x="889.9" y="388.2" width="2.1" height="2.1"/>
<rect x="912.4" y="385.8" width="2.1" height="2.1"/>
<rect x="934.8" y="384.6" width="2.1" height="2.1"/>
<rect x="957.2" y="382.9" width="2.1" height="2.1"/>
<rect x="643.0" y="428.6" width="2.1" height="2.1"/>
<rect x="665.4" y="425.5" width="2.1" height="2.1"/>
<rect x="687.9" y="418.2" width="2.1" height="2.1"/>
<rect x="710.3" y="416.8" width="2.1" height="2.1"/>
<rect x="732.8" y="415.6" width="2.1" height="2.1"/>
<rect x="755.2" y="409.6" width="2.1" height="2.1"/>
<rect x="777.7" y="400.2" width="2.1" height="2.1"/>
<rect x="800.1" y="395.8" width="2.1" height="2.1"/>
<rect x="822.6" y="394.3" width="2.1" height="2.1"/>
<rect x="845.0" y="389.7" width="2.1" height="2.1"/>
<rect x="867.5" y="386.3" width="2.1" height="2.1"/>
<rect x="889.9" y="382.0" width="2.1" height="2.1"/>
<rect x="912.4" y="379.6" width="2.1" height="2.1"/>
<rect x="934.8" y="378.7" width="2.1" height="2.1"/>
<rect x="957.2" y="376.7" width="2.1" height="2.1"/>
<rect x="643.0" y="431.5" width="2.1" height="2.1"/>
<rect x="665.4" y="429.7" width="2.1" height="2.1"/>
<rect x="687.9" y="427.3" width="2.1" height="2.1"/>
<rect x="710.3" y="422.9" width="2.1" height="2.1"/>
<rect x="732.8" y="420.8" width="2.1" height="2.1"/>
<rect x="755.2" y="416.8" width="2.1" height="2.1"/>
<rect x="777.7" y="412.9" width="2.1" height="2.1"/>
<rect x="800.1" y="408.3" width="2.1" height="2.1"/>
<rect x="822.6" y="405.0" width="2.1" height="2.1"/>
<rect x="845.0" y="401.8" width="2.1" height="2.1"/>
<rect x="867.5" y="398.6" width="2.1" height="2.1"/>
<rect x="889.9" y="394.6" width="2.1" height="2.1"/>
<rect x="912.4" y="392.5" width="2.1" height="2.1"/>
<rect x="934.8" y="391.1" width="2.1" height="2.1"/>
<rect x="957.2" y="389.5" width="2.1" height="2.1"/>
<rect x="643.0" y="430.5" width="2.1" height="2.1"/>
<rect x="665.4" y="427.1" width="2.1" height="2.1"/>
<rect x="687.9" y="421.2" width="2.1" height="2.1"/>
<rect x="710.3" y="411.7" width="2.1" height="2.1"/>
<rect x="732.8" y="408.9" width="2.1" height="2.1"/>
<rect x="755.2" y="407.3" width="2.1" height="2.1"/>
<rect x="777.7" y="406.9" width="2.1" height="2.1"/>
<rect x="800.1" y="406.5" width="2.1" height="2.1"/>
<rect x="822.6" y="401.8" width="2.1" height="2.1"/>
<rect x="845.0" y="399.6" width="2.1" height="2.1"/>
<rect x="867.5" y="396.6" width="2.1" height="2.1"/>
<rect x="889.9" y="393.6" width="2.1" height="2.1"/>
<rect x="912.4" y="391.7" width="2.1" height="2.1"/>
<rect x="934.8" y="387.8" width="2.1" height="2.1"/>
<rect x="957.2" y="385.5" width="2.1" height="2.1"/>
<rect x="643.0" y="429.6" width="2.1" height="2.1"/>
<rect x="665.4" y="425.5" width="2.1" height="2.1"/>
<rect x="687.9" y="421.2" width="2.1" height="2.1"/>
<rect x="710.3" y="417.2" width="2.1" height="2.1"/>
<rect x="732.8" y="414.3" width="2.1" height="2.1"/>
<rect x="755.2" y="413.7" width="2.1" height="2.1"/>
<rect x="777.7" y="411.8" width="2.1" height="2.1"/>
<rect x="800.1" y="404.8" width="2.1" height="2.1"/>
<rect x="822.6" y="399.3" width="2.1" height="2.1"/>
<rect x="845.0" y="396.4" width="2.1" height="2.1"/>
<rect x="867.5" y="395.1" width="2.1" height="2.1"/>
<rect x="889.9" y="388.2" width="2.1" height="2.1"/>
<rect x="912.4" y="382.5" width="2.1" height="2.1"/>
<rect x="934.8" y="380.5" width="2.1" height="2.1"/>
<rect x="957.2" y="374.1" width="2.1" height="2.1"/>
<rect x="643.0" y="430.5" width="2.1" height="2.1"/>
<rect x="665.4" y="427.7" width="2.1" height="2.1"/>
<rect x="687.9" y="426.0" width="2.1" height="2.1"/>
<rect x="710.3" y="420.8" width="2.1" height="2.1"/>
<rect x="732.8" y="418.9" width="2.1" height="2.1"/>
<rect x="755.2" y="416.5" width="2.1" height="2.1"/>
<rect x="777.7" y="413.6" width="2.1" height="2.1"/>
<rect x="800.1" y="410.3" width="2.1" height="2.1"/>
<rect x="822.6" y="408.9" width="2.1" height="2.1"/>
<rect x="845.0" y="408.4" width="2.1" height="2.1"/>
<rect x="867.5" y="403.5" width="2.1" height="2.1"/>
<rect x="889.9" y="399.1" width="2.1" height="2.1"/>
<rect x="912.4" y="398.1" width="2.1" height="2.1"/>
<rect x="934.8" y="396.8" width="2.1" height="2.1"/>
<rect x="957.2" y="394.0" width="2.1" height="2.1"/>
<rect x="643.0" y="429.0" width="2.1" height="2.1"/>
<rect x="665.4" y="423.0" width="2.1" height="2.1"/>
<rect x="687.9" y="418.6" width="2.1" height="2.1"/>
<rect x="710.3" y="411.7" width="2.1" height="2.1"/>
<rect x="732.8" y="407.3" width="2.1" height="2.1"/>
<rect x="755.2" y="403.8" width="2.1" height="2.1"/>
<rect x="777.7" y="398.5" width="2.1" height="2.1"/>
<rect x="800.1" y="393.2" width="2.1" height="2.1"/>
<rect x="822.6" y="392.4" width="2.1" height="2.1"/>
<rect x="845.0" y="391.4" width="2.1" height="2.1"/>
<rect x="867.5" y="384.0" width="2.1" height="2.1"/>
<rect x="889.9" y="379.9" width="2.1" height="2.1"/>
<rect x="912.4" y="377.1" width="2.1" height="2.1"/>
<rect x="934.8" y="373.8" width="2.1" height="2.1"/>
<rect x="957.2" y="369.8" width="2.1" height="2.1"/>
<rect x="643.0" y="430.3" width="2.1" height="2.1"/>
<rect x="665.4" y="429.2" width="2.1" height="2.1"/>
<rect x="687.9" y="425.9" width="2.1" height="2.1"/>
<rect x="710.3" y="421.3" width="2.1" height="2.1"/>
<rect x="732.8" y="417.5" width="2.1" height="2.1"/>
<rect x="755.2" y="416.0" width="2.1" height="2.1"/>
<rect x="777.7" y="410.5" width="2.1" height="2.1"/>
<rect x="800.1" y="407.6" width="2.1" height="2.1"/>
<rect x="822.6" y="405.5" width="2.1" height="2.1"/>
<rect x="845.0" y="403.2" width="2.1" height="2.1"/>
<rect x="867.5" y="397.0" width="2.1" height="2.1"/>
<rect x="889.9" y="391.3" width="2.1" height="2.1"/>
<rect x="912.4" y="387.7" width="2.1" height="2.1"/>
<rect x="934.8" y="385.0" width="2.1" height="2.1"/>
<rect x="957.2" y="380.3" width="2.1" height="2.1"/>
<rect x="643.0" y="431.1" width="2.1" height="2.1"/>
<rect x="665.4" y="424.8" width="2.1" height="2.1"/>
<rect x="687.9" y="417.9" width="2.1" height="2.1"/>
<rect x="710.3" y="412.9" width="2.1" height="2.1"/>
<rect x="732.8" y="408.5" width="2.1" height="2.1"/>
<rect x="755.2" y="408.2" width="2.1" height="2.1"/>
<rect x="777.7" y="403.7" width="2.1" height="2.1"/>
<rect x="800.1" y="401.0" width="2.1" height="2.1"/>
<rect x="822.6" y="394.4" width="2.1" height="2.1"/>
<rect x="845.0" y="391.8" width="2.1" height="2.1"/>
<rect x="867.5" y="387.6" width="2.1" height="2.1"/>
<rect x="889.9" y="386.1" width="2.1" height="2.1"/>
<rect x="912.4" y="383.4" width="2.1" height="2.1"/>
<rect x="934.8" y="381.9" width="2.1" height="2.1"/>
<rect x="957.2" y="379.4" width="2.1" height="2.1"/>
<rect x="643.0" y="430.5" width="2.1" height="2.1"/>
<rect x="665.4" y="424.7" width="2.1" height="2.1"/>
<rect x="687.9" y="421.8" width="2.1" height="2.1"/>
<rect x="710.3" y="416.8" width="2.1" height="2.1"/>
<rect x="732.8" y="414.0" width="2.1" height="2.1"/>
<rect x="755.2" y="412.8" width="2.1" height="2.1"/>
<rect x="777.7" y="406.8" width="2.1" height="2.1"/>
<rect x="800.1" y="404.8" width="2.1" height="2.1"/>
<rect x="822.6" y="402.1" width="2.1" height="2.1"/>
<rect x="845.0" y="400.4" width="2.1" height="2.1"/>
<rect x="867.5" y="397.5" width="2.1" height="2.1"/>
<rect x="889.9" y="396.2" width="2.1" height="2.1"/>
<rect x="912.4" y="394.3" width="2.1" height="2.1"/>
<rect x="934.8" y="390.2" width="2.1" height="2.1"/>
<rect x="957.2" y="388.3" width="2.1" height="2.1"/>
<rect x="643.0" y="430.4" width="2.1" height="2.1"/>
<rect x="665.4" y="428.0" width="2.1" height="2.1"/>
<rect x="687.9" y="423.6" width="2.1" height="2.1"/>
<rect x="710.3" y="415.4" width="2.1" height="2.1"/>
<rect x="732.8" y="412.5" width="2.1" height="2.1"/>
<rect x="755.2" y="410.7" width="2.1" height="2.1"/>
<rect x="777.7" y="406.5" width="2.1" height="2.1"/>
<rect x="800.1" y="404.9" width="2.1" height="2.1"/>
<rect x="822.6" y="403.3" width="2.1" height="2.1"/>
<rect x="845.0" y="401.9" width="2.1" height="2.1"/>
<rect x="867.5" y="398.5" width="2.1" height="2.1"/>
<rect x="889.9" y="397.3" width="2.1" height="2.1"/>
<rect x="912.4" y="394.4" width="2.1" height="2.1"/>
<rect x="934.8" y="393.2" width="2.1" height="2.1"/>
<rect x="957.2" y="390.1" width="2.1" height="2.1"/>
<rect x="643.0" y="431.4" width="2.1" height="2.1"/>
<rect x="665.4" y="427.5" width="2.1" height="2.1"/>
<rect x="687.9" y="425.6" width="2.1" height="2.1"/>
<rect x="710.3" y="420.5" width="2.1" height="2.1"/>
<rect x="732.8" y="418.6" width="2.1" height="2.1"/>
<rect x="755.2" y="417.0" width="2.1" height="2.1"/>
<rect x="777.7" y="414.6" width="2.1" height="2.1"/>
<rect x="800.1" y="411.8" width="2.1" height="2.1"/>
<rect x="822.6" y="407.1" width="2.1" height="2.1"/>
<rect x="845.0" y="405.3" width="2.1" height="2.1"/>
<rect x="867.5" y="404.4" width="2.1" height="2.1"/>
<rect x="889.9" y="403.4" width="2.1" height="2.1"/>
<rect x="912.4" y="401.5" width="2.1" height="2.1"/>
<rect x="934.8" y="401.0" width="2.1" height="2.1"/>
<rect x="957.2" y="398.3" width="2.1" height="2.1"/>
</g>
<polyline points="621.6,435.0 644.0,432.8 666.5,430.6 688.9,428.4 711.4,426.3 733.8,424.1 756.3,421.9 778.7,419.7 801.2,417.5 823.6,415.3 846.1,413.1 868.5,410.9 891.0,408.8 913.4,406.6 935.9,404.4 958.3,402.2" fill="none" stroke="#2f48ee" stroke-width="1.35"/>
<polyline points="621.6,435.0 644.0,431.7 666.5,428.1 688.9,424.0 711.4,419.9 733.8,416.7 756.3,414.2 778.7,410.3 801.2,406.5 823.6,403.0 846.1,399.9 868.5,396.9 891.0,394.2 913.4,391.8 935.9,389.8 958.3,387.3" fill="none" stroke="#2a2a2a" stroke-width="0.65"/>
<circle cx="621.6" cy="435.0" r="1.35" fill="#000"/>
<circle cx="644.0" cy="431.7" r="1.35" fill="#000"/>
<circle cx="666.5" cy="428.1" r="1.35" fill="#000"/>
<circle cx="688.9" cy="424.0" r="1.35" fill="#000"/>
<circle cx="711.4" cy="419.9" r="1.35" fill="#000"/>
<circle cx="733.8" cy="416.7" r="1.35" fill="#000"/>
<circle cx="756.3" cy="414.2" r="1.35" fill="#000"/>
<circle cx="778.7" cy="410.3" r="1.35" fill="#000"/>
<circle cx="801.2" cy="406.5" r="1.35" fill="#000"/>
<circle cx="823.6" cy="403.0" r="1.35" fill="#000"/>
<circle cx="846.1" cy="399.9" r="1.35" fill="#000"/>
<circle cx="868.5" cy="396.9" r="1.35" fill="#000"/>
<circle cx="891.0" cy="394.2" r="1.35" fill="#000"/>
<circle cx="913.4" cy="391.8" r="1.35" fill="#000"/>
<circle cx="935.9" cy="389.8" r="1.35" fill="#000"/>
<circle cx="958.3" cy="387.3" r="1.35" fill="#000"/>
</g>
<rect x="621.6" y="343.6" width="336.7" height="101.3" fill="none" stroke="#646464" stroke-width="1.4"/>
<line x1="619.4" x2="621.6" y1="349.4" y2="349.4" stroke="#646464" stroke-width="0.8"/>
<text x="611.4" y="352.0" font-size="7.3" fill="#3a3a3a" textLength="4.4" lengthAdjust="spacingAndGlyphs" letter-spacing="0.4" word-spacing="2.04" stroke="#3a3a3a" stroke-width="0.18" >8</text>
<line x1="619.4" x2="621.6" y1="371.4" y2="371.4" stroke="#646464" stroke-width="0.8"/>
<text x="611.4" y="374.0" font-size="7.3" fill="#3a3a3a" textLength="4.4" lengthAdjust="spacingAndGlyphs" letter-spacing="0.4" word-spacing="2.04" stroke="#3a3a3a" stroke-width="0.18" >6</text>
<line x1="619.4" x2="621.6" y1="393.3" y2="393.3" stroke="#646464" stroke-width="0.8"/>
<text x="611.4" y="395.9" font-size="7.3" fill="#3a3a3a" textLength="4.4" lengthAdjust="spacingAndGlyphs" letter-spacing="0.4" word-spacing="2.04" stroke="#3a3a3a" stroke-width="0.18" >4</text>
<line x1="619.4" x2="621.6" y1="415.2" y2="415.2" stroke="#646464" stroke-width="0.8"/>
<text x="611.4" y="417.9" font-size="7.3" fill="#3a3a3a" textLength="4.4" lengthAdjust="spacingAndGlyphs" letter-spacing="0.4" word-spacing="2.04" stroke="#3a3a3a" stroke-width="0.18" >2</text>
<line x1="619.4" x2="621.6" y1="437.2" y2="437.2" stroke="#646464" stroke-width="0.8"/>
<text x="611.4" y="439.8" font-size="7.3" fill="#3a3a3a" textLength="4.4" lengthAdjust="spacingAndGlyphs" letter-spacing="0.4" word-spacing="2.04" stroke="#3a3a3a" stroke-width="0.18" >0</text>
<line x1="621.6" x2="621.6" y1="444.9" y2="446.7" stroke="#646464" stroke-width="0.8"/>
<text x="611.9" y="451.8" font-size="5.6" fill="#333" textLength="19.5" lengthAdjust="spacingAndGlyphs" letter-spacing="0.3" word-spacing="1.57" stroke="#333" stroke-width="0.1">23MAR</text>
<line x1="666.5" x2="666.5" y1="444.9" y2="446.7" stroke="#646464" stroke-width="0.8"/>
<text x="656.7" y="451.8" font-size="5.6" fill="#333" textLength="19.5" lengthAdjust="spacingAndGlyphs" letter-spacing="0.3" word-spacing="1.57" stroke="#333" stroke-width="0.1">25MAR</text>
<line x1="711.4" x2="711.4" y1="444.9" y2="446.7" stroke="#646464" stroke-width="0.8"/>
<text x="701.6" y="451.8" font-size="5.6" fill="#333" textLength="19.5" lengthAdjust="spacingAndGlyphs" letter-spacing="0.3" word-spacing="1.57" stroke="#333" stroke-width="0.1">27MAR</text>
<line x1="756.3" x2="756.3" y1="444.9" y2="446.7" stroke="#646464" stroke-width="0.8"/>
<text x="746.5" y="451.8" font-size="5.6" fill="#333" textLength="19.5" lengthAdjust="spacingAndGlyphs" letter-spacing="0.3" word-spacing="1.57" stroke="#333" stroke-width="0.1">29MAR</text>
<line x1="823.6" x2="823.6" y1="444.9" y2="446.7" stroke="#646464" stroke-width="0.8"/>
<text x="816.0" y="451.8" font-size="5.6" fill="#333" textLength="15.2" lengthAdjust="spacingAndGlyphs" letter-spacing="0.3" word-spacing="1.57" stroke="#333" stroke-width="0.1">1APR</text>
<line x1="868.5" x2="868.5" y1="444.9" y2="446.7" stroke="#646464" stroke-width="0.8"/>
<text x="860.9" y="451.8" font-size="5.6" fill="#333" textLength="15.2" lengthAdjust="spacingAndGlyphs" letter-spacing="0.3" word-spacing="1.57" stroke="#333" stroke-width="0.1">3APR</text>
<line x1="913.4" x2="913.4" y1="444.9" y2="446.7" stroke="#646464" stroke-width="0.8"/>
<text x="905.8" y="451.8" font-size="5.6" fill="#333" textLength="15.2" lengthAdjust="spacingAndGlyphs" letter-spacing="0.3" word-spacing="1.57" stroke="#333" stroke-width="0.1">5APR</text>
<line x1="958.3" x2="958.3" y1="444.9" y2="446.7" stroke="#646464" stroke-width="0.8"/>
<text x="950.7" y="451.8" font-size="5.6" fill="#333" textLength="15.2" lengthAdjust="spacingAndGlyphs" letter-spacing="0.3" word-spacing="1.57" stroke="#333" stroke-width="0.1">7APR</text>
<text x="614.6" y="457.1" font-size="5.6" fill="#333" textLength="14.0" lengthAdjust="spacingAndGlyphs" letter-spacing="0.3" word-spacing="1.57" stroke="#333" stroke-width="0.1">2025</text>
<rect x="624.0" y="345.1" width="333.5" height="16.6" fill="#fff"/>
<text x="629.0" y="351.6" font-size="5.6" fill="#3a3a3a" textLength="190.0" lengthAdjust="spacingAndGlyphs" letter-spacing="0.45" word-spacing="1.57" stroke="#3a3a3a" stroke-width="0.18" >National Weather Service Global Forecast System</text>
<line x1="631.6" x2="657.0" y1="356.5" y2="356.5" stroke="#b4b4b4" stroke-width="0.7"/>
<rect x="630.7" y="355.6" width="1.8" height="1.8" fill="#a3a3a3"/>
<rect x="656.1" y="355.6" width="1.8" height="1.8" fill="#a3a3a3"/>
<text x="663.6" y="358.7" font-size="5.6" fill="#3a3a3a" textLength="73.0" lengthAdjust="spacingAndGlyphs" letter-spacing="0.45" word-spacing="1.57" stroke="#3a3a3a" stroke-width="0.18" >Ensemble Members</text>
<line x1="758.0" x2="783.6" y1="355.3" y2="355.3" stroke="#e6b368" stroke-width="2"/>
<line x1="758.0" x2="783.6" y1="357.6" y2="357.6" stroke="#90e248" stroke-width="1.7"/>
<line x1="758.0" x2="783.6" y1="356.6" y2="356.6" stroke="#111" stroke-width="0.6"/>
<circle cx="758.0" cy="356.5" r="1.3" fill="#000"/>
<circle cx="783.6" cy="356.5" r="1.3" fill="#000"/>
<text x="790.0" y="358.7" font-size="5.6" fill="#3a3a3a" textLength="68.5" lengthAdjust="spacingAndGlyphs" letter-spacing="0.45" word-spacing="1.57" stroke="#3a3a3a" stroke-width="0.18" >Ensemble Average</text>
<line x1="885.0" x2="910.3" y1="356.5" y2="356.5" stroke="#4d5eee" stroke-width="1.6"/>
<text x="917.2" y="358.7" font-size="5.6" fill="#3a3a3a" textLength="26.2" lengthAdjust="spacingAndGlyphs" letter-spacing="0.45" word-spacing="1.57" stroke="#3a3a3a" stroke-width="0.18" >Normal</text>
<rect x="628.0" y="363.8" width="173.5" height="13.0" fill="#fff" stroke="#777" stroke-width="0.7"/>
<text x="637.8" y="369.4" font-size="5.4" fill="#3a3a3a" textLength="59.0" lengthAdjust="spacingAndGlyphs" letter-spacing="0.43" word-spacing="1.51" stroke="#3a3a3a" stroke-width="0.18" >Percent of Crop:</text>
<text x="631.9" y="374.6" font-size="5.4" fill="#3a3a3a" textLength="64.8" lengthAdjust="spacingAndGlyphs" letter-spacing="0.43" word-spacing="1.51" stroke="#3a3a3a" stroke-width="0.18" >Receives at Least:</text>
<text x="707.8" y="369.4" font-size="5.4" fill="#3a3a3a" textLength="8.7" lengthAdjust="spacingAndGlyphs" letter-spacing="0.43" word-spacing="1.51" stroke="#3a3a3a" stroke-width="0.18" >90</text>
<text x="704.8" y="374.6" font-size="5.4" fill="#3a3a3a" textLength="23.0" lengthAdjust="spacingAndGlyphs" letter-spacing="0.43" word-spacing="1.51" stroke="#3a3a3a" stroke-width="0.18" >3.1 in.</text>
<text x="742.5" y="369.4" font-size="5.4" fill="#3a3a3a" textLength="8.7" lengthAdjust="spacingAndGlyphs" letter-spacing="0.43" word-spacing="1.51" stroke="#3a3a3a" stroke-width="0.18" >50</text>
<text x="739.5" y="374.6" font-size="5.4" fill="#3a3a3a" textLength="23.0" lengthAdjust="spacingAndGlyphs" letter-spacing="0.43" word-spacing="1.51" stroke="#3a3a3a" stroke-width="0.18" >4.3 in.</text>
<text x="777.6" y="369.4" font-size="5.4" fill="#3a3a3a" textLength="8.7" lengthAdjust="spacingAndGlyphs" letter-spacing="0.43" word-spacing="1.51" stroke="#3a3a3a" stroke-width="0.18" >10</text>
<text x="774.6" y="374.6" font-size="5.4" fill="#3a3a3a" textLength="23.0" lengthAdjust="spacingAndGlyphs" letter-spacing="0.43" word-spacing="1.51" stroke="#3a3a3a" stroke-width="0.18" >6.5 in.</text>
<text transform="translate(600.0,391.5) rotate(-90)" text-anchor="middle" font-size="6.8" fill="#3a3a3a" stroke="#3a3a3a" stroke-width="0.3" letter-spacing="-0.1">inches</text>
<clipPath id="b4"><rect x="620.9" y="458.5" width="338.2" height="53.6"/></clipPath>
<line x1="621.6" x2="958.3" y1="485.3" y2="485.3" stroke="#d2d2d2" stroke-width="0.6" stroke-dasharray="1 2.2"/>
<rect x="621.6" y="458.5" width="336.7" height="53.6" fill="none" stroke="#646464" stroke-width="1.4"/>
<g clip-path="url(#b4)" fill="#92ea48">
<rect x="613.6" y="485.5" width="16.0" height="26.6"/>
<rect x="636.0" y="480.9" width="16.0" height="31.2"/>
<rect x="658.5" y="477.8" width="16.0" height="34.3"/>
<rect x="680.9" y="471.6" width="16.0" height="40.5"/>
<rect x="703.4" y="470.8" width="16.0" height="41.3"/>
<rect x="725.8" y="479.4" width="16.0" height="32.7"/>
<rect x="748.3" y="486.8" width="16.0" height="25.3"/>
<rect x="770.7" y="479.4" width="16.0" height="32.7"/>
<rect x="793.2" y="472.2" width="16.0" height="39.9"/>
<rect x="815.6" y="477.9" width="16.0" height="34.2"/>
<rect x="838.1" y="484.2" width="16.0" height="27.9"/>
<rect x="860.5" y="485.3" width="16.0" height="26.8"/>
<rect x="883.0" y="485.3" width="16.0" height="26.8"/>
<rect x="905.4" y="485.3" width="16.0" height="26.8"/>
<rect x="927.9" y="486.8" width="16.0" height="25.3"/>
<rect x="950.3" y="488.5" width="16.0" height="23.6"/>
</g>
<line x1="620.9" x2="959.0" y1="512.1" y2="512.1" stroke="#646464" stroke-width="1.4"/>
<line x1="619.4" x2="621.6" y1="458.5" y2="458.5" stroke="#646464" stroke-width="0.8"/>
<text x="605.6" y="461.1" font-size="7.3" fill="#3a3a3a" textLength="10.2" lengthAdjust="spacingAndGlyphs" letter-spacing="0.4" word-spacing="2.04" stroke="#3a3a3a" stroke-width="0.18" >0.5</text>
<line x1="619.4" x2="621.6" y1="485.3" y2="485.3" stroke="#646464" stroke-width="0.8"/>
<text x="599.6" y="487.9" font-size="7.3" fill="#3a3a3a" textLength="16.2" lengthAdjust="spacingAndGlyphs" letter-spacing="0.4" word-spacing="2.04" stroke="#3a3a3a" stroke-width="0.18" >0.25</text>
<line x1="619.4" x2="621.6" y1="512.1" y2="512.1" stroke="#646464" stroke-width="0.8"/>
<text x="611.4" y="514.7" font-size="7.3" fill="#3a3a3a" textLength="4.4" lengthAdjust="spacingAndGlyphs" letter-spacing="0.4" word-spacing="2.04" stroke="#3a3a3a" stroke-width="0.18" >0</text>
<text x="628.8" y="465.4" font-size="5.6" fill="#3a3a3a" textLength="142.0" lengthAdjust="spacingAndGlyphs" letter-spacing="0.45" word-spacing="1.57" stroke="#3a3a3a" stroke-width="0.18" >Ensemble Average Daily Precipitation</text>
<text x="875.1" y="464.9" font-size="5.6" fill="#3a3a3a" textLength="76.0" lengthAdjust="spacingAndGlyphs" letter-spacing="0.45" word-spacing="1.57" stroke="#3a3a3a" stroke-width="0.18" >© World Ag Weather</text>
<line x1="621.6" x2="621.6" y1="512.1" y2="513.9" stroke="#646464" stroke-width="0.8"/>
<text x="611.9" y="518.8" font-size="5.6" fill="#333" textLength="19.5" lengthAdjust="spacingAndGlyphs" letter-spacing="0.3" word-spacing="1.57" stroke="#333" stroke-width="0.1">23MAR</text>
<line x1="666.5" x2="666.5" y1="512.1" y2="513.9" stroke="#646464" stroke-width="0.8"/>
<text x="656.7" y="518.8" font-size="5.6" fill="#333" textLength="19.5" lengthAdjust="spacingAndGlyphs" letter-spacing="0.3" word-spacing="1.57" stroke="#333" stroke-width="0.1">25MAR</text>
<line x1="711.4" x2="711.4" y1="512.1" y2="513.9" stroke="#646464" stroke-width="0.8"/>
<text x="701.6" y="518.8" font-size="5.6" fill="#333" textLength="19.5" lengthAdjust="spacingAndGlyphs" letter-spacing="0.3" word-spacing="1.57" stroke="#333" stroke-width="0.1">27MAR</text>
<line x1="756.3" x2="756.3" y1="512.1" y2="513.9" stroke="#646464" stroke-width="0.8"/>
<text x="746.5" y="518.8" font-size="5.6" fill="#333" textLength="19.5" lengthAdjust="spacingAndGlyphs" letter-spacing="0.3" word-spacing="1.57" stroke="#333" stroke-width="0.1">29MAR</text>
<line x1="823.6" x2="823.6" y1="512.1" y2="513.9" stroke="#646464" stroke-width="0.8"/>
<text x="816.0" y="518.8" font-size="5.6" fill="#333" textLength="15.2" lengthAdjust="spacingAndGlyphs" letter-spacing="0.3" word-spacing="1.57" stroke="#333" stroke-width="0.1">1APR</text>
<line x1="868.5" x2="868.5" y1="512.1" y2="513.9" stroke="#646464" stroke-width="0.8"/>
<text x="860.9" y="518.8" font-size="5.6" fill="#333" textLength="15.2" lengthAdjust="spacingAndGlyphs" letter-spacing="0.3" word-spacing="1.57" stroke="#333" stroke-width="0.1">3APR</text>
<line x1="913.4" x2="913.4" y1="512.1" y2="513.9" stroke="#646464" stroke-width="0.8"/>
<text x="905.8" y="518.8" font-size="5.6" fill="#333" textLength="15.2" lengthAdjust="spacingAndGlyphs" letter-spacing="0.3" word-spacing="1.57" stroke="#333" stroke-width="0.1">5APR</text>
<line x1="958.3" x2="958.3" y1="512.1" y2="513.9" stroke="#646464" stroke-width="0.8"/>
<text x="950.7" y="518.8" font-size="5.6" fill="#333" textLength="15.2" lengthAdjust="spacingAndGlyphs" letter-spacing="0.3" word-spacing="1.57" stroke="#333" stroke-width="0.1">7APR</text>
<text x="614.6" y="524.1" font-size="5.6" fill="#333" textLength="14.0" lengthAdjust="spacingAndGlyphs" letter-spacing="0.3" word-spacing="1.57" stroke="#333" stroke-width="0.1">2025</text>
<text transform="translate(600.2,485.3) rotate(-90)" text-anchor="middle" font-size="6.8" fill="#3a3a3a" stroke="#3a3a3a" stroke-width="0.3" letter-spacing="-0.1">inches</text>
<text x="380.8" y="505.8" font-size="13.3" fill="#111" font-family="'Liberation Serif', 'Noto Serif CJK SC', serif">数据来源：Ag Weather，正信期货</text>
<g transform="translate(572.6,501.8) scale(1.21,1) skewX(-12)" opacity="0.36" fill="#454545" stroke="#454545" stroke-linejoin="round" font-weight="900"><text x="0" y="0" font-size="26" stroke-width="0.5" font-family="'Liberation Sans', 'Noto Sans CJK SC', sans-serif">股期汇<tspan font-size="28" stroke-width="1.7" font-weight="bold" letter-spacing="-0.8" font-family="'Liberation Sans', sans-serif">(www.<tspan letter-spacing="0.6">guqihui.cn)</tspan></tspan></text></g>
</svg>
</body></html>
